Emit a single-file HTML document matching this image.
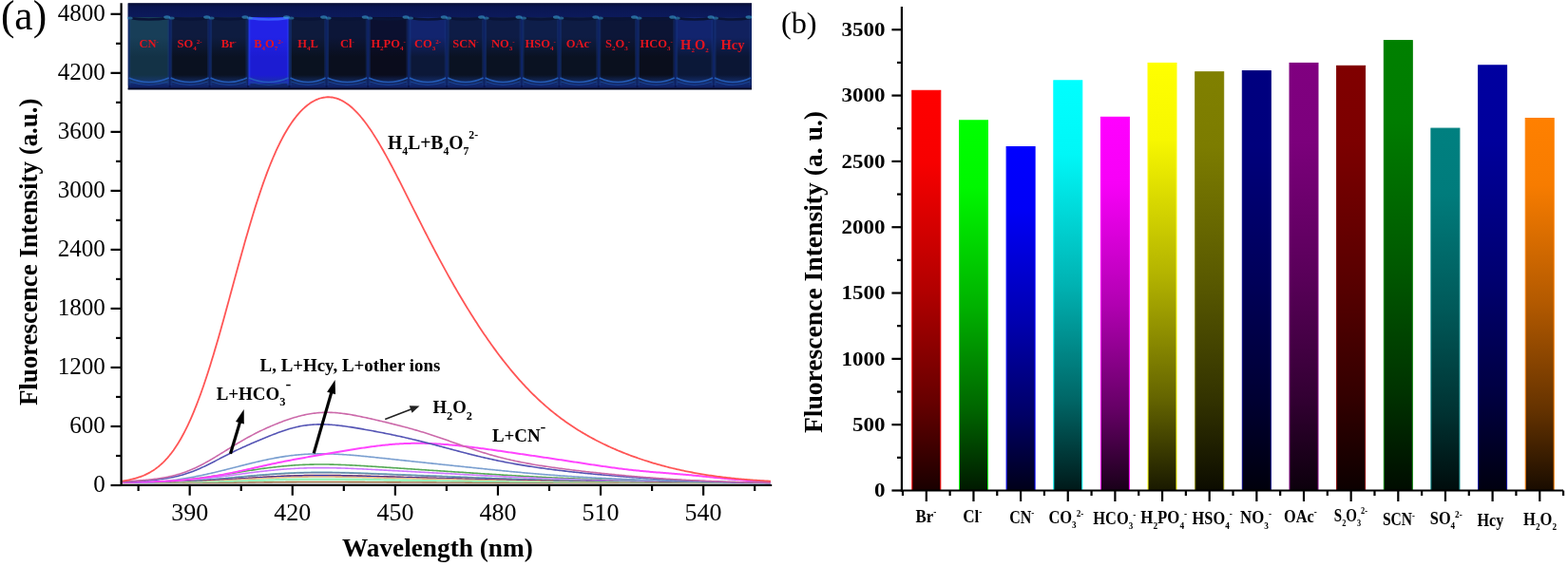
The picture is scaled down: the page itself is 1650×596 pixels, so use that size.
<!DOCTYPE html>
<html><head><meta charset="utf-8"><title>Fluorescence figure</title><style>
html,body{margin:0;padding:0;background:#fff;width:1650px;height:596px;overflow:hidden}
svg{display:block}
.sb{font-size:11px;baseline-shift:-4px}
.sp{font-size:11px;baseline-shift:6px}
.sb2{font-size:12px;baseline-shift:-6px}
.sp2{font-size:12px;baseline-shift:10px}
.pb{font-size:7px;baseline-shift:-3px}
.ps{font-size:7px;baseline-shift:4px}
</style></head>
<body><svg width="1650" height="596" viewBox="0 0 1650 596"><defs><linearGradient id="g0" x1="0" y1="0" x2="0" y2="1"><stop offset="0" stop-color="rgb(255,0,0)"/><stop offset="0.18" stop-color="rgb(247,0,0)"/><stop offset="0.5" stop-color="rgb(178,0,0)"/><stop offset="0.78" stop-color="rgb(102,0,0)"/><stop offset="1" stop-color="rgb(25,0,0)"/></linearGradient><linearGradient id="g1" x1="0" y1="0" x2="0" y2="1"><stop offset="0" stop-color="rgb(0,255,0)"/><stop offset="0.18" stop-color="rgb(0,247,0)"/><stop offset="0.5" stop-color="rgb(0,178,0)"/><stop offset="0.78" stop-color="rgb(0,102,0)"/><stop offset="1" stop-color="rgb(0,25,0)"/></linearGradient><linearGradient id="g2" x1="0" y1="0" x2="0" y2="1"><stop offset="0" stop-color="rgb(0,0,255)"/><stop offset="0.18" stop-color="rgb(0,0,247)"/><stop offset="0.5" stop-color="rgb(0,0,178)"/><stop offset="0.78" stop-color="rgb(0,0,102)"/><stop offset="1" stop-color="rgb(0,0,25)"/></linearGradient><linearGradient id="g3" x1="0" y1="0" x2="0" y2="1"><stop offset="0" stop-color="rgb(0,255,255)"/><stop offset="0.18" stop-color="rgb(0,247,247)"/><stop offset="0.5" stop-color="rgb(0,178,178)"/><stop offset="0.78" stop-color="rgb(0,102,102)"/><stop offset="1" stop-color="rgb(0,25,25)"/></linearGradient><linearGradient id="g4" x1="0" y1="0" x2="0" y2="1"><stop offset="0" stop-color="rgb(255,0,255)"/><stop offset="0.18" stop-color="rgb(247,0,247)"/><stop offset="0.5" stop-color="rgb(178,0,178)"/><stop offset="0.78" stop-color="rgb(102,0,102)"/><stop offset="1" stop-color="rgb(25,0,25)"/></linearGradient><linearGradient id="g5" x1="0" y1="0" x2="0" y2="1"><stop offset="0" stop-color="rgb(255,255,0)"/><stop offset="0.18" stop-color="rgb(247,247,0)"/><stop offset="0.5" stop-color="rgb(178,178,0)"/><stop offset="0.78" stop-color="rgb(102,102,0)"/><stop offset="1" stop-color="rgb(25,25,0)"/></linearGradient><linearGradient id="g6" x1="0" y1="0" x2="0" y2="1"><stop offset="0" stop-color="rgb(128,128,0)"/><stop offset="0.18" stop-color="rgb(124,124,0)"/><stop offset="0.5" stop-color="rgb(89,89,0)"/><stop offset="0.78" stop-color="rgb(51,51,0)"/><stop offset="1" stop-color="rgb(12,12,0)"/></linearGradient><linearGradient id="g7" x1="0" y1="0" x2="0" y2="1"><stop offset="0" stop-color="rgb(0,0,128)"/><stop offset="0.18" stop-color="rgb(0,0,124)"/><stop offset="0.5" stop-color="rgb(0,0,89)"/><stop offset="0.78" stop-color="rgb(0,0,51)"/><stop offset="1" stop-color="rgb(0,0,12)"/></linearGradient><linearGradient id="g8" x1="0" y1="0" x2="0" y2="1"><stop offset="0" stop-color="rgb(128,0,128)"/><stop offset="0.18" stop-color="rgb(124,0,124)"/><stop offset="0.5" stop-color="rgb(89,0,89)"/><stop offset="0.78" stop-color="rgb(51,0,51)"/><stop offset="1" stop-color="rgb(12,0,12)"/></linearGradient><linearGradient id="g9" x1="0" y1="0" x2="0" y2="1"><stop offset="0" stop-color="rgb(128,0,0)"/><stop offset="0.18" stop-color="rgb(124,0,0)"/><stop offset="0.5" stop-color="rgb(89,0,0)"/><stop offset="0.78" stop-color="rgb(51,0,0)"/><stop offset="1" stop-color="rgb(12,0,0)"/></linearGradient><linearGradient id="g10" x1="0" y1="0" x2="0" y2="1"><stop offset="0" stop-color="rgb(0,128,0)"/><stop offset="0.18" stop-color="rgb(0,124,0)"/><stop offset="0.5" stop-color="rgb(0,89,0)"/><stop offset="0.78" stop-color="rgb(0,51,0)"/><stop offset="1" stop-color="rgb(0,12,0)"/></linearGradient><linearGradient id="g11" x1="0" y1="0" x2="0" y2="1"><stop offset="0" stop-color="rgb(0,128,128)"/><stop offset="0.18" stop-color="rgb(0,124,124)"/><stop offset="0.5" stop-color="rgb(0,89,89)"/><stop offset="0.78" stop-color="rgb(0,51,51)"/><stop offset="1" stop-color="rgb(0,12,12)"/></linearGradient><linearGradient id="g12" x1="0" y1="0" x2="0" y2="1"><stop offset="0" stop-color="rgb(0,0,160)"/><stop offset="0.18" stop-color="rgb(0,0,155)"/><stop offset="0.5" stop-color="rgb(0,0,112)"/><stop offset="0.78" stop-color="rgb(0,0,64)"/><stop offset="1" stop-color="rgb(0,0,16)"/></linearGradient><linearGradient id="g13" x1="0" y1="0" x2="0" y2="1"><stop offset="0" stop-color="rgb(255,128,0)"/><stop offset="0.18" stop-color="rgb(247,124,0)"/><stop offset="0.5" stop-color="rgb(178,89,0)"/><stop offset="0.78" stop-color="rgb(102,51,0)"/><stop offset="1" stop-color="rgb(25,12,0)"/></linearGradient></defs><rect width="1650" height="596" fill="#fff"/><rect x="134.7" y="3.4" width="656.3" height="90.9" fill="#0a1650"/><defs><linearGradient id="v0" x1="0" y1="0" x2="0" y2="1"><stop offset="0" stop-color="#183e58"/><stop offset="0.3" stop-color="#183e58"/><stop offset="0.6" stop-color="#133246"/><stop offset="1" stop-color="#133246"/></linearGradient><linearGradient id="v1" x1="0" y1="0" x2="0" y2="1"><stop offset="0" stop-color="#0e1a3e"/><stop offset="0.3" stop-color="#0e1a3e"/><stop offset="0.6" stop-color="#0a1120"/><stop offset="1" stop-color="#0a1120"/></linearGradient><linearGradient id="v2" x1="0" y1="0" x2="0" y2="1"><stop offset="0" stop-color="#0e1c40"/><stop offset="0.3" stop-color="#0e1c40"/><stop offset="0.6" stop-color="#0a1222"/><stop offset="1" stop-color="#0a1222"/></linearGradient><linearGradient id="v3" x1="0" y1="0" x2="0" y2="1"><stop offset="0" stop-color="#2222e6"/><stop offset="0.3" stop-color="#2222e6"/><stop offset="0.6" stop-color="#1c1cd2"/><stop offset="1" stop-color="#1c1cd2"/></linearGradient><linearGradient id="v4" x1="0" y1="0" x2="0" y2="1"><stop offset="0" stop-color="#0e1a3c"/><stop offset="0.3" stop-color="#0e1a3c"/><stop offset="0.6" stop-color="#0a1220"/><stop offset="1" stop-color="#0a1220"/></linearGradient><linearGradient id="v5" x1="0" y1="0" x2="0" y2="1"><stop offset="0" stop-color="#0c1638"/><stop offset="0.3" stop-color="#0c1638"/><stop offset="0.6" stop-color="#0a0f1e"/><stop offset="1" stop-color="#0a0f1e"/></linearGradient><linearGradient id="v6" x1="0" y1="0" x2="0" y2="1"><stop offset="0" stop-color="#0b1030"/><stop offset="0.3" stop-color="#0b1030"/><stop offset="0.6" stop-color="#0a0c1c"/><stop offset="1" stop-color="#0a0c1c"/></linearGradient><linearGradient id="v7" x1="0" y1="0" x2="0" y2="1"><stop offset="0" stop-color="#12246e"/><stop offset="0.3" stop-color="#12246e"/><stop offset="0.6" stop-color="#0c1838"/><stop offset="1" stop-color="#0c1838"/></linearGradient><linearGradient id="v8" x1="0" y1="0" x2="0" y2="1"><stop offset="0" stop-color="#0e1c46"/><stop offset="0.3" stop-color="#0e1c46"/><stop offset="0.6" stop-color="#0a1222"/><stop offset="1" stop-color="#0a1222"/></linearGradient><linearGradient id="v9" x1="0" y1="0" x2="0" y2="1"><stop offset="0" stop-color="#0e1c46"/><stop offset="0.3" stop-color="#0e1c46"/><stop offset="0.6" stop-color="#0a1222"/><stop offset="1" stop-color="#0a1222"/></linearGradient><linearGradient id="v10" x1="0" y1="0" x2="0" y2="1"><stop offset="0" stop-color="#0e1e4a"/><stop offset="0.3" stop-color="#0e1e4a"/><stop offset="0.6" stop-color="#0a1222"/><stop offset="1" stop-color="#0a1222"/></linearGradient><linearGradient id="v11" x1="0" y1="0" x2="0" y2="1"><stop offset="0" stop-color="#0e1c44"/><stop offset="0.3" stop-color="#0e1c44"/><stop offset="0.6" stop-color="#0a1222"/><stop offset="1" stop-color="#0a1222"/></linearGradient><linearGradient id="v12" x1="0" y1="0" x2="0" y2="1"><stop offset="0" stop-color="#0c1638"/><stop offset="0.3" stop-color="#0c1638"/><stop offset="0.6" stop-color="#0a101e"/><stop offset="1" stop-color="#0a101e"/></linearGradient><linearGradient id="v13" x1="0" y1="0" x2="0" y2="1"><stop offset="0" stop-color="#0c1434"/><stop offset="0.3" stop-color="#0c1434"/><stop offset="0.6" stop-color="#0a0e1c"/><stop offset="1" stop-color="#0a0e1c"/></linearGradient><linearGradient id="v14" x1="0" y1="0" x2="0" y2="1"><stop offset="0" stop-color="#12246e"/><stop offset="0.3" stop-color="#12246e"/><stop offset="0.6" stop-color="#0b1838"/><stop offset="1" stop-color="#0b1838"/></linearGradient><linearGradient id="v15" x1="0" y1="0" x2="0" y2="1"><stop offset="0" stop-color="#11215e"/><stop offset="0.3" stop-color="#11215e"/><stop offset="0.6" stop-color="#0b1634"/><stop offset="1" stop-color="#0b1634"/></linearGradient><linearGradient id="capg" x1="0" y1="0" x2="0" y2="1"><stop offset="0" stop-color="#060c30"/><stop offset="0.25" stop-color="#0a1650"/><stop offset="1" stop-color="#0c1a5c"/></linearGradient><linearGradient id="botg" x1="0" y1="0" x2="0" y2="1"><stop offset="0" stop-color="#1a3c90" stop-opacity="0"/><stop offset="0.6" stop-color="#1a3c90" stop-opacity="0.6"/><stop offset="1" stop-color="#1a3c90" stop-opacity="0.3"/></linearGradient></defs><rect x="134.7" y="3.4" width="656.3" height="15" fill="url(#capg)"/><rect x="135.7" y="18" width="42.0" height="70" fill="url(#v0)"/><rect x="134.7" y="18" width="2.5" height="72" fill="#163a86" opacity="0.45"/><rect x="176.2" y="18" width="2.5" height="72" fill="#163a86" opacity="0.35"/><path d="M135.7,19 Q156.7,22 177.7,19" stroke="#0a1436" stroke-width="2.5" fill="none"/><ellipse cx="175.7" cy="18" rx="3.5" ry="1.8" fill="#3aa0d0" opacity="0.6"/><ellipse cx="136.7" cy="19" rx="3" ry="1.6" fill="#3596c8" opacity="0.55"/><rect x="135.7" y="79" width="42.0" height="13" fill="url(#botg)"/><path d="M135.7,82 Q156.7,91 177.7,82" stroke="#2660c0" stroke-width="1.6" fill="none" opacity="0.9"/><path d="M136.7,86 Q156.7,93 176.7,86" stroke="#1a48a0" stroke-width="1.2" fill="none" opacity="0.8"/><rect x="179.7" y="18" width="39.9" height="70" fill="url(#v1)"/><rect x="178.7" y="18" width="2.5" height="72" fill="#163a86" opacity="0.45"/><rect x="218.1" y="18" width="2.5" height="72" fill="#163a86" opacity="0.35"/><path d="M179.7,19 Q199.6,22 219.6,19" stroke="#0a1436" stroke-width="2.5" fill="none"/><ellipse cx="217.6" cy="18" rx="3.5" ry="1.8" fill="#3aa0d0" opacity="0.6"/><ellipse cx="180.7" cy="19" rx="3" ry="1.6" fill="#3596c8" opacity="0.55"/><rect x="179.7" y="79" width="39.9" height="13" fill="url(#botg)"/><path d="M179.7,82 Q199.6,91 219.6,82" stroke="#2660c0" stroke-width="1.6" fill="none" opacity="0.9"/><path d="M180.7,86 Q199.6,93 218.6,86" stroke="#1a48a0" stroke-width="1.2" fill="none" opacity="0.8"/><rect x="221.6" y="18" width="38.3" height="70" fill="url(#v2)"/><rect x="220.6" y="18" width="2.5" height="72" fill="#163a86" opacity="0.45"/><rect x="258.4" y="18" width="2.5" height="72" fill="#163a86" opacity="0.35"/><path d="M221.6,19 Q240.8,22 259.9,19" stroke="#0a1436" stroke-width="2.5" fill="none"/><ellipse cx="257.9" cy="18" rx="3.5" ry="1.8" fill="#3aa0d0" opacity="0.6"/><ellipse cx="222.6" cy="19" rx="3" ry="1.6" fill="#3596c8" opacity="0.55"/><rect x="221.6" y="79" width="38.3" height="13" fill="url(#botg)"/><path d="M221.6,82 Q240.8,91 259.9,82" stroke="#2660c0" stroke-width="1.6" fill="none" opacity="0.9"/><path d="M222.6,86 Q240.8,93 258.9,86" stroke="#1a48a0" stroke-width="1.2" fill="none" opacity="0.8"/><rect x="261.9" y="18" width="41.6" height="70" fill="url(#v3)"/><rect x="260.9" y="18" width="2.5" height="72" fill="#2a4cff" opacity="0.45"/><rect x="302.0" y="18" width="2.5" height="72" fill="#2a4cff" opacity="0.35"/><path d="M261.9,19 Q282.7,22 303.5,19" stroke="#3a5cff" stroke-width="2.5" fill="none"/><ellipse cx="301.5" cy="18" rx="3.5" ry="1.8" fill="#3aa0d0" opacity="0.6"/><ellipse cx="262.9" cy="19" rx="3" ry="1.6" fill="#3596c8" opacity="0.55"/><rect x="261.9" y="79" width="41.6" height="13" fill="url(#botg)"/><path d="M261.9,82 Q282.7,91 303.5,82" stroke="#2660c0" stroke-width="1.6" fill="none" opacity="0.9"/><path d="M262.9,86 Q282.7,93 302.5,86" stroke="#1a48a0" stroke-width="1.2" fill="none" opacity="0.8"/><rect x="305.5" y="18" width="37.1" height="70" fill="url(#v4)"/><rect x="304.5" y="18" width="2.5" height="72" fill="#163a86" opacity="0.45"/><rect x="341.1" y="18" width="2.5" height="72" fill="#163a86" opacity="0.35"/><path d="M305.5,19 Q324.1,22 342.6,19" stroke="#0a1436" stroke-width="2.5" fill="none"/><ellipse cx="340.6" cy="18" rx="3.5" ry="1.8" fill="#3aa0d0" opacity="0.6"/><ellipse cx="306.5" cy="19" rx="3" ry="1.6" fill="#3596c8" opacity="0.55"/><rect x="305.5" y="79" width="37.1" height="13" fill="url(#botg)"/><path d="M305.5,82 Q324.1,91 342.6,82" stroke="#2660c0" stroke-width="1.6" fill="none" opacity="0.9"/><path d="M306.5,86 Q324.1,93 341.6,86" stroke="#1a48a0" stroke-width="1.2" fill="none" opacity="0.8"/><rect x="344.6" y="18" width="41.6" height="70" fill="url(#v5)"/><rect x="343.6" y="18" width="2.5" height="72" fill="#163a86" opacity="0.45"/><rect x="384.7" y="18" width="2.5" height="72" fill="#163a86" opacity="0.35"/><path d="M344.6,19 Q365.4,22 386.2,19" stroke="#0a1436" stroke-width="2.5" fill="none"/><ellipse cx="384.2" cy="18" rx="3.5" ry="1.8" fill="#3aa0d0" opacity="0.6"/><ellipse cx="345.6" cy="19" rx="3" ry="1.6" fill="#3596c8" opacity="0.55"/><rect x="344.6" y="79" width="41.6" height="13" fill="url(#botg)"/><path d="M344.6,82 Q365.4,91 386.2,82" stroke="#2660c0" stroke-width="1.6" fill="none" opacity="0.9"/><path d="M345.6,86 Q365.4,93 385.2,86" stroke="#1a48a0" stroke-width="1.2" fill="none" opacity="0.8"/><rect x="388.2" y="18" width="40.8" height="70" fill="url(#v6)"/><rect x="387.2" y="18" width="2.5" height="72" fill="#163a86" opacity="0.45"/><rect x="427.5" y="18" width="2.5" height="72" fill="#163a86" opacity="0.35"/><path d="M388.2,19 Q408.6,22 429.0,19" stroke="#0a1436" stroke-width="2.5" fill="none"/><ellipse cx="427.0" cy="18" rx="3.5" ry="1.8" fill="#3aa0d0" opacity="0.6"/><ellipse cx="389.2" cy="19" rx="3" ry="1.6" fill="#3596c8" opacity="0.55"/><rect x="388.2" y="79" width="40.8" height="13" fill="url(#botg)"/><path d="M388.2,82 Q408.6,91 429.0,82" stroke="#2660c0" stroke-width="1.6" fill="none" opacity="0.9"/><path d="M389.2,86 Q408.6,93 428.0,86" stroke="#1a48a0" stroke-width="1.2" fill="none" opacity="0.8"/><rect x="431.0" y="18" width="38.2" height="70" fill="url(#v7)"/><rect x="430.0" y="18" width="2.5" height="72" fill="#163a86" opacity="0.45"/><rect x="467.7" y="18" width="2.5" height="72" fill="#163a86" opacity="0.35"/><path d="M431.0,19 Q450.1,22 469.2,19" stroke="#0a1436" stroke-width="2.5" fill="none"/><ellipse cx="467.2" cy="18" rx="3.5" ry="1.8" fill="#3aa0d0" opacity="0.6"/><ellipse cx="432.0" cy="19" rx="3" ry="1.6" fill="#3596c8" opacity="0.55"/><rect x="431.0" y="79" width="38.2" height="13" fill="url(#botg)"/><path d="M431.0,82 Q450.1,91 469.2,82" stroke="#2660c0" stroke-width="1.6" fill="none" opacity="0.9"/><path d="M432.0,86 Q450.1,93 468.2,86" stroke="#1a48a0" stroke-width="1.2" fill="none" opacity="0.8"/><rect x="471.2" y="18" width="37.4" height="70" fill="url(#v8)"/><rect x="470.2" y="18" width="2.5" height="72" fill="#163a86" opacity="0.45"/><rect x="507.1" y="18" width="2.5" height="72" fill="#163a86" opacity="0.35"/><path d="M471.2,19 Q489.9,22 508.6,19" stroke="#0a1436" stroke-width="2.5" fill="none"/><ellipse cx="506.6" cy="18" rx="3.5" ry="1.8" fill="#3aa0d0" opacity="0.6"/><ellipse cx="472.2" cy="19" rx="3" ry="1.6" fill="#3596c8" opacity="0.55"/><rect x="471.2" y="79" width="37.4" height="13" fill="url(#botg)"/><path d="M471.2,82 Q489.9,91 508.6,82" stroke="#2660c0" stroke-width="1.6" fill="none" opacity="0.9"/><path d="M472.2,86 Q489.9,93 507.6,86" stroke="#1a48a0" stroke-width="1.2" fill="none" opacity="0.8"/><rect x="510.6" y="18" width="37.4" height="70" fill="url(#v9)"/><rect x="509.6" y="18" width="2.5" height="72" fill="#163a86" opacity="0.45"/><rect x="546.5" y="18" width="2.5" height="72" fill="#163a86" opacity="0.35"/><path d="M510.6,19 Q529.3,22 548.0,19" stroke="#0a1436" stroke-width="2.5" fill="none"/><ellipse cx="546.0" cy="18" rx="3.5" ry="1.8" fill="#3aa0d0" opacity="0.6"/><ellipse cx="511.6" cy="19" rx="3" ry="1.6" fill="#3596c8" opacity="0.55"/><rect x="510.6" y="79" width="37.4" height="13" fill="url(#botg)"/><path d="M510.6,82 Q529.3,91 548.0,82" stroke="#2660c0" stroke-width="1.6" fill="none" opacity="0.9"/><path d="M511.6,86 Q529.3,93 547.0,86" stroke="#1a48a0" stroke-width="1.2" fill="none" opacity="0.8"/><rect x="550.0" y="18" width="37.4" height="70" fill="url(#v10)"/><rect x="549.0" y="18" width="2.5" height="72" fill="#163a86" opacity="0.45"/><rect x="585.9" y="18" width="2.5" height="72" fill="#163a86" opacity="0.35"/><path d="M550.0,19 Q568.7,22 587.4,19" stroke="#0a1436" stroke-width="2.5" fill="none"/><ellipse cx="585.4" cy="18" rx="3.5" ry="1.8" fill="#3aa0d0" opacity="0.6"/><ellipse cx="551.0" cy="19" rx="3" ry="1.6" fill="#3596c8" opacity="0.55"/><rect x="550.0" y="79" width="37.4" height="13" fill="url(#botg)"/><path d="M550.0,82 Q568.7,91 587.4,82" stroke="#2660c0" stroke-width="1.6" fill="none" opacity="0.9"/><path d="M551.0,86 Q568.7,93 586.4,86" stroke="#1a48a0" stroke-width="1.2" fill="none" opacity="0.8"/><rect x="589.4" y="18" width="39.4" height="70" fill="url(#v11)"/><rect x="588.4" y="18" width="2.5" height="72" fill="#163a86" opacity="0.45"/><rect x="627.3" y="18" width="2.5" height="72" fill="#163a86" opacity="0.35"/><path d="M589.4,19 Q609.1,22 628.8,19" stroke="#0a1436" stroke-width="2.5" fill="none"/><ellipse cx="626.8" cy="18" rx="3.5" ry="1.8" fill="#3aa0d0" opacity="0.6"/><ellipse cx="590.4" cy="19" rx="3" ry="1.6" fill="#3596c8" opacity="0.55"/><rect x="589.4" y="79" width="39.4" height="13" fill="url(#botg)"/><path d="M589.4,82 Q609.1,91 628.8,82" stroke="#2660c0" stroke-width="1.6" fill="none" opacity="0.9"/><path d="M590.4,86 Q609.1,93 627.8,86" stroke="#1a48a0" stroke-width="1.2" fill="none" opacity="0.8"/><rect x="630.8" y="18" width="38.7" height="70" fill="url(#v12)"/><rect x="629.8" y="18" width="2.5" height="72" fill="#163a86" opacity="0.45"/><rect x="668.0" y="18" width="2.5" height="72" fill="#163a86" opacity="0.35"/><path d="M630.8,19 Q650.1,22 669.5,19" stroke="#0a1436" stroke-width="2.5" fill="none"/><ellipse cx="667.5" cy="18" rx="3.5" ry="1.8" fill="#3aa0d0" opacity="0.6"/><ellipse cx="631.8" cy="19" rx="3" ry="1.6" fill="#3596c8" opacity="0.55"/><rect x="630.8" y="79" width="38.7" height="13" fill="url(#botg)"/><path d="M630.8,82 Q650.1,91 669.5,82" stroke="#2660c0" stroke-width="1.6" fill="none" opacity="0.9"/><path d="M631.8,86 Q650.1,93 668.5,86" stroke="#1a48a0" stroke-width="1.2" fill="none" opacity="0.8"/><rect x="671.5" y="18" width="38.2" height="70" fill="url(#v13)"/><rect x="670.5" y="18" width="2.5" height="72" fill="#163a86" opacity="0.45"/><rect x="708.2" y="18" width="2.5" height="72" fill="#163a86" opacity="0.35"/><path d="M671.5,19 Q690.6,22 709.7,19" stroke="#0a1436" stroke-width="2.5" fill="none"/><ellipse cx="707.7" cy="18" rx="3.5" ry="1.8" fill="#3aa0d0" opacity="0.6"/><ellipse cx="672.5" cy="19" rx="3" ry="1.6" fill="#3596c8" opacity="0.55"/><rect x="671.5" y="79" width="38.2" height="13" fill="url(#botg)"/><path d="M671.5,82 Q690.6,91 709.7,82" stroke="#2660c0" stroke-width="1.6" fill="none" opacity="0.9"/><path d="M672.5,86 Q690.6,93 708.7,86" stroke="#1a48a0" stroke-width="1.2" fill="none" opacity="0.8"/><rect x="711.7" y="18" width="38.3" height="70" fill="url(#v14)"/><rect x="710.7" y="18" width="2.5" height="72" fill="#163a86" opacity="0.45"/><rect x="748.5" y="18" width="2.5" height="72" fill="#163a86" opacity="0.35"/><path d="M711.7,19 Q730.9,22 750.0,19" stroke="#0a1436" stroke-width="2.5" fill="none"/><ellipse cx="748.0" cy="18" rx="3.5" ry="1.8" fill="#3aa0d0" opacity="0.6"/><ellipse cx="712.7" cy="19" rx="3" ry="1.6" fill="#3596c8" opacity="0.55"/><rect x="711.7" y="79" width="38.3" height="13" fill="url(#botg)"/><path d="M711.7,82 Q730.9,91 750.0,82" stroke="#2660c0" stroke-width="1.6" fill="none" opacity="0.9"/><path d="M712.7,86 Q730.9,93 749.0,86" stroke="#1a48a0" stroke-width="1.2" fill="none" opacity="0.8"/><rect x="752.0" y="18" width="38.0" height="70" fill="url(#v15)"/><rect x="751.0" y="18" width="2.5" height="72" fill="#163a86" opacity="0.45"/><rect x="788.5" y="18" width="2.5" height="72" fill="#163a86" opacity="0.35"/><path d="M752.0,19 Q771.0,22 790.0,19" stroke="#0a1436" stroke-width="2.5" fill="none"/><ellipse cx="788.0" cy="18" rx="3.5" ry="1.8" fill="#3aa0d0" opacity="0.6"/><ellipse cx="753.0" cy="19" rx="3" ry="1.6" fill="#3596c8" opacity="0.55"/><rect x="752.0" y="79" width="38.0" height="13" fill="url(#botg)"/><path d="M752.0,82 Q771.0,91 790.0,82" stroke="#2660c0" stroke-width="1.6" fill="none" opacity="0.9"/><path d="M753.0,86 Q771.0,93 789.0,86" stroke="#1a48a0" stroke-width="1.2" fill="none" opacity="0.8"/><rect x="134.7" y="92.8" width="656.3" height="1.5" fill="#050a20"/><g font-family="Liberation Serif, serif" font-weight="bold" font-size="12.5" fill="#e5141e" text-anchor="middle"><text x="156.7" y="50.3">CN<tspan class="ps">-</tspan></text><text x="199.6" y="50.3">SO<tspan class="pb">4</tspan><tspan class="ps">2-</tspan></text><text x="240.8" y="50.3">Br<tspan class="ps">-</tspan></text><text x="282.7" y="50.3">B<tspan class="pb">4</tspan>O<tspan class="pb">7</tspan><tspan class="ps">2-</tspan></text><text x="324.1" y="50.3">H<tspan class="pb">4</tspan>L</text><text x="365.4" y="50.3">Cl<tspan class="ps">-</tspan></text><text x="408.6" y="50.3">H<tspan class="pb">2</tspan>PO<tspan class="pb">4</tspan><tspan class="ps">-</tspan></text><text x="450.1" y="50.3">CO<tspan class="pb">3</tspan><tspan class="ps">2-</tspan></text><text x="489.9" y="50.3">SCN<tspan class="ps">-</tspan></text><text x="529.3" y="50.3">NO<tspan class="pb">3</tspan><tspan class="ps">-</tspan></text><text x="568.7" y="50.3">HSO<tspan class="pb">4</tspan><tspan class="ps">-</tspan></text><text x="609.1" y="50.3">OAc<tspan class="ps">-</tspan></text><text x="650.1" y="50.3">S<tspan class="pb">2</tspan>O<tspan class="pb">3</tspan><tspan class="ps">-</tspan></text><text x="690.6" y="50.3">HCO<tspan class="pb">3</tspan><tspan class="ps">-</tspan></text><text x="730.9" y="52" font-size="14.5">H<tspan class="pb">2</tspan>O<tspan class="pb">2</tspan></text><text x="771.0" y="52" font-size="14.5">Hcy</text></g><g fill="none" stroke-width="1.6" stroke-linejoin="round"><path d="M128.5,507.44 L130.0,507.46 L131.5,507.50 L133.0,507.53 L134.5,507.57 L136.0,507.62 L137.5,507.66 L139.0,507.70 L140.5,507.73 L142.0,507.77 L143.5,507.79 L145.0,507.82 L146.5,507.83 L148.0,507.84 L149.5,507.85 L151.0,507.84 L152.5,507.83 L154.0,507.81 L155.5,507.78 L157.0,507.75 L158.5,507.70 L160.0,507.65 L161.5,507.60 L163.0,507.54 L164.5,507.47 L166.0,507.39 L167.5,507.31 L169.0,507.23 L170.5,507.14 L172.0,507.04 L173.5,506.95 L175.0,506.84 L176.5,506.73 L178.0,506.62 L179.5,506.51 L181.0,506.39 L182.5,506.26 L184.0,506.14 L185.5,506.01 L187.0,505.87 L188.5,505.73 L190.0,505.59 L191.5,505.45 L193.0,505.30 L194.5,505.14 L196.0,504.99 L197.5,504.83 L199.0,504.66 L200.5,504.50 L202.0,504.33 L203.5,504.15 L205.0,503.97 L206.5,503.79 L208.0,503.61 L209.5,503.42 L211.0,503.23 L212.5,503.04 L214.0,502.84 L215.5,502.64 L217.0,502.44 L218.5,502.23 L220.0,502.02 L221.5,501.81 L223.0,501.60 L224.5,501.38 L226.0,501.16 L227.5,500.94 L229.0,500.72 L230.5,500.49 L232.0,500.26 L233.5,500.03 L235.0,499.80 L236.5,499.57 L238.0,499.34 L239.5,499.10 L241.0,498.87 L242.5,498.63 L244.0,498.39 L245.5,498.15 L247.0,497.92 L248.5,497.68 L250.0,497.44 L251.5,497.20 L253.0,496.96 L254.5,496.73 L256.0,496.49 L257.5,496.25 L259.0,496.02 L260.5,495.78 L262.0,495.55 L263.5,495.32 L265.0,495.09 L266.5,494.87 L268.0,494.64 L269.5,494.42 L271.0,494.20 L272.5,493.99 L274.0,493.77 L275.5,493.56 L277.0,493.36 L278.5,493.15 L280.0,492.95 L281.5,492.76 L283.0,492.56 L284.5,492.38 L286.0,492.19 L287.5,492.01 L289.0,491.84 L290.5,491.67 L292.0,491.50 L293.5,491.34 L295.0,491.18 L296.5,491.03 L298.0,490.88 L299.5,490.74 L301.0,490.61 L302.5,490.48 L304.0,490.35 L305.5,490.23 L307.0,490.12 L308.5,490.01 L310.0,489.91 L311.5,489.81 L313.0,489.72 L314.5,489.63 L316.0,489.55 L317.5,489.48 L319.0,489.41 L320.5,489.34 L322.0,489.29 L323.5,489.23 L325.0,489.19 L326.5,489.15 L328.0,489.11 L329.5,489.08 L331.0,489.05 L332.5,489.03 L334.0,489.02 L335.5,489.01 L337.0,489.00 L338.5,489.00 L340.0,489.00 L341.5,489.01 L343.0,489.03 L344.5,489.04 L346.0,489.07 L347.5,489.09 L349.0,489.12 L350.5,489.16 L352.0,489.19 L353.5,489.24 L355.0,489.28 L356.5,489.33 L358.0,489.38 L359.5,489.44 L361.0,489.50 L362.5,489.56 L364.0,489.62 L365.5,489.69 L367.0,489.76 L368.5,489.83 L370.0,489.90 L371.5,489.98 L373.0,490.06 L374.5,490.14 L376.0,490.22 L377.5,490.31 L379.0,490.39 L380.5,490.48 L382.0,490.57 L383.5,490.66 L385.0,490.75 L386.5,490.84 L388.0,490.93 L389.5,491.03 L391.0,491.12 L392.5,491.22 L394.0,491.32 L395.5,491.41 L397.0,491.51 L398.5,491.61 L400.0,491.71 L401.5,491.81 L403.0,491.91 L404.5,492.01 L406.0,492.11 L407.5,492.21 L409.0,492.31 L410.5,492.41 L412.0,492.51 L413.5,492.61 L415.0,492.71 L416.5,492.81 L418.0,492.91 L419.5,493.01 L421.0,493.11 L422.5,493.21 L424.0,493.31 L425.5,493.41 L427.0,493.51 L428.5,493.60 L430.0,493.70 L431.5,493.80 L433.0,493.90 L434.5,494.00 L436.0,494.10 L437.5,494.20 L439.0,494.30 L440.5,494.39 L442.0,494.49 L443.5,494.59 L445.0,494.69 L446.5,494.79 L448.0,494.88 L449.5,494.98 L451.0,495.08 L452.5,495.18 L454.0,495.27 L455.5,495.37 L457.0,495.47 L458.5,495.57 L460.0,495.66 L461.5,495.76 L463.0,495.86 L464.5,495.95 L466.0,496.05 L467.5,496.15 L469.0,496.25 L470.5,496.34 L472.0,496.44 L473.5,496.54 L475.0,496.64 L476.5,496.73 L478.0,496.83 L479.5,496.93 L481.0,497.03 L482.5,497.12 L484.0,497.22 L485.5,497.32 L487.0,497.42 L488.5,497.51 L490.0,497.61 L491.5,497.71 L493.0,497.81 L494.5,497.90 L496.0,498.00 L497.5,498.10 L499.0,498.19 L500.5,498.29 L502.0,498.39 L503.5,498.49 L505.0,498.58 L506.5,498.68 L508.0,498.78 L509.5,498.87 L511.0,498.97 L512.5,499.06 L514.0,499.16 L515.5,499.26 L517.0,499.35 L518.5,499.45 L520.0,499.54 L521.5,499.63 L523.0,499.73 L524.5,499.82 L526.0,499.91 L527.5,500.01 L529.0,500.10 L530.5,500.19 L532.0,500.28 L533.5,500.37 L535.0,500.47 L536.5,500.56 L538.0,500.64 L539.5,500.73 L541.0,500.82 L542.5,500.91 L544.0,501.00 L545.5,501.08 L547.0,501.17 L548.5,501.26 L550.0,501.34 L551.5,501.43 L553.0,501.51 L554.5,501.59 L556.0,501.67 L557.5,501.76 L559.0,501.84 L560.5,501.92 L562.0,502.00 L563.5,502.07 L565.0,502.15 L566.5,502.23 L568.0,502.31 L569.5,502.38 L571.0,502.46 L572.5,502.53 L574.0,502.60 L575.5,502.68 L577.0,502.75 L578.5,502.82 L580.0,502.89 L581.5,502.96 L583.0,503.03 L584.5,503.10 L586.0,503.16 L587.5,503.23 L589.0,503.30 L590.5,503.36 L592.0,503.42 L593.5,503.49 L595.0,503.55 L596.5,503.61 L598.0,503.67 L599.5,503.73 L601.0,503.79 L602.5,503.85 L604.0,503.91 L605.5,503.97 L607.0,504.02 L608.5,504.08 L610.0,504.14 L611.5,504.19 L613.0,504.24 L614.5,504.30 L616.0,504.35 L617.5,504.40 L619.0,504.45 L620.5,504.51 L622.0,504.56 L623.5,504.60 L625.0,504.65 L626.5,504.70 L628.0,504.75 L629.5,504.80 L631.0,504.84 L632.5,504.89 L634.0,504.94 L635.5,504.98 L637.0,505.03 L638.5,505.07 L640.0,505.11 L641.5,505.16 L643.0,505.20 L644.5,505.24 L646.0,505.28 L647.5,505.32 L649.0,505.36 L650.5,505.40 L652.0,505.44 L653.5,505.48 L655.0,505.52 L656.5,505.56 L658.0,505.60 L659.5,505.64 L661.0,505.68 L662.5,505.71 L664.0,505.75 L665.5,505.79 L667.0,505.82 L668.5,505.86 L670.0,505.89 L671.5,505.93 L673.0,505.96 L674.5,506.00 L676.0,506.03 L677.5,506.07 L679.0,506.10 L680.5,506.14 L682.0,506.17 L683.5,506.20 L685.0,506.24 L686.5,506.27 L688.0,506.30 L689.5,506.33 L691.0,506.36 L692.5,506.40 L694.0,506.43 L695.5,506.46 L697.0,506.49 L698.5,506.52 L700.0,506.55 L701.5,506.58 L703.0,506.61 L704.5,506.64 L706.0,506.67 L707.5,506.70 L709.0,506.73 L710.5,506.76 L712.0,506.79 L713.5,506.82 L715.0,506.85 L716.5,506.88 L718.0,506.91 L719.5,506.94 L721.0,506.97 L722.5,506.99 L724.0,507.02 L725.5,507.05 L727.0,507.08 L728.5,507.11 L730.0,507.13 L731.5,507.16 L733.0,507.19 L734.5,507.22 L736.0,507.24 L737.5,507.27 L739.0,507.30 L740.5,507.32 L742.0,507.35 L743.5,507.38 L745.0,507.40 L746.5,507.43 L748.0,507.45 L749.5,507.48 L751.0,507.50 L752.5,507.53 L754.0,507.55 L755.5,507.58 L757.0,507.60 L758.5,507.63 L760.0,507.65 L761.5,507.68 L763.0,507.70 L764.5,507.73 L766.0,507.75 L767.5,507.77 L769.0,507.80 L770.5,507.82 L772.0,507.85 L773.5,507.87 L775.0,507.89 L776.5,507.91 L778.0,507.94 L779.5,507.96 L781.0,507.98 L782.5,508.00 L784.0,508.03 L785.5,508.05 L787.0,508.07 L788.5,508.09 L790.0,508.11 L791.5,508.13 L793.0,508.15 L794.5,508.18 L796.0,508.20 L797.5,508.22 L799.0,508.24 L800.5,508.26 L802.0,508.28 L803.5,508.30 L805.0,508.32 L806.5,508.34 L808.0,508.36 L809.5,508.37 L811.0,508.39" stroke="#55aa55"/><path d="M128.5,507.81 L130.0,507.84 L131.5,507.86 L133.0,507.90 L134.5,507.93 L136.0,507.96 L137.5,508.00 L139.0,508.03 L140.5,508.06 L142.0,508.09 L143.5,508.11 L145.0,508.13 L146.5,508.14 L148.0,508.15 L149.5,508.15 L151.0,508.15 L152.5,508.14 L154.0,508.12 L155.5,508.10 L157.0,508.07 L158.5,508.03 L160.0,507.99 L161.5,507.95 L163.0,507.90 L164.5,507.84 L166.0,507.78 L167.5,507.71 L169.0,507.64 L170.5,507.57 L172.0,507.49 L173.5,507.41 L175.0,507.32 L176.5,507.23 L178.0,507.14 L179.5,507.05 L181.0,506.95 L182.5,506.85 L184.0,506.74 L185.5,506.63 L187.0,506.52 L188.5,506.41 L190.0,506.29 L191.5,506.17 L193.0,506.05 L194.5,505.92 L196.0,505.79 L197.5,505.66 L199.0,505.53 L200.5,505.39 L202.0,505.25 L203.5,505.10 L205.0,504.96 L206.5,504.81 L208.0,504.66 L209.5,504.50 L211.0,504.34 L212.5,504.18 L214.0,504.02 L215.5,503.86 L217.0,503.69 L218.5,503.52 L220.0,503.35 L221.5,503.17 L223.0,503.00 L224.5,502.82 L226.0,502.64 L227.5,502.45 L229.0,502.27 L230.5,502.08 L232.0,501.89 L233.5,501.71 L235.0,501.52 L236.5,501.32 L238.0,501.13 L239.5,500.94 L241.0,500.74 L242.5,500.55 L244.0,500.35 L245.5,500.15 L247.0,499.96 L248.5,499.76 L250.0,499.56 L251.5,499.37 L253.0,499.17 L254.5,498.98 L256.0,498.78 L257.5,498.59 L259.0,498.39 L260.5,498.20 L262.0,498.01 L263.5,497.82 L265.0,497.63 L266.5,497.44 L268.0,497.26 L269.5,497.07 L271.0,496.89 L272.5,496.72 L274.0,496.54 L275.5,496.37 L277.0,496.19 L278.5,496.03 L280.0,495.86 L281.5,495.70 L283.0,495.54 L284.5,495.39 L286.0,495.23 L287.5,495.09 L289.0,494.94 L290.5,494.80 L292.0,494.66 L293.5,494.53 L295.0,494.40 L296.5,494.28 L298.0,494.16 L299.5,494.04 L301.0,493.93 L302.5,493.82 L304.0,493.72 L305.5,493.62 L307.0,493.52 L308.5,493.43 L310.0,493.35 L311.5,493.27 L313.0,493.19 L314.5,493.12 L316.0,493.06 L317.5,492.99 L319.0,492.94 L320.5,492.88 L322.0,492.84 L323.5,492.79 L325.0,492.75 L326.5,492.72 L328.0,492.69 L329.5,492.66 L331.0,492.64 L332.5,492.63 L334.0,492.61 L335.5,492.61 L337.0,492.60 L338.5,492.60 L340.0,492.60 L341.5,492.61 L343.0,492.62 L344.5,492.64 L346.0,492.65 L347.5,492.68 L349.0,492.70 L350.5,492.73 L352.0,492.76 L353.5,492.79 L355.0,492.83 L356.5,492.87 L358.0,492.92 L359.5,492.96 L361.0,493.01 L362.5,493.06 L364.0,493.11 L365.5,493.17 L367.0,493.23 L368.5,493.28 L370.0,493.35 L371.5,493.41 L373.0,493.47 L374.5,493.54 L376.0,493.61 L377.5,493.68 L379.0,493.75 L380.5,493.82 L382.0,493.89 L383.5,493.97 L385.0,494.04 L386.5,494.12 L388.0,494.20 L389.5,494.27 L391.0,494.35 L392.5,494.43 L394.0,494.51 L395.5,494.59 L397.0,494.67 L398.5,494.75 L400.0,494.83 L401.5,494.92 L403.0,495.00 L404.5,495.08 L406.0,495.16 L407.5,495.24 L409.0,495.33 L410.5,495.41 L412.0,495.49 L413.5,495.58 L415.0,495.66 L416.5,495.74 L418.0,495.82 L419.5,495.91 L421.0,495.99 L422.5,496.07 L424.0,496.15 L425.5,496.24 L427.0,496.32 L428.5,496.40 L430.0,496.48 L431.5,496.56 L433.0,496.65 L434.5,496.73 L436.0,496.81 L437.5,496.89 L439.0,496.97 L440.5,497.05 L442.0,497.13 L443.5,497.21 L445.0,497.29 L446.5,497.37 L448.0,497.46 L449.5,497.54 L451.0,497.62 L452.5,497.70 L454.0,497.78 L455.5,497.86 L457.0,497.94 L458.5,498.02 L460.0,498.10 L461.5,498.18 L463.0,498.26 L464.5,498.34 L466.0,498.42 L467.5,498.50 L469.0,498.58 L470.5,498.66 L472.0,498.74 L473.5,498.82 L475.0,498.90 L476.5,498.98 L478.0,499.06 L479.5,499.14 L481.0,499.22 L482.5,499.30 L484.0,499.38 L485.5,499.46 L487.0,499.54 L488.5,499.63 L490.0,499.71 L491.5,499.79 L493.0,499.87 L494.5,499.95 L496.0,500.03 L497.5,500.11 L499.0,500.19 L500.5,500.27 L502.0,500.35 L503.5,500.43 L505.0,500.51 L506.5,500.59 L508.0,500.67 L509.5,500.75 L511.0,500.83 L512.5,500.91 L514.0,500.98 L515.5,501.06 L517.0,501.14 L518.5,501.22 L520.0,501.30 L521.5,501.38 L523.0,501.45 L524.5,501.53 L526.0,501.61 L527.5,501.68 L529.0,501.76 L530.5,501.84 L532.0,501.91 L533.5,501.99 L535.0,502.06 L536.5,502.14 L538.0,502.21 L539.5,502.28 L541.0,502.36 L542.5,502.43 L544.0,502.50 L545.5,502.57 L547.0,502.64 L548.5,502.71 L550.0,502.78 L551.5,502.85 L553.0,502.92 L554.5,502.99 L556.0,503.06 L557.5,503.13 L559.0,503.19 L560.5,503.26 L562.0,503.32 L563.5,503.39 L565.0,503.45 L566.5,503.52 L568.0,503.58 L569.5,503.64 L571.0,503.70 L572.5,503.77 L574.0,503.83 L575.5,503.89 L577.0,503.95 L578.5,504.00 L580.0,504.06 L581.5,504.12 L583.0,504.18 L584.5,504.23 L586.0,504.29 L587.5,504.34 L589.0,504.40 L590.5,504.45 L592.0,504.50 L593.5,504.56 L595.0,504.61 L596.5,504.66 L598.0,504.71 L599.5,504.76 L601.0,504.81 L602.5,504.86 L604.0,504.90 L605.5,504.95 L607.0,505.00 L608.5,505.05 L610.0,505.09 L611.5,505.14 L613.0,505.18 L614.5,505.22 L616.0,505.27 L617.5,505.31 L619.0,505.35 L620.5,505.40 L622.0,505.44 L623.5,505.48 L625.0,505.52 L626.5,505.56 L628.0,505.60 L629.5,505.64 L631.0,505.68 L632.5,505.71 L634.0,505.75 L635.5,505.79 L637.0,505.82 L638.5,505.86 L640.0,505.90 L641.5,505.93 L643.0,505.97 L644.5,506.00 L646.0,506.04 L647.5,506.07 L649.0,506.10 L650.5,506.14 L652.0,506.17 L653.5,506.20 L655.0,506.24 L656.5,506.27 L658.0,506.30 L659.5,506.33 L661.0,506.36 L662.5,506.39 L664.0,506.42 L665.5,506.45 L667.0,506.48 L668.5,506.51 L670.0,506.54 L671.5,506.57 L673.0,506.60 L674.5,506.63 L676.0,506.66 L677.5,506.69 L679.0,506.71 L680.5,506.74 L682.0,506.77 L683.5,506.80 L685.0,506.82 L686.5,506.85 L688.0,506.88 L689.5,506.90 L691.0,506.93 L692.5,506.96 L694.0,506.98 L695.5,507.01 L697.0,507.03 L698.5,507.06 L700.0,507.09 L701.5,507.11 L703.0,507.14 L704.5,507.16 L706.0,507.19 L707.5,507.21 L709.0,507.23 L710.5,507.26 L712.0,507.28 L713.5,507.31 L715.0,507.33 L716.5,507.36 L718.0,507.38 L719.5,507.40 L721.0,507.43 L722.5,507.45 L724.0,507.47 L725.5,507.50 L727.0,507.52 L728.5,507.54 L730.0,507.56 L731.5,507.59 L733.0,507.61 L734.5,507.63 L736.0,507.65 L737.5,507.68 L739.0,507.70 L740.5,507.72 L742.0,507.74 L743.5,507.76 L745.0,507.79 L746.5,507.81 L748.0,507.83 L749.5,507.85 L751.0,507.87 L752.5,507.89 L754.0,507.91 L755.5,507.93 L757.0,507.95 L758.5,507.97 L760.0,507.99 L761.5,508.01 L763.0,508.03 L764.5,508.05 L766.0,508.07 L767.5,508.09 L769.0,508.11 L770.5,508.13 L772.0,508.15 L773.5,508.17 L775.0,508.19 L776.5,508.21 L778.0,508.23 L779.5,508.25 L781.0,508.26 L782.5,508.28 L784.0,508.30 L785.5,508.32 L787.0,508.34 L788.5,508.35 L790.0,508.37 L791.5,508.39 L793.0,508.41 L794.5,508.42 L796.0,508.44 L797.5,508.46 L799.0,508.48 L800.5,508.49 L802.0,508.51 L803.5,508.52 L805.0,508.54 L806.5,508.56 L808.0,508.57 L809.5,508.59 L811.0,508.60" stroke="#cc77ff"/><path d="M128.5,508.30 L130.0,508.31 L131.5,508.33 L133.0,508.36 L134.5,508.38 L136.0,508.41 L137.5,508.43 L139.0,508.45 L140.5,508.48 L142.0,508.50 L143.5,508.51 L145.0,508.53 L146.5,508.54 L148.0,508.54 L149.5,508.54 L151.0,508.54 L152.5,508.53 L154.0,508.52 L155.5,508.50 L157.0,508.48 L158.5,508.46 L160.0,508.43 L161.5,508.39 L163.0,508.36 L164.5,508.32 L166.0,508.27 L167.5,508.22 L169.0,508.17 L170.5,508.12 L172.0,508.06 L173.5,508.00 L175.0,507.94 L176.5,507.87 L178.0,507.81 L179.5,507.74 L181.0,507.67 L182.5,507.59 L184.0,507.52 L185.5,507.44 L187.0,507.36 L188.5,507.27 L190.0,507.19 L191.5,507.10 L193.0,507.01 L194.5,506.92 L196.0,506.82 L197.5,506.73 L199.0,506.63 L200.5,506.53 L202.0,506.43 L203.5,506.32 L205.0,506.21 L206.5,506.11 L208.0,505.99 L209.5,505.88 L211.0,505.77 L212.5,505.65 L214.0,505.53 L215.5,505.41 L217.0,505.29 L218.5,505.16 L220.0,505.04 L221.5,504.91 L223.0,504.78 L224.5,504.65 L226.0,504.52 L227.5,504.39 L229.0,504.25 L230.5,504.12 L232.0,503.98 L233.5,503.84 L235.0,503.70 L236.5,503.56 L238.0,503.42 L239.5,503.28 L241.0,503.14 L242.5,503.00 L244.0,502.85 L245.5,502.71 L247.0,502.57 L248.5,502.42 L250.0,502.28 L251.5,502.14 L253.0,501.99 L254.5,501.85 L256.0,501.71 L257.5,501.57 L259.0,501.42 L260.5,501.28 L262.0,501.14 L263.5,501.01 L265.0,500.87 L266.5,500.73 L268.0,500.60 L269.5,500.46 L271.0,500.33 L272.5,500.20 L274.0,500.07 L275.5,499.95 L277.0,499.82 L278.5,499.70 L280.0,499.58 L281.5,499.46 L283.0,499.35 L284.5,499.23 L286.0,499.12 L287.5,499.01 L289.0,498.91 L290.5,498.80 L292.0,498.70 L293.5,498.61 L295.0,498.51 L296.5,498.42 L298.0,498.33 L299.5,498.25 L301.0,498.17 L302.5,498.09 L304.0,498.01 L305.5,497.94 L307.0,497.87 L308.5,497.81 L310.0,497.75 L311.5,497.69 L313.0,497.63 L314.5,497.58 L316.0,497.53 L317.5,497.49 L319.0,497.45 L320.5,497.41 L322.0,497.37 L323.5,497.34 L325.0,497.31 L326.5,497.29 L328.0,497.27 L329.5,497.25 L331.0,497.23 L332.5,497.22 L334.0,497.21 L335.5,497.20 L337.0,497.20 L338.5,497.20 L340.0,497.20 L341.5,497.21 L343.0,497.22 L344.5,497.23 L346.0,497.24 L347.5,497.26 L349.0,497.27 L350.5,497.29 L352.0,497.32 L353.5,497.34 L355.0,497.37 L356.5,497.40 L358.0,497.43 L359.5,497.46 L361.0,497.50 L362.5,497.54 L364.0,497.57 L365.5,497.61 L367.0,497.66 L368.5,497.70 L370.0,497.74 L371.5,497.79 L373.0,497.84 L374.5,497.89 L376.0,497.94 L377.5,497.99 L379.0,498.04 L380.5,498.09 L382.0,498.14 L383.5,498.20 L385.0,498.25 L386.5,498.31 L388.0,498.36 L389.5,498.42 L391.0,498.48 L392.5,498.54 L394.0,498.59 L395.5,498.65 L397.0,498.71 L398.5,498.77 L400.0,498.83 L401.5,498.89 L403.0,498.95 L404.5,499.01 L406.0,499.07 L407.5,499.13 L409.0,499.19 L410.5,499.25 L412.0,499.31 L413.5,499.37 L415.0,499.43 L416.5,499.49 L418.0,499.55 L419.5,499.61 L421.0,499.67 L422.5,499.73 L424.0,499.79 L425.5,499.85 L427.0,499.91 L428.5,499.97 L430.0,500.03 L431.5,500.09 L433.0,500.15 L434.5,500.21 L436.0,500.27 L437.5,500.33 L439.0,500.39 L440.5,500.45 L442.0,500.51 L443.5,500.57 L445.0,500.62 L446.5,500.68 L448.0,500.74 L449.5,500.80 L451.0,500.86 L452.5,500.92 L454.0,500.98 L455.5,501.04 L457.0,501.09 L458.5,501.15 L460.0,501.21 L461.5,501.27 L463.0,501.33 L464.5,501.39 L466.0,501.44 L467.5,501.50 L469.0,501.56 L470.5,501.62 L472.0,501.68 L473.5,501.74 L475.0,501.80 L476.5,501.85 L478.0,501.91 L479.5,501.97 L481.0,502.03 L482.5,502.09 L484.0,502.15 L485.5,502.21 L487.0,502.27 L488.5,502.32 L490.0,502.38 L491.5,502.44 L493.0,502.50 L494.5,502.56 L496.0,502.62 L497.5,502.68 L499.0,502.73 L500.5,502.79 L502.0,502.85 L503.5,502.91 L505.0,502.97 L506.5,503.03 L508.0,503.08 L509.5,503.14 L511.0,503.20 L512.5,503.26 L514.0,503.32 L515.5,503.37 L517.0,503.43 L518.5,503.49 L520.0,503.54 L521.5,503.60 L523.0,503.66 L524.5,503.71 L526.0,503.77 L527.5,503.83 L529.0,503.88 L530.5,503.94 L532.0,503.99 L533.5,504.05 L535.0,504.10 L536.5,504.16 L538.0,504.21 L539.5,504.26 L541.0,504.32 L542.5,504.37 L544.0,504.42 L545.5,504.47 L547.0,504.53 L548.5,504.58 L550.0,504.63 L551.5,504.68 L553.0,504.73 L554.5,504.78 L556.0,504.83 L557.5,504.88 L559.0,504.93 L560.5,504.97 L562.0,505.02 L563.5,505.07 L565.0,505.12 L566.5,505.16 L568.0,505.21 L569.5,505.25 L571.0,505.30 L572.5,505.34 L574.0,505.39 L575.5,505.43 L577.0,505.48 L578.5,505.52 L580.0,505.56 L581.5,505.60 L583.0,505.64 L584.5,505.69 L586.0,505.73 L587.5,505.77 L589.0,505.81 L590.5,505.84 L592.0,505.88 L593.5,505.92 L595.0,505.96 L596.5,506.00 L598.0,506.03 L599.5,506.07 L601.0,506.10 L602.5,506.14 L604.0,506.18 L605.5,506.21 L607.0,506.24 L608.5,506.28 L610.0,506.31 L611.5,506.34 L613.0,506.38 L614.5,506.41 L616.0,506.44 L617.5,506.47 L619.0,506.50 L620.5,506.53 L622.0,506.56 L623.5,506.59 L625.0,506.62 L626.5,506.65 L628.0,506.68 L629.5,506.71 L631.0,506.74 L632.5,506.76 L634.0,506.79 L635.5,506.82 L637.0,506.85 L638.5,506.87 L640.0,506.90 L641.5,506.92 L643.0,506.95 L644.5,506.98 L646.0,507.00 L647.5,507.03 L649.0,507.05 L650.5,507.07 L652.0,507.10 L653.5,507.12 L655.0,507.15 L656.5,507.17 L658.0,507.19 L659.5,507.22 L661.0,507.24 L662.5,507.26 L664.0,507.28 L665.5,507.30 L667.0,507.33 L668.5,507.35 L670.0,507.37 L671.5,507.39 L673.0,507.41 L674.5,507.43 L676.0,507.45 L677.5,507.47 L679.0,507.49 L680.5,507.51 L682.0,507.53 L683.5,507.55 L685.0,507.57 L686.5,507.59 L688.0,507.61 L689.5,507.63 L691.0,507.65 L692.5,507.67 L694.0,507.69 L695.5,507.71 L697.0,507.73 L698.5,507.75 L700.0,507.77 L701.5,507.78 L703.0,507.80 L704.5,507.82 L706.0,507.84 L707.5,507.86 L709.0,507.87 L710.5,507.89 L712.0,507.91 L713.5,507.93 L715.0,507.95 L716.5,507.96 L718.0,507.98 L719.5,508.00 L721.0,508.01 L722.5,508.03 L724.0,508.05 L725.5,508.07 L727.0,508.08 L728.5,508.10 L730.0,508.12 L731.5,508.13 L733.0,508.15 L734.5,508.16 L736.0,508.18 L737.5,508.20 L739.0,508.21 L740.5,508.23 L742.0,508.25 L743.5,508.26 L745.0,508.28 L746.5,508.29 L748.0,508.31 L749.5,508.32 L751.0,508.34 L752.5,508.35 L754.0,508.37 L755.5,508.38 L757.0,508.40 L758.5,508.41 L760.0,508.43 L761.5,508.44 L763.0,508.46 L764.5,508.47 L766.0,508.49 L767.5,508.50 L769.0,508.52 L770.5,508.53 L772.0,508.54 L773.5,508.56 L775.0,508.57 L776.5,508.59 L778.0,508.60 L779.5,508.61 L781.0,508.63 L782.5,508.64 L784.0,508.65 L785.5,508.67 L787.0,508.68 L788.5,508.69 L790.0,508.70 L791.5,508.72 L793.0,508.73 L794.5,508.74 L796.0,508.75 L797.5,508.77 L799.0,508.78 L800.5,508.79 L802.0,508.80 L803.5,508.82 L805.0,508.83 L806.5,508.84 L808.0,508.85 L809.5,508.86 L811.0,508.87" stroke="#99dddd"/><path d="M128.5,508.34 L130.0,508.36 L131.5,508.37 L133.0,508.40 L134.5,508.42 L136.0,508.44 L137.5,508.47 L139.0,508.49 L140.5,508.51 L142.0,508.53 L143.5,508.55 L145.0,508.56 L146.5,508.57 L148.0,508.58 L149.5,508.58 L151.0,508.58 L152.5,508.57 L154.0,508.56 L155.5,508.54 L157.0,508.52 L158.5,508.50 L160.0,508.47 L161.5,508.43 L163.0,508.40 L164.5,508.36 L166.0,508.31 L167.5,508.27 L169.0,508.22 L170.5,508.17 L172.0,508.11 L173.5,508.05 L175.0,507.99 L176.5,507.93 L178.0,507.87 L179.5,507.80 L181.0,507.73 L182.5,507.66 L184.0,507.58 L185.5,507.51 L187.0,507.43 L188.5,507.35 L190.0,507.26 L191.5,507.18 L193.0,507.09 L194.5,507.00 L196.0,506.91 L197.5,506.82 L199.0,506.72 L200.5,506.63 L202.0,506.53 L203.5,506.43 L205.0,506.32 L206.5,506.22 L208.0,506.11 L209.5,506.00 L211.0,505.89 L212.5,505.78 L214.0,505.66 L215.5,505.55 L217.0,505.43 L218.5,505.31 L220.0,505.19 L221.5,505.06 L223.0,504.94 L224.5,504.81 L226.0,504.68 L227.5,504.56 L229.0,504.42 L230.5,504.29 L232.0,504.16 L233.5,504.03 L235.0,503.89 L236.5,503.76 L238.0,503.62 L239.5,503.48 L241.0,503.35 L242.5,503.21 L244.0,503.07 L245.5,502.93 L247.0,502.79 L248.5,502.65 L250.0,502.52 L251.5,502.38 L253.0,502.24 L254.5,502.10 L256.0,501.96 L257.5,501.82 L259.0,501.69 L260.5,501.55 L262.0,501.42 L263.5,501.28 L265.0,501.15 L266.5,501.02 L268.0,500.89 L269.5,500.76 L271.0,500.63 L272.5,500.50 L274.0,500.38 L275.5,500.26 L277.0,500.14 L278.5,500.02 L280.0,499.90 L281.5,499.79 L283.0,499.68 L284.5,499.57 L286.0,499.46 L287.5,499.35 L289.0,499.25 L290.5,499.15 L292.0,499.06 L293.5,498.96 L295.0,498.87 L296.5,498.78 L298.0,498.70 L299.5,498.62 L301.0,498.54 L302.5,498.46 L304.0,498.39 L305.5,498.32 L307.0,498.25 L308.5,498.19 L310.0,498.13 L311.5,498.07 L313.0,498.02 L314.5,497.97 L316.0,497.92 L317.5,497.88 L319.0,497.84 L320.5,497.80 L322.0,497.77 L323.5,497.74 L325.0,497.71 L326.5,497.68 L328.0,497.66 L329.5,497.65 L331.0,497.63 L332.5,497.62 L334.0,497.61 L335.5,497.60 L337.0,497.60 L338.5,497.60 L340.0,497.60 L341.5,497.61 L343.0,497.62 L344.5,497.63 L346.0,497.64 L347.5,497.65 L349.0,497.67 L350.5,497.69 L352.0,497.71 L353.5,497.74 L355.0,497.76 L356.5,497.79 L358.0,497.82 L359.5,497.85 L361.0,497.89 L362.5,497.92 L364.0,497.96 L365.5,498.00 L367.0,498.04 L368.5,498.08 L370.0,498.13 L371.5,498.17 L373.0,498.22 L374.5,498.26 L376.0,498.31 L377.5,498.36 L379.0,498.41 L380.5,498.46 L382.0,498.51 L383.5,498.57 L385.0,498.62 L386.5,498.67 L388.0,498.73 L389.5,498.78 L391.0,498.84 L392.5,498.89 L394.0,498.95 L395.5,499.01 L397.0,499.06 L398.5,499.12 L400.0,499.18 L401.5,499.23 L403.0,499.29 L404.5,499.35 L406.0,499.41 L407.5,499.47 L409.0,499.53 L410.5,499.58 L412.0,499.64 L413.5,499.70 L415.0,499.76 L416.5,499.82 L418.0,499.88 L419.5,499.93 L421.0,499.99 L422.5,500.05 L424.0,500.11 L425.5,500.17 L427.0,500.22 L428.5,500.28 L430.0,500.34 L431.5,500.40 L433.0,500.46 L434.5,500.51 L436.0,500.57 L437.5,500.63 L439.0,500.69 L440.5,500.74 L442.0,500.80 L443.5,500.86 L445.0,500.91 L446.5,500.97 L448.0,501.03 L449.5,501.08 L451.0,501.14 L452.5,501.20 L454.0,501.25 L455.5,501.31 L457.0,501.37 L458.5,501.42 L460.0,501.48 L461.5,501.54 L463.0,501.59 L464.5,501.65 L466.0,501.71 L467.5,501.76 L469.0,501.82 L470.5,501.88 L472.0,501.93 L473.5,501.99 L475.0,502.05 L476.5,502.10 L478.0,502.16 L479.5,502.22 L481.0,502.27 L482.5,502.33 L484.0,502.39 L485.5,502.45 L487.0,502.50 L488.5,502.56 L490.0,502.62 L491.5,502.67 L493.0,502.73 L494.5,502.79 L496.0,502.84 L497.5,502.90 L499.0,502.96 L500.5,503.01 L502.0,503.07 L503.5,503.13 L505.0,503.18 L506.5,503.24 L508.0,503.29 L509.5,503.35 L511.0,503.41 L512.5,503.46 L514.0,503.52 L515.5,503.57 L517.0,503.63 L518.5,503.68 L520.0,503.74 L521.5,503.79 L523.0,503.85 L524.5,503.90 L526.0,503.96 L527.5,504.01 L529.0,504.07 L530.5,504.12 L532.0,504.17 L533.5,504.23 L535.0,504.28 L536.5,504.33 L538.0,504.38 L539.5,504.44 L541.0,504.49 L542.5,504.54 L544.0,504.59 L545.5,504.64 L547.0,504.69 L548.5,504.74 L550.0,504.79 L551.5,504.84 L553.0,504.89 L554.5,504.93 L556.0,504.98 L557.5,505.03 L559.0,505.08 L560.5,505.12 L562.0,505.17 L563.5,505.22 L565.0,505.26 L566.5,505.31 L568.0,505.35 L569.5,505.40 L571.0,505.44 L572.5,505.48 L574.0,505.52 L575.5,505.57 L577.0,505.61 L578.5,505.65 L580.0,505.69 L581.5,505.73 L583.0,505.77 L584.5,505.81 L586.0,505.85 L587.5,505.89 L589.0,505.93 L590.5,505.97 L592.0,506.00 L593.5,506.04 L595.0,506.08 L596.5,506.11 L598.0,506.15 L599.5,506.18 L601.0,506.22 L602.5,506.25 L604.0,506.29 L605.5,506.32 L607.0,506.35 L608.5,506.39 L610.0,506.42 L611.5,506.45 L613.0,506.48 L614.5,506.51 L616.0,506.54 L617.5,506.57 L619.0,506.60 L620.5,506.63 L622.0,506.66 L623.5,506.69 L625.0,506.72 L626.5,506.75 L628.0,506.77 L629.5,506.80 L631.0,506.83 L632.5,506.86 L634.0,506.88 L635.5,506.91 L637.0,506.94 L638.5,506.96 L640.0,506.99 L641.5,507.01 L643.0,507.04 L644.5,507.06 L646.0,507.08 L647.5,507.11 L649.0,507.13 L650.5,507.16 L652.0,507.18 L653.5,507.20 L655.0,507.22 L656.5,507.25 L658.0,507.27 L659.5,507.29 L661.0,507.31 L662.5,507.34 L664.0,507.36 L665.5,507.38 L667.0,507.40 L668.5,507.42 L670.0,507.44 L671.5,507.46 L673.0,507.48 L674.5,507.50 L676.0,507.52 L677.5,507.54 L679.0,507.56 L680.5,507.58 L682.0,507.60 L683.5,507.62 L685.0,507.64 L686.5,507.66 L688.0,507.68 L689.5,507.70 L691.0,507.72 L692.5,507.73 L694.0,507.75 L695.5,507.77 L697.0,507.79 L698.5,507.81 L700.0,507.83 L701.5,507.84 L703.0,507.86 L704.5,507.88 L706.0,507.90 L707.5,507.91 L709.0,507.93 L710.5,507.95 L712.0,507.96 L713.5,507.98 L715.0,508.00 L716.5,508.02 L718.0,508.03 L719.5,508.05 L721.0,508.07 L722.5,508.08 L724.0,508.10 L725.5,508.12 L727.0,508.13 L728.5,508.15 L730.0,508.16 L731.5,508.18 L733.0,508.20 L734.5,508.21 L736.0,508.23 L737.5,508.24 L739.0,508.26 L740.5,508.27 L742.0,508.29 L743.5,508.30 L745.0,508.32 L746.5,508.33 L748.0,508.35 L749.5,508.36 L751.0,508.38 L752.5,508.39 L754.0,508.41 L755.5,508.42 L757.0,508.44 L758.5,508.45 L760.0,508.47 L761.5,508.48 L763.0,508.49 L764.5,508.51 L766.0,508.52 L767.5,508.54 L769.0,508.55 L770.5,508.56 L772.0,508.58 L773.5,508.59 L775.0,508.60 L776.5,508.62 L778.0,508.63 L779.5,508.64 L781.0,508.66 L782.5,508.67 L784.0,508.68 L785.5,508.70 L787.0,508.71 L788.5,508.72 L790.0,508.73 L791.5,508.75 L793.0,508.76 L794.5,508.77 L796.0,508.78 L797.5,508.79 L799.0,508.81 L800.5,508.82 L802.0,508.83 L803.5,508.84 L805.0,508.85 L806.5,508.86 L808.0,508.87 L809.5,508.89 L811.0,508.90" stroke="#6688aa"/><path d="M128.5,508.64 L130.0,508.66 L131.5,508.67 L133.0,508.69 L134.5,508.71 L136.0,508.72 L137.5,508.74 L139.0,508.76 L140.5,508.78 L142.0,508.79 L143.5,508.80 L145.0,508.81 L146.5,508.82 L148.0,508.82 L149.5,508.83 L151.0,508.82 L152.5,508.82 L154.0,508.81 L155.5,508.80 L157.0,508.78 L158.5,508.76 L160.0,508.74 L161.5,508.72 L163.0,508.69 L164.5,508.66 L166.0,508.63 L167.5,508.59 L169.0,508.55 L170.5,508.51 L172.0,508.47 L173.5,508.43 L175.0,508.38 L176.5,508.33 L178.0,508.28 L179.5,508.23 L181.0,508.18 L182.5,508.13 L184.0,508.07 L185.5,508.01 L187.0,507.95 L188.5,507.89 L190.0,507.83 L191.5,507.76 L193.0,507.70 L194.5,507.63 L196.0,507.56 L197.5,507.49 L199.0,507.42 L200.5,507.35 L202.0,507.27 L203.5,507.19 L205.0,507.12 L206.5,507.04 L208.0,506.95 L209.5,506.87 L211.0,506.79 L212.5,506.70 L214.0,506.61 L215.5,506.53 L217.0,506.44 L218.5,506.34 L220.0,506.25 L221.5,506.16 L223.0,506.06 L224.5,505.97 L226.0,505.87 L227.5,505.77 L229.0,505.68 L230.5,505.58 L232.0,505.48 L233.5,505.37 L235.0,505.27 L236.5,505.17 L238.0,505.07 L239.5,504.96 L241.0,504.86 L242.5,504.75 L244.0,504.65 L245.5,504.54 L247.0,504.44 L248.5,504.33 L250.0,504.23 L251.5,504.12 L253.0,504.02 L254.5,503.91 L256.0,503.81 L257.5,503.70 L259.0,503.60 L260.5,503.50 L262.0,503.39 L263.5,503.29 L265.0,503.19 L266.5,503.09 L268.0,502.99 L269.5,502.90 L271.0,502.80 L272.5,502.70 L274.0,502.61 L275.5,502.52 L277.0,502.42 L278.5,502.33 L280.0,502.25 L281.5,502.16 L283.0,502.07 L284.5,501.99 L286.0,501.91 L287.5,501.83 L289.0,501.75 L290.5,501.68 L292.0,501.60 L293.5,501.53 L295.0,501.46 L296.5,501.40 L298.0,501.33 L299.5,501.27 L301.0,501.21 L302.5,501.15 L304.0,501.10 L305.5,501.04 L307.0,500.99 L308.5,500.95 L310.0,500.90 L311.5,500.86 L313.0,500.82 L314.5,500.78 L316.0,500.74 L317.5,500.71 L319.0,500.68 L320.5,500.65 L322.0,500.63 L323.5,500.60 L325.0,500.58 L326.5,500.56 L328.0,500.55 L329.5,500.53 L331.0,500.52 L332.5,500.51 L334.0,500.51 L335.5,500.50 L337.0,500.50 L338.5,500.50 L340.0,500.50 L341.5,500.51 L343.0,500.51 L344.5,500.52 L346.0,500.53 L347.5,500.54 L349.0,500.55 L350.5,500.57 L352.0,500.59 L353.5,500.60 L355.0,500.62 L356.5,500.65 L358.0,500.67 L359.5,500.69 L361.0,500.72 L362.5,500.75 L364.0,500.77 L365.5,500.80 L367.0,500.83 L368.5,500.87 L370.0,500.90 L371.5,500.93 L373.0,500.97 L374.5,501.00 L376.0,501.04 L377.5,501.08 L379.0,501.11 L380.5,501.15 L382.0,501.19 L383.5,501.23 L385.0,501.27 L386.5,501.31 L388.0,501.35 L389.5,501.40 L391.0,501.44 L392.5,501.48 L394.0,501.52 L395.5,501.57 L397.0,501.61 L398.5,501.65 L400.0,501.70 L401.5,501.74 L403.0,501.78 L404.5,501.83 L406.0,501.87 L407.5,501.92 L409.0,501.96 L410.5,502.00 L412.0,502.05 L413.5,502.09 L415.0,502.14 L416.5,502.18 L418.0,502.23 L419.5,502.27 L421.0,502.31 L422.5,502.36 L424.0,502.40 L425.5,502.45 L427.0,502.49 L428.5,502.53 L430.0,502.58 L431.5,502.62 L433.0,502.67 L434.5,502.71 L436.0,502.75 L437.5,502.80 L439.0,502.84 L440.5,502.88 L442.0,502.93 L443.5,502.97 L445.0,503.01 L446.5,503.06 L448.0,503.10 L449.5,503.14 L451.0,503.19 L452.5,503.23 L454.0,503.27 L455.5,503.31 L457.0,503.36 L458.5,503.40 L460.0,503.44 L461.5,503.49 L463.0,503.53 L464.5,503.57 L466.0,503.62 L467.5,503.66 L469.0,503.70 L470.5,503.74 L472.0,503.79 L473.5,503.83 L475.0,503.87 L476.5,503.92 L478.0,503.96 L479.5,504.00 L481.0,504.05 L482.5,504.09 L484.0,504.13 L485.5,504.17 L487.0,504.22 L488.5,504.26 L490.0,504.30 L491.5,504.35 L493.0,504.39 L494.5,504.43 L496.0,504.48 L497.5,504.52 L499.0,504.56 L500.5,504.60 L502.0,504.65 L503.5,504.69 L505.0,504.73 L506.5,504.78 L508.0,504.82 L509.5,504.86 L511.0,504.90 L512.5,504.95 L514.0,504.99 L515.5,505.03 L517.0,505.07 L518.5,505.11 L520.0,505.16 L521.5,505.20 L523.0,505.24 L524.5,505.28 L526.0,505.32 L527.5,505.36 L529.0,505.40 L530.5,505.44 L532.0,505.48 L533.5,505.52 L535.0,505.56 L536.5,505.60 L538.0,505.64 L539.5,505.68 L541.0,505.72 L542.5,505.76 L544.0,505.80 L545.5,505.84 L547.0,505.88 L548.5,505.91 L550.0,505.95 L551.5,505.99 L553.0,506.03 L554.5,506.06 L556.0,506.10 L557.5,506.13 L559.0,506.17 L560.5,506.21 L562.0,506.24 L563.5,506.28 L565.0,506.31 L566.5,506.34 L568.0,506.38 L569.5,506.41 L571.0,506.44 L572.5,506.48 L574.0,506.51 L575.5,506.54 L577.0,506.57 L578.5,506.60 L580.0,506.64 L581.5,506.67 L583.0,506.70 L584.5,506.73 L586.0,506.76 L587.5,506.79 L589.0,506.82 L590.5,506.84 L592.0,506.87 L593.5,506.90 L595.0,506.93 L596.5,506.95 L598.0,506.98 L599.5,507.01 L601.0,507.04 L602.5,507.06 L604.0,507.09 L605.5,507.11 L607.0,507.14 L608.5,507.16 L610.0,507.19 L611.5,507.21 L613.0,507.23 L614.5,507.26 L616.0,507.28 L617.5,507.30 L619.0,507.33 L620.5,507.35 L622.0,507.37 L623.5,507.39 L625.0,507.42 L626.5,507.44 L628.0,507.46 L629.5,507.48 L631.0,507.50 L632.5,507.52 L634.0,507.54 L635.5,507.56 L637.0,507.58 L638.5,507.60 L640.0,507.62 L641.5,507.64 L643.0,507.66 L644.5,507.67 L646.0,507.69 L647.5,507.71 L649.0,507.73 L650.5,507.75 L652.0,507.76 L653.5,507.78 L655.0,507.80 L656.5,507.82 L658.0,507.83 L659.5,507.85 L661.0,507.87 L662.5,507.88 L664.0,507.90 L665.5,507.92 L667.0,507.93 L668.5,507.95 L670.0,507.96 L671.5,507.98 L673.0,507.99 L674.5,508.01 L676.0,508.02 L677.5,508.04 L679.0,508.05 L680.5,508.07 L682.0,508.08 L683.5,508.10 L685.0,508.11 L686.5,508.13 L688.0,508.14 L689.5,508.16 L691.0,508.17 L692.5,508.18 L694.0,508.20 L695.5,508.21 L697.0,508.23 L698.5,508.24 L700.0,508.25 L701.5,508.27 L703.0,508.28 L704.5,508.29 L706.0,508.31 L707.5,508.32 L709.0,508.33 L710.5,508.35 L712.0,508.36 L713.5,508.37 L715.0,508.39 L716.5,508.40 L718.0,508.41 L719.5,508.42 L721.0,508.44 L722.5,508.45 L724.0,508.46 L725.5,508.47 L727.0,508.49 L728.5,508.50 L730.0,508.51 L731.5,508.52 L733.0,508.53 L734.5,508.55 L736.0,508.56 L737.5,508.57 L739.0,508.58 L740.5,508.59 L742.0,508.61 L743.5,508.62 L745.0,508.63 L746.5,508.64 L748.0,508.65 L749.5,508.66 L751.0,508.67 L752.5,508.69 L754.0,508.70 L755.5,508.71 L757.0,508.72 L758.5,508.73 L760.0,508.74 L761.5,508.75 L763.0,508.76 L764.5,508.77 L766.0,508.78 L767.5,508.79 L769.0,508.80 L770.5,508.81 L772.0,508.82 L773.5,508.84 L775.0,508.85 L776.5,508.86 L778.0,508.87 L779.5,508.88 L781.0,508.89 L782.5,508.89 L784.0,508.90 L785.5,508.91 L787.0,508.92 L788.5,508.93 L790.0,508.94 L791.5,508.95 L793.0,508.96 L794.5,508.97 L796.0,508.98 L797.5,508.99 L799.0,509.00 L800.5,509.01 L802.0,509.02 L803.5,509.02 L805.0,509.03 L806.5,509.04 L808.0,509.05 L809.5,509.06 L811.0,509.07" stroke="#aa3333"/><path d="M128.5,508.69 L130.0,508.70 L131.5,508.71 L133.0,508.73 L134.5,508.74 L136.0,508.76 L137.5,508.78 L139.0,508.80 L140.5,508.81 L142.0,508.83 L143.5,508.84 L145.0,508.85 L146.5,508.85 L148.0,508.86 L149.5,508.86 L151.0,508.86 L152.5,508.85 L154.0,508.84 L155.5,508.83 L157.0,508.82 L158.5,508.80 L160.0,508.78 L161.5,508.75 L163.0,508.73 L164.5,508.70 L166.0,508.67 L167.5,508.63 L169.0,508.60 L170.5,508.56 L172.0,508.52 L173.5,508.48 L175.0,508.44 L176.5,508.39 L178.0,508.34 L179.5,508.29 L181.0,508.24 L182.5,508.19 L184.0,508.14 L185.5,508.08 L187.0,508.03 L188.5,507.97 L190.0,507.91 L191.5,507.85 L193.0,507.78 L194.5,507.72 L196.0,507.65 L197.5,507.58 L199.0,507.52 L200.5,507.44 L202.0,507.37 L203.5,507.30 L205.0,507.22 L206.5,507.15 L208.0,507.07 L209.5,506.99 L211.0,506.91 L212.5,506.83 L214.0,506.75 L215.5,506.66 L217.0,506.57 L218.5,506.49 L220.0,506.40 L221.5,506.31 L223.0,506.22 L224.5,506.13 L226.0,506.04 L227.5,505.94 L229.0,505.85 L230.5,505.75 L232.0,505.66 L233.5,505.56 L235.0,505.46 L236.5,505.36 L238.0,505.27 L239.5,505.17 L241.0,505.07 L242.5,504.97 L244.0,504.87 L245.5,504.77 L247.0,504.67 L248.5,504.56 L250.0,504.46 L251.5,504.36 L253.0,504.26 L254.5,504.16 L256.0,504.06 L257.5,503.96 L259.0,503.86 L260.5,503.77 L262.0,503.67 L263.5,503.57 L265.0,503.47 L266.5,503.38 L268.0,503.28 L269.5,503.19 L271.0,503.10 L272.5,503.01 L274.0,502.92 L275.5,502.83 L277.0,502.74 L278.5,502.65 L280.0,502.57 L281.5,502.49 L283.0,502.41 L284.5,502.33 L286.0,502.25 L287.5,502.17 L289.0,502.10 L290.5,502.03 L292.0,501.96 L293.5,501.89 L295.0,501.82 L296.5,501.76 L298.0,501.70 L299.5,501.64 L301.0,501.58 L302.5,501.52 L304.0,501.47 L305.5,501.42 L307.0,501.37 L308.5,501.33 L310.0,501.28 L311.5,501.24 L313.0,501.20 L314.5,501.17 L316.0,501.13 L317.5,501.10 L319.0,501.07 L320.5,501.05 L322.0,501.02 L323.5,501.00 L325.0,500.98 L326.5,500.96 L328.0,500.95 L329.5,500.93 L331.0,500.92 L332.5,500.91 L334.0,500.91 L335.5,500.90 L337.0,500.90 L338.5,500.90 L340.0,500.90 L341.5,500.91 L343.0,500.91 L344.5,500.92 L346.0,500.93 L347.5,500.94 L349.0,500.95 L350.5,500.97 L352.0,500.98 L353.5,501.00 L355.0,501.02 L356.5,501.04 L358.0,501.06 L359.5,501.08 L361.0,501.11 L362.5,501.14 L364.0,501.16 L365.5,501.19 L367.0,501.22 L368.5,501.25 L370.0,501.28 L371.5,501.31 L373.0,501.35 L374.5,501.38 L376.0,501.42 L377.5,501.45 L379.0,501.49 L380.5,501.52 L382.0,501.56 L383.5,501.60 L385.0,501.64 L386.5,501.68 L388.0,501.72 L389.5,501.76 L391.0,501.80 L392.5,501.84 L394.0,501.88 L395.5,501.92 L397.0,501.96 L398.5,502.00 L400.0,502.04 L401.5,502.09 L403.0,502.13 L404.5,502.17 L406.0,502.21 L407.5,502.25 L409.0,502.30 L410.5,502.34 L412.0,502.38 L413.5,502.42 L415.0,502.47 L416.5,502.51 L418.0,502.55 L419.5,502.59 L421.0,502.63 L422.5,502.68 L424.0,502.72 L425.5,502.76 L427.0,502.80 L428.5,502.84 L430.0,502.89 L431.5,502.93 L433.0,502.97 L434.5,503.01 L436.0,503.05 L437.5,503.10 L439.0,503.14 L440.5,503.18 L442.0,503.22 L443.5,503.26 L445.0,503.30 L446.5,503.34 L448.0,503.38 L449.5,503.43 L451.0,503.47 L452.5,503.51 L454.0,503.55 L455.5,503.59 L457.0,503.63 L458.5,503.67 L460.0,503.71 L461.5,503.76 L463.0,503.80 L464.5,503.84 L466.0,503.88 L467.5,503.92 L469.0,503.96 L470.5,504.00 L472.0,504.04 L473.5,504.08 L475.0,504.12 L476.5,504.17 L478.0,504.21 L479.5,504.25 L481.0,504.29 L482.5,504.33 L484.0,504.37 L485.5,504.41 L487.0,504.45 L488.5,504.50 L490.0,504.54 L491.5,504.58 L493.0,504.62 L494.5,504.66 L496.0,504.70 L497.5,504.74 L499.0,504.78 L500.5,504.82 L502.0,504.87 L503.5,504.91 L505.0,504.95 L506.5,504.99 L508.0,505.03 L509.5,505.07 L511.0,505.11 L512.5,505.15 L514.0,505.19 L515.5,505.23 L517.0,505.27 L518.5,505.31 L520.0,505.35 L521.5,505.39 L523.0,505.43 L524.5,505.47 L526.0,505.51 L527.5,505.55 L529.0,505.59 L530.5,505.63 L532.0,505.67 L533.5,505.70 L535.0,505.74 L536.5,505.78 L538.0,505.82 L539.5,505.86 L541.0,505.89 L542.5,505.93 L544.0,505.97 L545.5,506.00 L547.0,506.04 L548.5,506.08 L550.0,506.11 L551.5,506.15 L553.0,506.18 L554.5,506.22 L556.0,506.25 L557.5,506.29 L559.0,506.32 L560.5,506.35 L562.0,506.39 L563.5,506.42 L565.0,506.45 L566.5,506.49 L568.0,506.52 L569.5,506.55 L571.0,506.58 L572.5,506.61 L574.0,506.65 L575.5,506.68 L577.0,506.71 L578.5,506.74 L580.0,506.77 L581.5,506.80 L583.0,506.82 L584.5,506.85 L586.0,506.88 L587.5,506.91 L589.0,506.94 L590.5,506.96 L592.0,506.99 L593.5,507.02 L595.0,507.05 L596.5,507.07 L598.0,507.10 L599.5,507.12 L601.0,507.15 L602.5,507.17 L604.0,507.20 L605.5,507.22 L607.0,507.25 L608.5,507.27 L610.0,507.29 L611.5,507.32 L613.0,507.34 L614.5,507.36 L616.0,507.38 L617.5,507.41 L619.0,507.43 L620.5,507.45 L622.0,507.47 L623.5,507.49 L625.0,507.51 L626.5,507.53 L628.0,507.55 L629.5,507.57 L631.0,507.59 L632.5,507.61 L634.0,507.63 L635.5,507.65 L637.0,507.67 L638.5,507.69 L640.0,507.70 L641.5,507.72 L643.0,507.74 L644.5,507.76 L646.0,507.78 L647.5,507.79 L649.0,507.81 L650.5,507.83 L652.0,507.84 L653.5,507.86 L655.0,507.88 L656.5,507.89 L658.0,507.91 L659.5,507.93 L661.0,507.94 L662.5,507.96 L664.0,507.97 L665.5,507.99 L667.0,508.00 L668.5,508.02 L670.0,508.03 L671.5,508.05 L673.0,508.06 L674.5,508.08 L676.0,508.09 L677.5,508.11 L679.0,508.12 L680.5,508.14 L682.0,508.15 L683.5,508.17 L685.0,508.18 L686.5,508.19 L688.0,508.21 L689.5,508.22 L691.0,508.23 L692.5,508.25 L694.0,508.26 L695.5,508.27 L697.0,508.29 L698.5,508.30 L700.0,508.31 L701.5,508.33 L703.0,508.34 L704.5,508.35 L706.0,508.36 L707.5,508.38 L709.0,508.39 L710.5,508.40 L712.0,508.41 L713.5,508.43 L715.0,508.44 L716.5,508.45 L718.0,508.46 L719.5,508.48 L721.0,508.49 L722.5,508.50 L724.0,508.51 L725.5,508.52 L727.0,508.54 L728.5,508.55 L730.0,508.56 L731.5,508.57 L733.0,508.58 L734.5,508.59 L736.0,508.60 L737.5,508.62 L739.0,508.63 L740.5,508.64 L742.0,508.65 L743.5,508.66 L745.0,508.67 L746.5,508.68 L748.0,508.69 L749.5,508.70 L751.0,508.71 L752.5,508.73 L754.0,508.74 L755.5,508.75 L757.0,508.76 L758.5,508.77 L760.0,508.78 L761.5,508.79 L763.0,508.80 L764.5,508.81 L766.0,508.82 L767.5,508.83 L769.0,508.84 L770.5,508.85 L772.0,508.86 L773.5,508.87 L775.0,508.88 L776.5,508.89 L778.0,508.90 L779.5,508.91 L781.0,508.92 L782.5,508.93 L784.0,508.94 L785.5,508.94 L787.0,508.95 L788.5,508.96 L790.0,508.97 L791.5,508.98 L793.0,508.99 L794.5,509.00 L796.0,509.01 L797.5,509.02 L799.0,509.02 L800.5,509.03 L802.0,509.04 L803.5,509.05 L805.0,509.06 L806.5,509.07 L808.0,509.07 L809.5,509.08 L811.0,509.09" stroke="#3333aa"/><path d="M128.5,508.80 L130.0,508.81 L131.5,508.82 L133.0,508.84 L134.5,508.85 L136.0,508.87 L137.5,508.88 L139.0,508.90 L140.5,508.91 L142.0,508.92 L143.5,508.93 L145.0,508.94 L146.5,508.95 L148.0,508.95 L149.5,508.95 L151.0,508.95 L152.5,508.95 L154.0,508.94 L155.5,508.93 L157.0,508.92 L158.5,508.90 L160.0,508.88 L161.5,508.86 L163.0,508.84 L164.5,508.81 L166.0,508.79 L167.5,508.76 L169.0,508.73 L170.5,508.69 L172.0,508.66 L173.5,508.62 L175.0,508.58 L176.5,508.54 L178.0,508.50 L179.5,508.46 L181.0,508.41 L182.5,508.37 L184.0,508.32 L185.5,508.27 L187.0,508.22 L188.5,508.17 L190.0,508.12 L191.5,508.07 L193.0,508.01 L194.5,507.96 L196.0,507.90 L197.5,507.84 L199.0,507.78 L200.5,507.72 L202.0,507.65 L203.5,507.59 L205.0,507.52 L206.5,507.46 L208.0,507.39 L209.5,507.32 L211.0,507.25 L212.5,507.18 L214.0,507.11 L215.5,507.03 L217.0,506.96 L218.5,506.88 L220.0,506.80 L221.5,506.73 L223.0,506.65 L224.5,506.57 L226.0,506.49 L227.5,506.40 L229.0,506.32 L230.5,506.24 L232.0,506.16 L233.5,506.07 L235.0,505.99 L236.5,505.90 L238.0,505.81 L239.5,505.73 L241.0,505.64 L242.5,505.55 L244.0,505.47 L245.5,505.38 L247.0,505.29 L248.5,505.20 L250.0,505.11 L251.5,505.03 L253.0,504.94 L254.5,504.85 L256.0,504.76 L257.5,504.68 L259.0,504.59 L260.5,504.50 L262.0,504.42 L263.5,504.33 L265.0,504.25 L266.5,504.16 L268.0,504.08 L269.5,504.00 L271.0,503.92 L272.5,503.84 L274.0,503.76 L275.5,503.68 L277.0,503.61 L278.5,503.53 L280.0,503.46 L281.5,503.39 L283.0,503.31 L284.5,503.25 L286.0,503.18 L287.5,503.11 L289.0,503.05 L290.5,502.98 L292.0,502.92 L293.5,502.86 L295.0,502.81 L296.5,502.75 L298.0,502.70 L299.5,502.64 L301.0,502.59 L302.5,502.55 L304.0,502.50 L305.5,502.46 L307.0,502.41 L308.5,502.37 L310.0,502.33 L311.5,502.30 L313.0,502.27 L314.5,502.23 L316.0,502.20 L317.5,502.18 L319.0,502.15 L320.5,502.13 L322.0,502.11 L323.5,502.09 L325.0,502.07 L326.5,502.05 L328.0,502.04 L329.5,502.03 L331.0,502.02 L332.5,502.01 L334.0,502.01 L335.5,502.00 L337.0,502.00 L338.5,502.00 L340.0,502.00 L341.5,502.00 L343.0,502.01 L344.5,502.02 L346.0,502.02 L347.5,502.03 L349.0,502.04 L350.5,502.06 L352.0,502.07 L353.5,502.09 L355.0,502.10 L356.5,502.12 L358.0,502.14 L359.5,502.16 L361.0,502.18 L362.5,502.21 L364.0,502.23 L365.5,502.25 L367.0,502.28 L368.5,502.31 L370.0,502.33 L371.5,502.36 L373.0,502.39 L374.5,502.42 L376.0,502.45 L377.5,502.48 L379.0,502.51 L380.5,502.55 L382.0,502.58 L383.5,502.61 L385.0,502.64 L386.5,502.68 L388.0,502.71 L389.5,502.75 L391.0,502.78 L392.5,502.82 L394.0,502.85 L395.5,502.89 L397.0,502.93 L398.5,502.96 L400.0,503.00 L401.5,503.04 L403.0,503.07 L404.5,503.11 L406.0,503.15 L407.5,503.18 L409.0,503.22 L410.5,503.26 L412.0,503.29 L413.5,503.33 L415.0,503.37 L416.5,503.40 L418.0,503.44 L419.5,503.48 L421.0,503.52 L422.5,503.55 L424.0,503.59 L425.5,503.63 L427.0,503.66 L428.5,503.70 L430.0,503.74 L431.5,503.77 L433.0,503.81 L434.5,503.84 L436.0,503.88 L437.5,503.92 L439.0,503.95 L440.5,503.99 L442.0,504.03 L443.5,504.06 L445.0,504.10 L446.5,504.13 L448.0,504.17 L449.5,504.21 L451.0,504.24 L452.5,504.28 L454.0,504.31 L455.5,504.35 L457.0,504.39 L458.5,504.42 L460.0,504.46 L461.5,504.49 L463.0,504.53 L464.5,504.57 L466.0,504.60 L467.5,504.64 L469.0,504.67 L470.5,504.71 L472.0,504.75 L473.5,504.78 L475.0,504.82 L476.5,504.85 L478.0,504.89 L479.5,504.92 L481.0,504.96 L482.5,505.00 L484.0,505.03 L485.5,505.07 L487.0,505.10 L488.5,505.14 L490.0,505.18 L491.5,505.21 L493.0,505.25 L494.5,505.28 L496.0,505.32 L497.5,505.36 L499.0,505.39 L500.5,505.43 L502.0,505.46 L503.5,505.50 L505.0,505.54 L506.5,505.57 L508.0,505.61 L509.5,505.64 L511.0,505.68 L512.5,505.71 L514.0,505.75 L515.5,505.78 L517.0,505.82 L518.5,505.85 L520.0,505.89 L521.5,505.92 L523.0,505.96 L524.5,505.99 L526.0,506.03 L527.5,506.06 L529.0,506.10 L530.5,506.13 L532.0,506.16 L533.5,506.20 L535.0,506.23 L536.5,506.26 L538.0,506.30 L539.5,506.33 L541.0,506.36 L542.5,506.39 L544.0,506.43 L545.5,506.46 L547.0,506.49 L548.5,506.52 L550.0,506.55 L551.5,506.58 L553.0,506.61 L554.5,506.65 L556.0,506.68 L557.5,506.71 L559.0,506.74 L560.5,506.77 L562.0,506.79 L563.5,506.82 L565.0,506.85 L566.5,506.88 L568.0,506.91 L569.5,506.94 L571.0,506.96 L572.5,506.99 L574.0,507.02 L575.5,507.05 L577.0,507.07 L578.5,507.10 L580.0,507.12 L581.5,507.15 L583.0,507.18 L584.5,507.20 L586.0,507.23 L587.5,507.25 L589.0,507.27 L590.5,507.30 L592.0,507.32 L593.5,507.35 L595.0,507.37 L596.5,507.39 L598.0,507.41 L599.5,507.44 L601.0,507.46 L602.5,507.48 L604.0,507.50 L605.5,507.52 L607.0,507.54 L608.5,507.56 L610.0,507.58 L611.5,507.60 L613.0,507.62 L614.5,507.64 L616.0,507.66 L617.5,507.68 L619.0,507.70 L620.5,507.72 L622.0,507.74 L623.5,507.76 L625.0,507.78 L626.5,507.79 L628.0,507.81 L629.5,507.83 L631.0,507.85 L632.5,507.86 L634.0,507.88 L635.5,507.90 L637.0,507.91 L638.5,507.93 L640.0,507.94 L641.5,507.96 L643.0,507.98 L644.5,507.99 L646.0,508.01 L647.5,508.02 L649.0,508.04 L650.5,508.05 L652.0,508.07 L653.5,508.08 L655.0,508.10 L656.5,508.11 L658.0,508.12 L659.5,508.14 L661.0,508.15 L662.5,508.17 L664.0,508.18 L665.5,508.19 L667.0,508.21 L668.5,508.22 L670.0,508.23 L671.5,508.25 L673.0,508.26 L674.5,508.27 L676.0,508.28 L677.5,508.30 L679.0,508.31 L680.5,508.32 L682.0,508.33 L683.5,508.35 L685.0,508.36 L686.5,508.37 L688.0,508.38 L689.5,508.39 L691.0,508.41 L692.5,508.42 L694.0,508.43 L695.5,508.44 L697.0,508.45 L698.5,508.46 L700.0,508.48 L701.5,508.49 L703.0,508.50 L704.5,508.51 L706.0,508.52 L707.5,508.53 L709.0,508.54 L710.5,508.55 L712.0,508.56 L713.5,508.58 L715.0,508.59 L716.5,508.60 L718.0,508.61 L719.5,508.62 L721.0,508.63 L722.5,508.64 L724.0,508.65 L725.5,508.66 L727.0,508.67 L728.5,508.68 L730.0,508.69 L731.5,508.70 L733.0,508.71 L734.5,508.72 L736.0,508.73 L737.5,508.74 L739.0,508.75 L740.5,508.76 L742.0,508.77 L743.5,508.78 L745.0,508.79 L746.5,508.80 L748.0,508.81 L749.5,508.82 L751.0,508.83 L752.5,508.84 L754.0,508.85 L755.5,508.85 L757.0,508.86 L758.5,508.87 L760.0,508.88 L761.5,508.89 L763.0,508.90 L764.5,508.91 L766.0,508.92 L767.5,508.93 L769.0,508.94 L770.5,508.94 L772.0,508.95 L773.5,508.96 L775.0,508.97 L776.5,508.98 L778.0,508.99 L779.5,508.99 L781.0,509.00 L782.5,509.01 L784.0,509.02 L785.5,509.03 L787.0,509.04 L788.5,509.04 L790.0,509.05 L791.5,509.06 L793.0,509.07 L794.5,509.07 L796.0,509.08 L797.5,509.09 L799.0,509.10 L800.5,509.10 L802.0,509.11 L803.5,509.12 L805.0,509.13 L806.5,509.13 L808.0,509.14 L809.5,509.15 L811.0,509.15" stroke="#e8b080"/><path d="M128.5,509.03 L130.0,509.04 L131.5,509.05 L133.0,509.06 L134.5,509.07 L136.0,509.08 L137.5,509.09 L139.0,509.10 L140.5,509.11 L142.0,509.12 L143.5,509.13 L145.0,509.13 L146.5,509.14 L148.0,509.14 L149.5,509.14 L151.0,509.14 L152.5,509.14 L154.0,509.13 L155.5,509.12 L157.0,509.11 L158.5,509.10 L160.0,509.09 L161.5,509.08 L163.0,509.06 L164.5,509.04 L166.0,509.02 L167.5,509.00 L169.0,508.98 L170.5,508.95 L172.0,508.93 L173.5,508.90 L175.0,508.88 L176.5,508.85 L178.0,508.82 L179.5,508.79 L181.0,508.76 L182.5,508.73 L184.0,508.69 L185.5,508.66 L187.0,508.62 L188.5,508.59 L190.0,508.55 L191.5,508.51 L193.0,508.47 L194.5,508.43 L196.0,508.39 L197.5,508.35 L199.0,508.31 L200.5,508.26 L202.0,508.22 L203.5,508.17 L205.0,508.13 L206.5,508.08 L208.0,508.03 L209.5,507.98 L211.0,507.93 L212.5,507.88 L214.0,507.83 L215.5,507.78 L217.0,507.72 L218.5,507.67 L220.0,507.61 L221.5,507.56 L223.0,507.50 L224.5,507.45 L226.0,507.39 L227.5,507.33 L229.0,507.27 L230.5,507.21 L232.0,507.15 L233.5,507.09 L235.0,507.03 L236.5,506.97 L238.0,506.91 L239.5,506.85 L241.0,506.79 L242.5,506.72 L244.0,506.66 L245.5,506.60 L247.0,506.54 L248.5,506.47 L250.0,506.41 L251.5,506.35 L253.0,506.29 L254.5,506.23 L256.0,506.16 L257.5,506.10 L259.0,506.04 L260.5,505.98 L262.0,505.92 L263.5,505.86 L265.0,505.80 L266.5,505.74 L268.0,505.68 L269.5,505.62 L271.0,505.56 L272.5,505.51 L274.0,505.45 L275.5,505.40 L277.0,505.34 L278.5,505.29 L280.0,505.24 L281.5,505.18 L283.0,505.13 L284.5,505.08 L286.0,505.04 L287.5,504.99 L289.0,504.94 L290.5,504.90 L292.0,504.86 L293.5,504.81 L295.0,504.77 L296.5,504.73 L298.0,504.69 L299.5,504.66 L301.0,504.62 L302.5,504.59 L304.0,504.55 L305.5,504.52 L307.0,504.49 L308.5,504.46 L310.0,504.44 L311.5,504.41 L313.0,504.39 L314.5,504.37 L316.0,504.34 L317.5,504.33 L319.0,504.31 L320.5,504.29 L322.0,504.28 L323.5,504.26 L325.0,504.25 L326.5,504.24 L328.0,504.23 L329.5,504.22 L331.0,504.21 L332.5,504.21 L334.0,504.20 L335.5,504.20 L337.0,504.20 L338.5,504.20 L340.0,504.20 L341.5,504.20 L343.0,504.21 L344.5,504.21 L346.0,504.22 L347.5,504.22 L349.0,504.23 L350.5,504.24 L352.0,504.25 L353.5,504.26 L355.0,504.27 L356.5,504.29 L358.0,504.30 L359.5,504.31 L361.0,504.33 L362.5,504.35 L364.0,504.36 L365.5,504.38 L367.0,504.40 L368.5,504.42 L370.0,504.44 L371.5,504.46 L373.0,504.48 L374.5,504.50 L376.0,504.52 L377.5,504.54 L379.0,504.56 L380.5,504.59 L382.0,504.61 L383.5,504.63 L385.0,504.66 L386.5,504.68 L388.0,504.71 L389.5,504.73 L391.0,504.76 L392.5,504.78 L394.0,504.81 L395.5,504.83 L397.0,504.86 L398.5,504.88 L400.0,504.91 L401.5,504.94 L403.0,504.96 L404.5,504.99 L406.0,505.01 L407.5,505.04 L409.0,505.07 L410.5,505.09 L412.0,505.12 L413.5,505.15 L415.0,505.17 L416.5,505.20 L418.0,505.22 L419.5,505.25 L421.0,505.28 L422.5,505.30 L424.0,505.33 L425.5,505.35 L427.0,505.38 L428.5,505.41 L430.0,505.43 L431.5,505.46 L433.0,505.48 L434.5,505.51 L436.0,505.54 L437.5,505.56 L439.0,505.59 L440.5,505.61 L442.0,505.64 L443.5,505.67 L445.0,505.69 L446.5,505.72 L448.0,505.74 L449.5,505.77 L451.0,505.79 L452.5,505.82 L454.0,505.84 L455.5,505.87 L457.0,505.90 L458.5,505.92 L460.0,505.95 L461.5,505.97 L463.0,506.00 L464.5,506.02 L466.0,506.05 L467.5,506.07 L469.0,506.10 L470.5,506.13 L472.0,506.15 L473.5,506.18 L475.0,506.20 L476.5,506.23 L478.0,506.25 L479.5,506.28 L481.0,506.30 L482.5,506.33 L484.0,506.35 L485.5,506.38 L487.0,506.41 L488.5,506.43 L490.0,506.46 L491.5,506.48 L493.0,506.51 L494.5,506.53 L496.0,506.56 L497.5,506.58 L499.0,506.61 L500.5,506.64 L502.0,506.66 L503.5,506.69 L505.0,506.71 L506.5,506.74 L508.0,506.76 L509.5,506.79 L511.0,506.81 L512.5,506.84 L514.0,506.86 L515.5,506.89 L517.0,506.91 L518.5,506.94 L520.0,506.96 L521.5,506.99 L523.0,507.01 L524.5,507.04 L526.0,507.06 L527.5,507.09 L529.0,507.11 L530.5,507.13 L532.0,507.16 L533.5,507.18 L535.0,507.21 L536.5,507.23 L538.0,507.25 L539.5,507.28 L541.0,507.30 L542.5,507.32 L544.0,507.35 L545.5,507.37 L547.0,507.39 L548.5,507.41 L550.0,507.44 L551.5,507.46 L553.0,507.48 L554.5,507.50 L556.0,507.52 L557.5,507.54 L559.0,507.56 L560.5,507.59 L562.0,507.61 L563.5,507.63 L565.0,507.65 L566.5,507.67 L568.0,507.69 L569.5,507.71 L571.0,507.73 L572.5,507.75 L574.0,507.77 L575.5,507.79 L577.0,507.80 L578.5,507.82 L580.0,507.84 L581.5,507.86 L583.0,507.88 L584.5,507.90 L586.0,507.91 L587.5,507.93 L589.0,507.95 L590.5,507.96 L592.0,507.98 L593.5,508.00 L595.0,508.01 L596.5,508.03 L598.0,508.05 L599.5,508.06 L601.0,508.08 L602.5,508.09 L604.0,508.11 L605.5,508.12 L607.0,508.14 L608.5,508.15 L610.0,508.17 L611.5,508.18 L613.0,508.20 L614.5,508.21 L616.0,508.22 L617.5,508.24 L619.0,508.25 L620.5,508.26 L622.0,508.28 L623.5,508.29 L625.0,508.30 L626.5,508.32 L628.0,508.33 L629.5,508.34 L631.0,508.35 L632.5,508.37 L634.0,508.38 L635.5,508.39 L637.0,508.40 L638.5,508.41 L640.0,508.42 L641.5,508.43 L643.0,508.45 L644.5,508.46 L646.0,508.47 L647.5,508.48 L649.0,508.49 L650.5,508.50 L652.0,508.51 L653.5,508.52 L655.0,508.53 L656.5,508.54 L658.0,508.55 L659.5,508.56 L661.0,508.57 L662.5,508.58 L664.0,508.59 L665.5,508.60 L667.0,508.61 L668.5,508.62 L670.0,508.63 L671.5,508.64 L673.0,508.65 L674.5,508.66 L676.0,508.67 L677.5,508.67 L679.0,508.68 L680.5,508.69 L682.0,508.70 L683.5,508.71 L685.0,508.72 L686.5,508.73 L688.0,508.74 L689.5,508.74 L691.0,508.75 L692.5,508.76 L694.0,508.77 L695.5,508.78 L697.0,508.79 L698.5,508.79 L700.0,508.80 L701.5,508.81 L703.0,508.82 L704.5,508.83 L706.0,508.83 L707.5,508.84 L709.0,508.85 L710.5,508.86 L712.0,508.86 L713.5,508.87 L715.0,508.88 L716.5,508.89 L718.0,508.89 L719.5,508.90 L721.0,508.91 L722.5,508.92 L724.0,508.92 L725.5,508.93 L727.0,508.94 L728.5,508.95 L730.0,508.95 L731.5,508.96 L733.0,508.97 L734.5,508.98 L736.0,508.98 L737.5,508.99 L739.0,509.00 L740.5,509.00 L742.0,509.01 L743.5,509.02 L745.0,509.02 L746.5,509.03 L748.0,509.04 L749.5,509.04 L751.0,509.05 L752.5,509.06 L754.0,509.06 L755.5,509.07 L757.0,509.08 L758.5,509.08 L760.0,509.09 L761.5,509.10 L763.0,509.10 L764.5,509.11 L766.0,509.12 L767.5,509.12 L769.0,509.13 L770.5,509.13 L772.0,509.14 L773.5,509.15 L775.0,509.15 L776.5,509.16 L778.0,509.16 L779.5,509.17 L781.0,509.18 L782.5,509.18 L784.0,509.19 L785.5,509.19 L787.0,509.20 L788.5,509.20 L790.0,509.21 L791.5,509.22 L793.0,509.22 L794.5,509.23 L796.0,509.23 L797.5,509.24 L799.0,509.24 L800.5,509.25 L802.0,509.25 L803.5,509.26 L805.0,509.26 L806.5,509.27 L808.0,509.27 L809.5,509.28 L811.0,509.28" stroke="#99f5bb"/><path d="M128.5,509.14 L130.0,509.14 L131.5,509.15 L133.0,509.16 L134.5,509.17 L136.0,509.18 L137.5,509.18 L139.0,509.19 L140.5,509.20 L142.0,509.21 L143.5,509.21 L145.0,509.22 L146.5,509.22 L148.0,509.22 L149.5,509.23 L151.0,509.22 L152.5,509.22 L154.0,509.22 L155.5,509.21 L157.0,509.20 L158.5,509.19 L160.0,509.18 L161.5,509.17 L163.0,509.16 L164.5,509.14 L166.0,509.13 L167.5,509.11 L169.0,509.09 L170.5,509.07 L172.0,509.05 L173.5,509.03 L175.0,509.01 L176.5,508.99 L178.0,508.96 L179.5,508.94 L181.0,508.91 L182.5,508.89 L184.0,508.86 L185.5,508.83 L187.0,508.80 L188.5,508.77 L190.0,508.74 L191.5,508.71 L193.0,508.68 L194.5,508.65 L196.0,508.61 L197.5,508.58 L199.0,508.55 L200.5,508.51 L202.0,508.47 L203.5,508.44 L205.0,508.40 L206.5,508.36 L208.0,508.32 L209.5,508.28 L211.0,508.24 L212.5,508.20 L214.0,508.16 L215.5,508.11 L217.0,508.07 L218.5,508.03 L220.0,507.98 L221.5,507.94 L223.0,507.89 L224.5,507.84 L226.0,507.80 L227.5,507.75 L229.0,507.70 L230.5,507.65 L232.0,507.61 L233.5,507.56 L235.0,507.51 L236.5,507.46 L238.0,507.41 L239.5,507.36 L241.0,507.31 L242.5,507.26 L244.0,507.21 L245.5,507.16 L247.0,507.10 L248.5,507.05 L250.0,507.00 L251.5,506.95 L253.0,506.90 L254.5,506.85 L256.0,506.80 L257.5,506.75 L259.0,506.70 L260.5,506.65 L262.0,506.60 L263.5,506.55 L265.0,506.50 L266.5,506.45 L268.0,506.41 L269.5,506.36 L271.0,506.31 L272.5,506.27 L274.0,506.22 L275.5,506.17 L277.0,506.13 L278.5,506.09 L280.0,506.04 L281.5,506.00 L283.0,505.96 L284.5,505.92 L286.0,505.88 L287.5,505.84 L289.0,505.81 L290.5,505.77 L292.0,505.73 L293.5,505.70 L295.0,505.67 L296.5,505.63 L298.0,505.60 L299.5,505.57 L301.0,505.54 L302.5,505.52 L304.0,505.49 L305.5,505.46 L307.0,505.44 L308.5,505.42 L310.0,505.39 L311.5,505.37 L313.0,505.35 L314.5,505.34 L316.0,505.32 L317.5,505.30 L319.0,505.29 L320.5,505.27 L322.0,505.26 L323.5,505.25 L325.0,505.24 L326.5,505.23 L328.0,505.22 L329.5,505.22 L331.0,505.21 L332.5,505.21 L334.0,505.20 L335.5,505.20 L337.0,505.20 L338.5,505.20 L340.0,505.20 L341.5,505.20 L343.0,505.21 L344.5,505.21 L346.0,505.21 L347.5,505.22 L349.0,505.23 L350.5,505.23 L352.0,505.24 L353.5,505.25 L355.0,505.26 L356.5,505.27 L358.0,505.28 L359.5,505.29 L361.0,505.31 L362.5,505.32 L364.0,505.33 L365.5,505.35 L367.0,505.36 L368.5,505.38 L370.0,505.39 L371.5,505.41 L373.0,505.43 L374.5,505.44 L376.0,505.46 L377.5,505.48 L379.0,505.50 L380.5,505.52 L382.0,505.53 L383.5,505.55 L385.0,505.57 L386.5,505.59 L388.0,505.61 L389.5,505.63 L391.0,505.65 L392.5,505.67 L394.0,505.69 L395.5,505.72 L397.0,505.74 L398.5,505.76 L400.0,505.78 L401.5,505.80 L403.0,505.82 L404.5,505.84 L406.0,505.86 L407.5,505.88 L409.0,505.91 L410.5,505.93 L412.0,505.95 L413.5,505.97 L415.0,505.99 L416.5,506.01 L418.0,506.03 L419.5,506.06 L421.0,506.08 L422.5,506.10 L424.0,506.12 L425.5,506.14 L427.0,506.16 L428.5,506.18 L430.0,506.20 L431.5,506.23 L433.0,506.25 L434.5,506.27 L436.0,506.29 L437.5,506.31 L439.0,506.33 L440.5,506.35 L442.0,506.37 L443.5,506.39 L445.0,506.41 L446.5,506.44 L448.0,506.46 L449.5,506.48 L451.0,506.50 L452.5,506.52 L454.0,506.54 L455.5,506.56 L457.0,506.58 L458.5,506.60 L460.0,506.62 L461.5,506.64 L463.0,506.66 L464.5,506.69 L466.0,506.71 L467.5,506.73 L469.0,506.75 L470.5,506.77 L472.0,506.79 L473.5,506.81 L475.0,506.83 L476.5,506.85 L478.0,506.87 L479.5,506.89 L481.0,506.91 L482.5,506.93 L484.0,506.96 L485.5,506.98 L487.0,507.00 L488.5,507.02 L490.0,507.04 L491.5,507.06 L493.0,507.08 L494.5,507.10 L496.0,507.12 L497.5,507.14 L499.0,507.16 L500.5,507.18 L502.0,507.21 L503.5,507.23 L505.0,507.25 L506.5,507.27 L508.0,507.29 L509.5,507.31 L511.0,507.33 L512.5,507.35 L514.0,507.37 L515.5,507.39 L517.0,507.41 L518.5,507.43 L520.0,507.45 L521.5,507.47 L523.0,507.49 L524.5,507.51 L526.0,507.53 L527.5,507.55 L529.0,507.57 L530.5,507.59 L532.0,507.61 L533.5,507.63 L535.0,507.65 L536.5,507.67 L538.0,507.69 L539.5,507.71 L541.0,507.73 L542.5,507.74 L544.0,507.76 L545.5,507.78 L547.0,507.80 L548.5,507.82 L550.0,507.84 L551.5,507.85 L553.0,507.87 L554.5,507.89 L556.0,507.91 L557.5,507.92 L559.0,507.94 L560.5,507.96 L562.0,507.98 L563.5,507.99 L565.0,508.01 L566.5,508.03 L568.0,508.04 L569.5,508.06 L571.0,508.07 L572.5,508.09 L574.0,508.11 L575.5,508.12 L577.0,508.14 L578.5,508.15 L580.0,508.17 L581.5,508.18 L583.0,508.20 L584.5,508.21 L586.0,508.23 L587.5,508.24 L589.0,508.25 L590.5,508.27 L592.0,508.28 L593.5,508.29 L595.0,508.31 L596.5,508.32 L598.0,508.33 L599.5,508.35 L601.0,508.36 L602.5,508.37 L604.0,508.38 L605.5,508.40 L607.0,508.41 L608.5,508.42 L610.0,508.43 L611.5,508.44 L613.0,508.46 L614.5,508.47 L616.0,508.48 L617.5,508.49 L619.0,508.50 L620.5,508.51 L622.0,508.52 L623.5,508.53 L625.0,508.54 L626.5,508.55 L628.0,508.56 L629.5,508.57 L631.0,508.58 L632.5,508.59 L634.0,508.60 L635.5,508.61 L637.0,508.62 L638.5,508.63 L640.0,508.64 L641.5,508.65 L643.0,508.66 L644.5,508.67 L646.0,508.68 L647.5,508.69 L649.0,508.70 L650.5,508.70 L652.0,508.71 L653.5,508.72 L655.0,508.73 L656.5,508.74 L658.0,508.75 L659.5,508.75 L661.0,508.76 L662.5,508.77 L664.0,508.78 L665.5,508.79 L667.0,508.79 L668.5,508.80 L670.0,508.81 L671.5,508.82 L673.0,508.82 L674.5,508.83 L676.0,508.84 L677.5,508.85 L679.0,508.85 L680.5,508.86 L682.0,508.87 L683.5,508.87 L685.0,508.88 L686.5,508.89 L688.0,508.90 L689.5,508.90 L691.0,508.91 L692.5,508.92 L694.0,508.92 L695.5,508.93 L697.0,508.94 L698.5,508.94 L700.0,508.95 L701.5,508.96 L703.0,508.96 L704.5,508.97 L706.0,508.98 L707.5,508.98 L709.0,508.99 L710.5,508.99 L712.0,509.00 L713.5,509.01 L715.0,509.01 L716.5,509.02 L718.0,509.03 L719.5,509.03 L721.0,509.04 L722.5,509.04 L724.0,509.05 L725.5,509.06 L727.0,509.06 L728.5,509.07 L730.0,509.07 L731.5,509.08 L733.0,509.08 L734.5,509.09 L736.0,509.10 L737.5,509.10 L739.0,509.11 L740.5,509.11 L742.0,509.12 L743.5,509.12 L745.0,509.13 L746.5,509.14 L748.0,509.14 L749.5,509.15 L751.0,509.15 L752.5,509.16 L754.0,509.16 L755.5,509.17 L757.0,509.17 L758.5,509.18 L760.0,509.18 L761.5,509.19 L763.0,509.19 L764.5,509.20 L766.0,509.21 L767.5,509.21 L769.0,509.22 L770.5,509.22 L772.0,509.23 L773.5,509.23 L775.0,509.24 L776.5,509.24 L778.0,509.24 L779.5,509.25 L781.0,509.25 L782.5,509.26 L784.0,509.26 L785.5,509.27 L787.0,509.27 L788.5,509.28 L790.0,509.28 L791.5,509.29 L793.0,509.29 L794.5,509.30 L796.0,509.30 L797.5,509.30 L799.0,509.31 L800.5,509.31 L802.0,509.32 L803.5,509.32 L805.0,509.33 L806.5,509.33 L808.0,509.33 L809.5,509.34 L811.0,509.34" stroke="#99f5bb"/><path d="M128.5,509.38 L130.0,509.38 L131.5,509.39 L133.0,509.39 L134.5,509.39 L136.0,509.40 L137.5,509.40 L139.0,509.41 L140.5,509.41 L142.0,509.41 L143.5,509.42 L145.0,509.42 L146.5,509.42 L148.0,509.42 L149.5,509.42 L151.0,509.42 L152.5,509.42 L154.0,509.42 L155.5,509.41 L157.0,509.41 L158.5,509.41 L160.0,509.40 L161.5,509.40 L163.0,509.39 L164.5,509.38 L166.0,509.38 L167.5,509.37 L169.0,509.36 L170.5,509.35 L172.0,509.34 L173.5,509.33 L175.0,509.32 L176.5,509.31 L178.0,509.30 L179.5,509.28 L181.0,509.27 L182.5,509.26 L184.0,509.25 L185.5,509.23 L187.0,509.22 L188.5,509.21 L190.0,509.19 L191.5,509.18 L193.0,509.16 L194.5,509.15 L196.0,509.13 L197.5,509.11 L199.0,509.10 L200.5,509.08 L202.0,509.06 L203.5,509.04 L205.0,509.03 L206.5,509.01 L208.0,508.99 L209.5,508.97 L211.0,508.95 L212.5,508.93 L214.0,508.91 L215.5,508.89 L217.0,508.87 L218.5,508.85 L220.0,508.83 L221.5,508.81 L223.0,508.78 L224.5,508.76 L226.0,508.74 L227.5,508.72 L229.0,508.69 L230.5,508.67 L232.0,508.65 L233.5,508.62 L235.0,508.60 L236.5,508.58 L238.0,508.55 L239.5,508.53 L241.0,508.51 L242.5,508.48 L244.0,508.46 L245.5,508.43 L247.0,508.41 L248.5,508.38 L250.0,508.36 L251.5,508.34 L253.0,508.31 L254.5,508.29 L256.0,508.26 L257.5,508.24 L259.0,508.22 L260.5,508.19 L262.0,508.17 L263.5,508.14 L265.0,508.12 L266.5,508.10 L268.0,508.08 L269.5,508.05 L271.0,508.03 L272.5,508.01 L274.0,507.99 L275.5,507.97 L277.0,507.94 L278.5,507.92 L280.0,507.90 L281.5,507.88 L283.0,507.86 L284.5,507.84 L286.0,507.83 L287.5,507.81 L289.0,507.79 L290.5,507.77 L292.0,507.75 L293.5,507.74 L295.0,507.72 L296.5,507.71 L298.0,507.69 L299.5,507.68 L301.0,507.66 L302.5,507.65 L304.0,507.64 L305.5,507.63 L307.0,507.61 L308.5,507.60 L310.0,507.59 L311.5,507.58 L313.0,507.57 L314.5,507.56 L316.0,507.56 L317.5,507.55 L319.0,507.54 L320.5,507.54 L322.0,507.53 L323.5,507.52 L325.0,507.52 L326.5,507.51 L328.0,507.51 L329.5,507.51 L331.0,507.51 L332.5,507.50 L334.0,507.50 L335.5,507.50 L337.0,507.50 L338.5,507.50 L340.0,507.50 L341.5,507.50 L343.0,507.50 L344.5,507.50 L346.0,507.51 L347.5,507.51 L349.0,507.51 L350.5,507.52 L352.0,507.52 L353.5,507.52 L355.0,507.53 L356.5,507.53 L358.0,507.54 L359.5,507.54 L361.0,507.55 L362.5,507.56 L364.0,507.56 L365.5,507.57 L367.0,507.58 L368.5,507.58 L370.0,507.59 L371.5,507.60 L373.0,507.61 L374.5,507.62 L376.0,507.62 L377.5,507.63 L379.0,507.64 L380.5,507.65 L382.0,507.66 L383.5,507.67 L385.0,507.68 L386.5,507.69 L388.0,507.70 L389.5,507.71 L391.0,507.72 L392.5,507.73 L394.0,507.74 L395.5,507.75 L397.0,507.76 L398.5,507.77 L400.0,507.78 L401.5,507.79 L403.0,507.80 L404.5,507.81 L406.0,507.82 L407.5,507.83 L409.0,507.84 L410.5,507.85 L412.0,507.86 L413.5,507.87 L415.0,507.88 L416.5,507.89 L418.0,507.90 L419.5,507.91 L421.0,507.92 L422.5,507.93 L424.0,507.94 L425.5,507.95 L427.0,507.96 L428.5,507.97 L430.0,507.98 L431.5,507.99 L433.0,508.00 L434.5,508.01 L436.0,508.02 L437.5,508.03 L439.0,508.04 L440.5,508.05 L442.0,508.06 L443.5,508.07 L445.0,508.08 L446.5,508.09 L448.0,508.10 L449.5,508.11 L451.0,508.12 L452.5,508.13 L454.0,508.14 L455.5,508.15 L457.0,508.16 L458.5,508.17 L460.0,508.18 L461.5,508.19 L463.0,508.20 L464.5,508.21 L466.0,508.22 L467.5,508.23 L469.0,508.24 L470.5,508.25 L472.0,508.26 L473.5,508.27 L475.0,508.28 L476.5,508.29 L478.0,508.30 L479.5,508.31 L481.0,508.32 L482.5,508.33 L484.0,508.34 L485.5,508.35 L487.0,508.36 L488.5,508.37 L490.0,508.38 L491.5,508.39 L493.0,508.40 L494.5,508.41 L496.0,508.42 L497.5,508.43 L499.0,508.44 L500.5,508.45 L502.0,508.46 L503.5,508.47 L505.0,508.48 L506.5,508.49 L508.0,508.50 L509.5,508.51 L511.0,508.52 L512.5,508.53 L514.0,508.54 L515.5,508.55 L517.0,508.56 L518.5,508.56 L520.0,508.57 L521.5,508.58 L523.0,508.59 L524.5,508.60 L526.0,508.61 L527.5,508.62 L529.0,508.63 L530.5,508.64 L532.0,508.65 L533.5,508.66 L535.0,508.67 L536.5,508.68 L538.0,508.69 L539.5,508.70 L541.0,508.71 L542.5,508.71 L544.0,508.72 L545.5,508.73 L547.0,508.74 L548.5,508.75 L550.0,508.76 L551.5,508.77 L553.0,508.78 L554.5,508.78 L556.0,508.79 L557.5,508.80 L559.0,508.81 L560.5,508.82 L562.0,508.82 L563.5,508.83 L565.0,508.84 L566.5,508.85 L568.0,508.86 L569.5,508.86 L571.0,508.87 L572.5,508.88 L574.0,508.89 L575.5,508.89 L577.0,508.90 L578.5,508.91 L580.0,508.92 L581.5,508.92 L583.0,508.93 L584.5,508.94 L586.0,508.94 L587.5,508.95 L589.0,508.96 L590.5,508.96 L592.0,508.97 L593.5,508.98 L595.0,508.98 L596.5,508.99 L598.0,509.00 L599.5,509.00 L601.0,509.01 L602.5,509.01 L604.0,509.02 L605.5,509.03 L607.0,509.03 L608.5,509.04 L610.0,509.04 L611.5,509.05 L613.0,509.05 L614.5,509.06 L616.0,509.06 L617.5,509.07 L619.0,509.08 L620.5,509.08 L622.0,509.09 L623.5,509.09 L625.0,509.10 L626.5,509.10 L628.0,509.11 L629.5,509.11 L631.0,509.12 L632.5,509.12 L634.0,509.12 L635.5,509.13 L637.0,509.13 L638.5,509.14 L640.0,509.14 L641.5,509.15 L643.0,509.15 L644.5,509.16 L646.0,509.16 L647.5,509.16 L649.0,509.17 L650.5,509.17 L652.0,509.18 L653.5,509.18 L655.0,509.18 L656.5,509.19 L658.0,509.19 L659.5,509.20 L661.0,509.20 L662.5,509.20 L664.0,509.21 L665.5,509.21 L667.0,509.21 L668.5,509.22 L670.0,509.22 L671.5,509.23 L673.0,509.23 L674.5,509.23 L676.0,509.24 L677.5,509.24 L679.0,509.24 L680.5,509.25 L682.0,509.25 L683.5,509.25 L685.0,509.26 L686.5,509.26 L688.0,509.26 L689.5,509.27 L691.0,509.27 L692.5,509.27 L694.0,509.28 L695.5,509.28 L697.0,509.28 L698.5,509.29 L700.0,509.29 L701.5,509.29 L703.0,509.30 L704.5,509.30 L706.0,509.30 L707.5,509.30 L709.0,509.31 L710.5,509.31 L712.0,509.31 L713.5,509.32 L715.0,509.32 L716.5,509.32 L718.0,509.33 L719.5,509.33 L721.0,509.33 L722.5,509.33 L724.0,509.34 L725.5,509.34 L727.0,509.34 L728.5,509.35 L730.0,509.35 L731.5,509.35 L733.0,509.35 L734.5,509.36 L736.0,509.36 L737.5,509.36 L739.0,509.37 L740.5,509.37 L742.0,509.37 L743.5,509.37 L745.0,509.38 L746.5,509.38 L748.0,509.38 L749.5,509.38 L751.0,509.39 L752.5,509.39 L754.0,509.39 L755.5,509.39 L757.0,509.40 L758.5,509.40 L760.0,509.40 L761.5,509.40 L763.0,509.41 L764.5,509.41 L766.0,509.41 L767.5,509.41 L769.0,509.42 L770.5,509.42 L772.0,509.42 L773.5,509.42 L775.0,509.43 L776.5,509.43 L778.0,509.43 L779.5,509.43 L781.0,509.44 L782.5,509.44 L784.0,509.44 L785.5,509.44 L787.0,509.44 L788.5,509.45 L790.0,509.45 L791.5,509.45 L793.0,509.45 L794.5,509.45 L796.0,509.46 L797.5,509.46 L799.0,509.46 L800.5,509.46 L802.0,509.47 L803.5,509.47 L805.0,509.47 L806.5,509.47 L808.0,509.47 L809.5,509.48 L811.0,509.48" stroke="#a87040"/><path d="M128.5,509.57 L130.0,509.57 L131.5,509.57 L133.0,509.57 L134.5,509.57 L136.0,509.57 L137.5,509.57 L139.0,509.57 L140.5,509.57 L142.0,509.57 L143.5,509.57 L145.0,509.57 L146.5,509.57 L148.0,509.57 L149.5,509.57 L151.0,509.57 L152.5,509.57 L154.0,509.57 L155.5,509.57 L157.0,509.57 L158.5,509.57 L160.0,509.57 L161.5,509.57 L163.0,509.57 L164.5,509.57 L166.0,509.57 L167.5,509.57 L169.0,509.57 L170.5,509.56 L172.0,509.56 L173.5,509.56 L175.0,509.56 L176.5,509.56 L178.0,509.56 L179.5,509.55 L181.0,509.55 L182.5,509.55 L184.0,509.55 L185.5,509.55 L187.0,509.55 L188.5,509.54 L190.0,509.54 L191.5,509.54 L193.0,509.54 L194.5,509.54 L196.0,509.53 L197.5,509.53 L199.0,509.53 L200.5,509.53 L202.0,509.52 L203.5,509.52 L205.0,509.52 L206.5,509.52 L208.0,509.51 L209.5,509.51 L211.0,509.51 L212.5,509.50 L214.0,509.50 L215.5,509.50 L217.0,509.50 L218.5,509.49 L220.0,509.49 L221.5,509.49 L223.0,509.48 L224.5,509.48 L226.0,509.48 L227.5,509.47 L229.0,509.47 L230.5,509.47 L232.0,509.46 L233.5,509.46 L235.0,509.46 L236.5,509.45 L238.0,509.45 L239.5,509.45 L241.0,509.44 L242.5,509.44 L244.0,509.44 L245.5,509.43 L247.0,509.43 L248.5,509.43 L250.0,509.42 L251.5,509.42 L253.0,509.42 L254.5,509.41 L256.0,509.41 L257.5,509.41 L259.0,509.40 L260.5,509.40 L262.0,509.40 L263.5,509.39 L265.0,509.39 L266.5,509.39 L268.0,509.38 L269.5,509.38 L271.0,509.38 L272.5,509.37 L274.0,509.37 L275.5,509.37 L277.0,509.36 L278.5,509.36 L280.0,509.36 L281.5,509.35 L283.0,509.35 L284.5,509.35 L286.0,509.35 L287.5,509.34 L289.0,509.34 L290.5,509.34 L292.0,509.34 L293.5,509.33 L295.0,509.33 L296.5,509.33 L298.0,509.33 L299.5,509.33 L301.0,509.32 L302.5,509.32 L304.0,509.32 L305.5,509.32 L307.0,509.32 L308.5,509.31 L310.0,509.31 L311.5,509.31 L313.0,509.31 L314.5,509.31 L316.0,509.31 L317.5,509.31 L319.0,509.31 L320.5,509.31 L322.0,509.30 L323.5,509.30 L325.0,509.30 L326.5,509.30 L328.0,509.30 L329.5,509.30 L331.0,509.30 L332.5,509.30 L334.0,509.30 L335.5,509.30 L337.0,509.30 L338.5,509.30 L340.0,509.30 L341.5,509.30 L343.0,509.30 L344.5,509.30 L346.0,509.30 L347.5,509.30 L349.0,509.30 L350.5,509.30 L352.0,509.30 L353.5,509.30 L355.0,509.30 L356.5,509.30 L358.0,509.31 L359.5,509.31 L361.0,509.31 L362.5,509.31 L364.0,509.31 L365.5,509.31 L367.0,509.31 L368.5,509.31 L370.0,509.31 L371.5,509.31 L373.0,509.32 L374.5,509.32 L376.0,509.32 L377.5,509.32 L379.0,509.32 L380.5,509.32 L382.0,509.32 L383.5,509.32 L385.0,509.33 L386.5,509.33 L388.0,509.33 L389.5,509.33 L391.0,509.33 L392.5,509.33 L394.0,509.33 L395.5,509.34 L397.0,509.34 L398.5,509.34 L400.0,509.34 L401.5,509.34 L403.0,509.34 L404.5,509.34 L406.0,509.35 L407.5,509.35 L409.0,509.35 L410.5,509.35 L412.0,509.35 L413.5,509.35 L415.0,509.35 L416.5,509.36 L418.0,509.36 L419.5,509.36 L421.0,509.36 L422.5,509.36 L424.0,509.36 L425.5,509.36 L427.0,509.37 L428.5,509.37 L430.0,509.37 L431.5,509.37 L433.0,509.37 L434.5,509.37 L436.0,509.37 L437.5,509.38 L439.0,509.38 L440.5,509.38 L442.0,509.38 L443.5,509.38 L445.0,509.38 L446.5,509.38 L448.0,509.39 L449.5,509.39 L451.0,509.39 L452.5,509.39 L454.0,509.39 L455.5,509.39 L457.0,509.39 L458.5,509.40 L460.0,509.40 L461.5,509.40 L463.0,509.40 L464.5,509.40 L466.0,509.40 L467.5,509.40 L469.0,509.41 L470.5,509.41 L472.0,509.41 L473.5,509.41 L475.0,509.41 L476.5,509.41 L478.0,509.41 L479.5,509.42 L481.0,509.42 L482.5,509.42 L484.0,509.42 L485.5,509.42 L487.0,509.42 L488.5,509.42 L490.0,509.43 L491.5,509.43 L493.0,509.43 L494.5,509.43 L496.0,509.43 L497.5,509.43 L499.0,509.43 L500.5,509.44 L502.0,509.44 L503.5,509.44 L505.0,509.44 L506.5,509.44 L508.0,509.44 L509.5,509.44 L511.0,509.45 L512.5,509.45 L514.0,509.45 L515.5,509.45 L517.0,509.45 L518.5,509.45 L520.0,509.45 L521.5,509.45 L523.0,509.46 L524.5,509.46 L526.0,509.46 L527.5,509.46 L529.0,509.46 L530.5,509.46 L532.0,509.46 L533.5,509.47 L535.0,509.47 L536.5,509.47 L538.0,509.47 L539.5,509.47 L541.0,509.47 L542.5,509.47 L544.0,509.47 L545.5,509.48 L547.0,509.48 L548.5,509.48 L550.0,509.48 L551.5,509.48 L553.0,509.48 L554.5,509.48 L556.0,509.48 L557.5,509.49 L559.0,509.49 L560.5,509.49 L562.0,509.49 L563.5,509.49 L565.0,509.49 L566.5,509.49 L568.0,509.49 L569.5,509.49 L571.0,509.50 L572.5,509.50 L574.0,509.50 L575.5,509.50 L577.0,509.50 L578.5,509.50 L580.0,509.50 L581.5,509.50 L583.0,509.50 L584.5,509.51 L586.0,509.51 L587.5,509.51 L589.0,509.51 L590.5,509.51 L592.0,509.51 L593.5,509.51 L595.0,509.51 L596.5,509.51 L598.0,509.51 L599.5,509.51 L601.0,509.52 L602.5,509.52 L604.0,509.52 L605.5,509.52 L607.0,509.52 L608.5,509.52 L610.0,509.52 L611.5,509.52 L613.0,509.52 L614.5,509.52 L616.0,509.52 L617.5,509.52 L619.0,509.53 L620.5,509.53 L622.0,509.53 L623.5,509.53 L625.0,509.53 L626.5,509.53 L628.0,509.53 L629.5,509.53 L631.0,509.53 L632.5,509.53 L634.0,509.53 L635.5,509.53 L637.0,509.53 L638.5,509.53 L640.0,509.53 L641.5,509.54 L643.0,509.54 L644.5,509.54 L646.0,509.54 L647.5,509.54 L649.0,509.54 L650.5,509.54 L652.0,509.54 L653.5,509.54 L655.0,509.54 L656.5,509.54 L658.0,509.54 L659.5,509.54 L661.0,509.54 L662.5,509.54 L664.0,509.54 L665.5,509.54 L667.0,509.54 L668.5,509.55 L670.0,509.55 L671.5,509.55 L673.0,509.55 L674.5,509.55 L676.0,509.55 L677.5,509.55 L679.0,509.55 L680.5,509.55 L682.0,509.55 L683.5,509.55 L685.0,509.55 L686.5,509.55 L688.0,509.55 L689.5,509.55 L691.0,509.55 L692.5,509.55 L694.0,509.55 L695.5,509.55 L697.0,509.55 L698.5,509.56 L700.0,509.56 L701.5,509.56 L703.0,509.56 L704.5,509.56 L706.0,509.56 L707.5,509.56 L709.0,509.56 L710.5,509.56 L712.0,509.56 L713.5,509.56 L715.0,509.56 L716.5,509.56 L718.0,509.56 L719.5,509.56 L721.0,509.56 L722.5,509.56 L724.0,509.56 L725.5,509.56 L727.0,509.56 L728.5,509.56 L730.0,509.56 L731.5,509.56 L733.0,509.56 L734.5,509.57 L736.0,509.57 L737.5,509.57 L739.0,509.57 L740.5,509.57 L742.0,509.57 L743.5,509.57 L745.0,509.57 L746.5,509.57 L748.0,509.57 L749.5,509.57 L751.0,509.57 L752.5,509.57 L754.0,509.57 L755.5,509.57 L757.0,509.57 L758.5,509.57 L760.0,509.57 L761.5,509.57 L763.0,509.57 L764.5,509.57 L766.0,509.57 L767.5,509.57 L769.0,509.57 L770.5,509.57 L772.0,509.57 L773.5,509.57 L775.0,509.58 L776.5,509.58 L778.0,509.58 L779.5,509.58 L781.0,509.58 L782.5,509.58 L784.0,509.58 L785.5,509.58 L787.0,509.58 L788.5,509.58 L790.0,509.58 L791.5,509.58 L793.0,509.58 L794.5,509.58 L796.0,509.58 L797.5,509.58 L799.0,509.58 L800.5,509.58 L802.0,509.58 L803.5,509.58 L805.0,509.58 L806.5,509.58 L808.0,509.58 L809.5,509.58 L811.0,509.58" stroke="#b8b8b8"/><path d="M128.5,507.51 L130.0,507.56 L131.5,507.61 L133.0,507.67 L134.5,507.74 L136.0,507.80 L137.5,507.87 L139.0,507.93 L140.5,507.99 L142.0,508.05 L143.5,508.09 L145.0,508.13 L146.5,508.16 L148.0,508.17 L149.5,508.18 L151.0,508.17 L152.5,508.15 L154.0,508.11 L155.5,508.07 L157.0,508.01 L158.5,507.94 L160.0,507.87 L161.5,507.78 L163.0,507.67 L164.5,507.56 L166.0,507.44 L167.5,507.32 L169.0,507.18 L170.5,507.04 L172.0,506.88 L173.5,506.72 L175.0,506.56 L176.5,506.38 L178.0,506.20 L179.5,506.02 L181.0,505.83 L182.5,505.63 L184.0,505.42 L185.5,505.21 L187.0,504.99 L188.5,504.77 L190.0,504.54 L191.5,504.31 L193.0,504.07 L194.5,503.82 L196.0,503.57 L197.5,503.31 L199.0,503.05 L200.5,502.78 L202.0,502.51 L203.5,502.23 L205.0,501.94 L206.5,501.65 L208.0,501.35 L209.5,501.05 L211.0,500.74 L212.5,500.43 L214.0,500.11 L215.5,499.79 L217.0,499.46 L218.5,499.13 L220.0,498.79 L221.5,498.45 L223.0,498.11 L224.5,497.76 L226.0,497.41 L227.5,497.05 L229.0,496.69 L230.5,496.33 L232.0,495.96 L233.5,495.59 L235.0,495.22 L236.5,494.85 L238.0,494.47 L239.5,494.09 L241.0,493.71 L242.5,493.33 L244.0,492.95 L245.5,492.56 L247.0,492.18 L248.5,491.80 L250.0,491.41 L251.5,491.03 L253.0,490.64 L254.5,490.26 L256.0,489.88 L257.5,489.50 L259.0,489.12 L260.5,488.75 L262.0,488.37 L263.5,488.00 L265.0,487.64 L266.5,487.27 L268.0,486.91 L269.5,486.55 L271.0,486.20 L272.5,485.85 L274.0,485.51 L275.5,485.17 L277.0,484.84 L278.5,484.51 L280.0,484.19 L281.5,483.87 L283.0,483.56 L284.5,483.26 L286.0,482.96 L287.5,482.67 L289.0,482.39 L290.5,482.11 L292.0,481.85 L293.5,481.59 L295.0,481.33 L296.5,481.09 L298.0,480.86 L299.5,480.63 L301.0,480.41 L302.5,480.20 L304.0,480.00 L305.5,479.81 L307.0,479.62 L308.5,479.45 L310.0,479.28 L311.5,479.13 L313.0,478.98 L314.5,478.84 L316.0,478.71 L317.5,478.59 L319.0,478.48 L320.5,478.38 L322.0,478.28 L323.5,478.20 L325.0,478.12 L326.5,478.05 L328.0,478.00 L329.5,477.95 L331.0,477.90 L332.5,477.87 L334.0,477.85 L335.5,477.83 L337.0,477.82 L338.5,477.82 L340.0,477.83 L341.5,477.84 L343.0,477.86 L344.5,477.89 L346.0,477.93 L347.5,477.97 L349.0,478.02 L350.5,478.07 L352.0,478.13 L353.5,478.20 L355.0,478.27 L356.5,478.35 L358.0,478.43 L359.5,478.52 L361.0,478.62 L362.5,478.72 L364.0,478.82 L365.5,478.93 L367.0,479.04 L368.5,479.16 L370.0,479.28 L371.5,479.40 L373.0,479.52 L374.5,479.65 L376.0,479.79 L377.5,479.92 L379.0,480.06 L380.5,480.20 L382.0,480.34 L383.5,480.49 L385.0,480.63 L386.5,480.78 L388.0,480.93 L389.5,481.09 L391.0,481.24 L392.5,481.39 L394.0,481.55 L395.5,481.71 L397.0,481.86 L398.5,482.02 L400.0,482.18 L401.5,482.34 L403.0,482.50 L404.5,482.66 L406.0,482.82 L407.5,482.98 L409.0,483.14 L410.5,483.30 L412.0,483.47 L413.5,483.63 L415.0,483.79 L416.5,483.95 L418.0,484.11 L419.5,484.27 L421.0,484.43 L422.5,484.59 L424.0,484.76 L425.5,484.92 L427.0,485.08 L428.5,485.24 L430.0,485.40 L431.5,485.56 L433.0,485.72 L434.5,485.87 L436.0,486.03 L437.5,486.19 L439.0,486.35 L440.5,486.51 L442.0,486.67 L443.5,486.82 L445.0,486.98 L446.5,487.14 L448.0,487.30 L449.5,487.45 L451.0,487.61 L452.5,487.77 L454.0,487.92 L455.5,488.08 L457.0,488.24 L458.5,488.39 L460.0,488.55 L461.5,488.71 L463.0,488.86 L464.5,489.02 L466.0,489.18 L467.5,489.33 L469.0,489.49 L470.5,489.65 L472.0,489.80 L473.5,489.96 L475.0,490.12 L476.5,490.28 L478.0,490.43 L479.5,490.59 L481.0,490.75 L482.5,490.90 L484.0,491.06 L485.5,491.22 L487.0,491.37 L488.5,491.53 L490.0,491.69 L491.5,491.85 L493.0,492.00 L494.5,492.16 L496.0,492.32 L497.5,492.47 L499.0,492.63 L500.5,492.79 L502.0,492.94 L503.5,493.10 L505.0,493.25 L506.5,493.41 L508.0,493.57 L509.5,493.72 L511.0,493.88 L512.5,494.03 L514.0,494.18 L515.5,494.34 L517.0,494.49 L518.5,494.64 L520.0,494.80 L521.5,494.95 L523.0,495.10 L524.5,495.25 L526.0,495.40 L527.5,495.55 L529.0,495.70 L530.5,495.85 L532.0,495.99 L533.5,496.14 L535.0,496.29 L536.5,496.43 L538.0,496.58 L539.5,496.72 L541.0,496.86 L542.5,497.00 L544.0,497.14 L545.5,497.28 L547.0,497.42 L548.5,497.56 L550.0,497.70 L551.5,497.83 L553.0,497.97 L554.5,498.10 L556.0,498.23 L557.5,498.36 L559.0,498.49 L560.5,498.62 L562.0,498.75 L563.5,498.88 L565.0,499.00 L566.5,499.13 L568.0,499.25 L569.5,499.37 L571.0,499.49 L572.5,499.61 L574.0,499.73 L575.5,499.85 L577.0,499.96 L578.5,500.08 L580.0,500.19 L581.5,500.30 L583.0,500.41 L584.5,500.52 L586.0,500.63 L587.5,500.74 L589.0,500.85 L590.5,500.95 L592.0,501.05 L593.5,501.16 L595.0,501.26 L596.5,501.36 L598.0,501.45 L599.5,501.55 L601.0,501.65 L602.5,501.74 L604.0,501.84 L605.5,501.93 L607.0,502.02 L608.5,502.11 L610.0,502.20 L611.5,502.29 L613.0,502.37 L614.5,502.46 L616.0,502.55 L617.5,502.63 L619.0,502.71 L620.5,502.79 L622.0,502.87 L623.5,502.95 L625.0,503.03 L626.5,503.11 L628.0,503.19 L629.5,503.26 L631.0,503.34 L632.5,503.41 L634.0,503.49 L635.5,503.56 L637.0,503.63 L638.5,503.70 L640.0,503.77 L641.5,503.84 L643.0,503.91 L644.5,503.98 L646.0,504.04 L647.5,504.11 L649.0,504.18 L650.5,504.24 L652.0,504.31 L653.5,504.37 L655.0,504.43 L656.5,504.50 L658.0,504.56 L659.5,504.62 L661.0,504.68 L662.5,504.74 L664.0,504.80 L665.5,504.86 L667.0,504.92 L668.5,504.97 L670.0,505.03 L671.5,505.09 L673.0,505.14 L674.5,505.20 L676.0,505.26 L677.5,505.31 L679.0,505.37 L680.5,505.42 L682.0,505.47 L683.5,505.53 L685.0,505.58 L686.5,505.63 L688.0,505.69 L689.5,505.74 L691.0,505.79 L692.5,505.84 L694.0,505.89 L695.5,505.94 L697.0,505.99 L698.5,506.04 L700.0,506.09 L701.5,506.14 L703.0,506.19 L704.5,506.24 L706.0,506.29 L707.5,506.34 L709.0,506.38 L710.5,506.43 L712.0,506.48 L713.5,506.53 L715.0,506.57 L716.5,506.62 L718.0,506.67 L719.5,506.71 L721.0,506.76 L722.5,506.80 L724.0,506.85 L725.5,506.89 L727.0,506.94 L728.5,506.98 L730.0,507.03 L731.5,507.07 L733.0,507.12 L734.5,507.16 L736.0,507.20 L737.5,507.25 L739.0,507.29 L740.5,507.33 L742.0,507.37 L743.5,507.42 L745.0,507.46 L746.5,507.50 L748.0,507.54 L749.5,507.58 L751.0,507.62 L752.5,507.67 L754.0,507.71 L755.5,507.75 L757.0,507.79 L758.5,507.83 L760.0,507.87 L761.5,507.91 L763.0,507.94 L764.5,507.98 L766.0,508.02 L767.5,508.06 L769.0,508.10 L770.5,508.14 L772.0,508.17 L773.5,508.21 L775.0,508.25 L776.5,508.28 L778.0,508.32 L779.5,508.36 L781.0,508.39 L782.5,508.43 L784.0,508.46 L785.5,508.50 L787.0,508.53 L788.5,508.57 L790.0,508.60 L791.5,508.64 L793.0,508.67 L794.5,508.71 L796.0,508.74 L797.5,508.77 L799.0,508.80 L800.5,508.84 L802.0,508.87 L803.5,508.90 L805.0,508.93 L806.5,508.96 L808.0,508.99 L809.5,509.03 L811.0,509.06" stroke="#7a9fd0"/><path d="M128.5,507.81 L130.0,507.79 L131.5,507.78 L133.0,507.76 L134.5,507.74 L136.0,507.72 L137.5,507.70 L139.0,507.68 L140.5,507.65 L142.0,507.63 L143.5,507.60 L145.0,507.57 L146.5,507.55 L148.0,507.52 L149.5,507.48 L151.0,507.45 L152.5,507.41 L154.0,507.38 L155.5,507.34 L157.0,507.30 L158.5,507.25 L160.0,507.21 L161.5,507.16 L163.0,507.11 L164.5,507.06 L166.0,507.00 L167.5,506.94 L169.0,506.88 L170.5,506.82 L172.0,506.75 L173.5,506.68 L175.0,506.61 L176.5,506.53 L178.0,506.45 L179.5,506.36 L181.0,506.28 L182.5,506.18 L184.0,506.09 L185.5,505.99 L187.0,505.88 L188.5,505.77 L190.0,505.66 L191.5,505.54 L193.0,505.41 L194.5,505.29 L196.0,505.15 L197.5,505.01 L199.0,504.87 L200.5,504.72 L202.0,504.56 L203.5,504.40 L205.0,504.24 L206.5,504.06 L208.0,503.89 L209.5,503.70 L211.0,503.51 L212.5,503.32 L214.0,503.12 L215.5,502.91 L217.0,502.69 L218.5,502.47 L220.0,502.25 L221.5,502.02 L223.0,501.78 L224.5,501.54 L226.0,501.29 L227.5,501.03 L229.0,500.77 L230.5,500.51 L232.0,500.23 L233.5,499.96 L235.0,499.68 L236.5,499.39 L238.0,499.10 L239.5,498.80 L241.0,498.50 L242.5,498.20 L244.0,497.89 L245.5,497.57 L247.0,497.26 L248.5,496.94 L250.0,496.61 L251.5,496.29 L253.0,495.96 L254.5,495.63 L256.0,495.30 L257.5,494.96 L259.0,494.63 L260.5,494.29 L262.0,493.95 L263.5,493.61 L265.0,493.27 L266.5,492.93 L268.0,492.59 L269.5,492.25 L271.0,491.91 L272.5,491.58 L274.0,491.24 L275.5,490.90 L277.0,490.57 L278.5,490.24 L280.0,489.90 L281.5,489.57 L283.0,489.25 L284.5,488.92 L286.0,488.60 L287.5,488.28 L289.0,487.96 L290.5,487.65 L292.0,487.33 L293.5,487.02 L295.0,486.72 L296.5,486.41 L298.0,486.11 L299.5,485.81 L301.0,485.52 L302.5,485.23 L304.0,484.94 L305.5,484.65 L307.0,484.36 L308.5,484.08 L310.0,483.80 L311.5,483.52 L313.0,483.25 L314.5,482.97 L316.0,482.70 L317.5,482.43 L319.0,482.17 L320.5,481.90 L322.0,481.63 L323.5,481.37 L325.0,481.11 L326.5,480.85 L328.0,480.59 L329.5,480.33 L331.0,480.07 L332.5,479.81 L334.0,479.56 L335.5,479.30 L337.0,479.05 L338.5,478.79 L340.0,478.54 L341.5,478.28 L343.0,478.03 L344.5,477.77 L346.0,477.52 L347.5,477.26 L349.0,477.01 L350.5,476.76 L352.0,476.50 L353.5,476.25 L355.0,476.00 L356.5,475.74 L358.0,475.49 L359.5,475.24 L361.0,474.99 L362.5,474.74 L364.0,474.49 L365.5,474.24 L367.0,473.99 L368.5,473.75 L370.0,473.50 L371.5,473.26 L373.0,473.02 L374.5,472.78 L376.0,472.54 L377.5,472.31 L379.0,472.08 L380.5,471.85 L382.0,471.62 L383.5,471.40 L385.0,471.17 L386.5,470.96 L388.0,470.74 L389.5,470.53 L391.0,470.33 L392.5,470.13 L394.0,469.93 L395.5,469.74 L397.0,469.55 L398.5,469.37 L400.0,469.19 L401.5,469.02 L403.0,468.85 L404.5,468.69 L406.0,468.54 L407.5,468.39 L409.0,468.25 L410.5,468.11 L412.0,467.98 L413.5,467.85 L415.0,467.74 L416.5,467.62 L418.0,467.52 L419.5,467.42 L421.0,467.33 L422.5,467.25 L424.0,467.17 L425.5,467.10 L427.0,467.04 L428.5,466.98 L430.0,466.93 L431.5,466.89 L433.0,466.85 L434.5,466.82 L436.0,466.80 L437.5,466.79 L439.0,466.78 L440.5,466.78 L442.0,466.79 L443.5,466.80 L445.0,466.82 L446.5,466.85 L448.0,466.88 L449.5,466.92 L451.0,466.97 L452.5,467.02 L454.0,467.08 L455.5,467.15 L457.0,467.22 L458.5,467.30 L460.0,467.38 L461.5,467.47 L463.0,467.57 L464.5,467.67 L466.0,467.77 L467.5,467.88 L469.0,468.00 L470.5,468.12 L472.0,468.25 L473.5,468.38 L475.0,468.51 L476.5,468.65 L478.0,468.80 L479.5,468.94 L481.0,469.09 L482.5,469.25 L484.0,469.41 L485.5,469.57 L487.0,469.74 L488.5,469.91 L490.0,470.08 L491.5,470.26 L493.0,470.44 L494.5,470.62 L496.0,470.80 L497.5,470.99 L499.0,471.18 L500.5,471.37 L502.0,471.56 L503.5,471.76 L505.0,471.95 L506.5,472.15 L508.0,472.35 L509.5,472.56 L511.0,472.76 L512.5,472.97 L514.0,473.17 L515.5,473.38 L517.0,473.59 L518.5,473.80 L520.0,474.01 L521.5,474.22 L523.0,474.43 L524.5,474.65 L526.0,474.86 L527.5,475.07 L529.0,475.29 L530.5,475.50 L532.0,475.72 L533.5,475.94 L535.0,476.15 L536.5,476.37 L538.0,476.59 L539.5,476.81 L541.0,477.02 L542.5,477.24 L544.0,477.46 L545.5,477.68 L547.0,477.90 L548.5,478.12 L550.0,478.34 L551.5,478.56 L553.0,478.78 L554.5,479.00 L556.0,479.22 L557.5,479.44 L559.0,479.66 L560.5,479.88 L562.0,480.10 L563.5,480.32 L565.0,480.54 L566.5,480.76 L568.0,480.98 L569.5,481.21 L571.0,481.43 L572.5,481.65 L574.0,481.87 L575.5,482.10 L577.0,482.32 L578.5,482.54 L580.0,482.77 L581.5,482.99 L583.0,483.22 L584.5,483.44 L586.0,483.67 L587.5,483.89 L589.0,484.12 L590.5,484.35 L592.0,484.57 L593.5,484.80 L595.0,485.03 L596.5,485.26 L598.0,485.49 L599.5,485.71 L601.0,485.94 L602.5,486.17 L604.0,486.40 L605.5,486.63 L607.0,486.86 L608.5,487.09 L610.0,487.32 L611.5,487.55 L613.0,487.77 L614.5,488.00 L616.0,488.23 L617.5,488.46 L619.0,488.69 L620.5,488.91 L622.0,489.14 L623.5,489.37 L625.0,489.59 L626.5,489.81 L628.0,490.04 L629.5,490.26 L631.0,490.48 L632.5,490.70 L634.0,490.92 L635.5,491.13 L637.0,491.35 L638.5,491.56 L640.0,491.77 L641.5,491.98 L643.0,492.19 L644.5,492.40 L646.0,492.60 L647.5,492.80 L649.0,493.00 L650.5,493.19 L652.0,493.39 L653.5,493.58 L655.0,493.76 L656.5,493.95 L658.0,494.13 L659.5,494.31 L661.0,494.48 L662.5,494.65 L664.0,494.82 L665.5,494.99 L667.0,495.15 L668.5,495.31 L670.0,495.47 L671.5,495.62 L673.0,495.77 L674.5,495.92 L676.0,496.07 L677.5,496.21 L679.0,496.35 L680.5,496.48 L682.0,496.62 L683.5,496.75 L685.0,496.88 L686.5,497.01 L688.0,497.13 L689.5,497.26 L691.0,497.38 L692.5,497.50 L694.0,497.62 L695.5,497.74 L697.0,497.86 L698.5,497.98 L700.0,498.10 L701.5,498.22 L703.0,498.33 L704.5,498.45 L706.0,498.57 L707.5,498.69 L709.0,498.81 L710.5,498.93 L712.0,499.05 L713.5,499.17 L715.0,499.30 L716.5,499.42 L718.0,499.55 L719.5,499.68 L721.0,499.81 L722.5,499.94 L724.0,500.08 L725.5,500.21 L727.0,500.35 L728.5,500.49 L730.0,500.63 L731.5,500.77 L733.0,500.92 L734.5,501.06 L736.0,501.21 L737.5,501.36 L739.0,501.51 L740.5,501.66 L742.0,501.82 L743.5,501.97 L745.0,502.13 L746.5,502.28 L748.0,502.44 L749.5,502.59 L751.0,502.75 L752.5,502.90 L754.0,503.06 L755.5,503.21 L757.0,503.37 L758.5,503.52 L760.0,503.67 L761.5,503.82 L763.0,503.97 L764.5,504.12 L766.0,504.26 L767.5,504.40 L769.0,504.55 L770.5,504.68 L772.0,504.82 L773.5,504.95 L775.0,505.08 L776.5,505.21 L778.0,505.33 L779.5,505.45 L781.0,505.57 L782.5,505.69 L784.0,505.80 L785.5,505.90 L787.0,506.01 L788.5,506.11 L790.0,506.21 L791.5,506.30 L793.0,506.39 L794.5,506.48 L796.0,506.56 L797.5,506.64 L799.0,506.72 L800.5,506.80 L802.0,506.87 L803.5,506.93 L805.0,507.00 L806.5,507.06 L808.0,507.12 L809.5,507.17 L811.0,507.23" stroke="#ff44ff" stroke-width="2"/><path d="M128.5,507.29 L130.0,507.23 L131.5,507.18 L133.0,507.12 L134.5,507.06 L136.0,506.99 L137.5,506.93 L139.0,506.86 L140.5,506.79 L142.0,506.72 L143.5,506.64 L145.0,506.56 L146.5,506.48 L148.0,506.39 L149.5,506.30 L151.0,506.20 L152.5,506.10 L154.0,506.00 L155.5,505.88 L157.0,505.77 L158.5,505.64 L160.0,505.51 L161.5,505.38 L163.0,505.23 L164.5,505.08 L166.0,504.92 L167.5,504.74 L169.0,504.56 L170.5,504.37 L172.0,504.17 L173.5,503.95 L175.0,503.72 L176.5,503.48 L178.0,503.22 L179.5,502.95 L181.0,502.67 L182.5,502.36 L184.0,502.05 L185.5,501.71 L187.0,501.36 L188.5,500.98 L190.0,500.59 L191.5,500.18 L193.0,499.75 L194.5,499.30 L196.0,498.82 L197.5,498.33 L199.0,497.82 L200.5,497.28 L202.0,496.73 L203.5,496.16 L205.0,495.56 L206.5,494.95 L208.0,494.32 L209.5,493.67 L211.0,493.01 L212.5,492.33 L214.0,491.63 L215.5,490.92 L217.0,490.20 L218.5,489.46 L220.0,488.72 L221.5,487.96 L223.0,487.20 L224.5,486.44 L226.0,485.67 L227.5,484.89 L229.0,484.12 L230.5,483.34 L232.0,482.56 L233.5,481.79 L235.0,481.02 L236.5,480.25 L238.0,479.49 L239.5,478.73 L241.0,477.98 L242.5,477.23 L244.0,476.49 L245.5,475.76 L247.0,475.03 L248.5,474.32 L250.0,473.61 L251.5,472.90 L253.0,472.21 L254.5,471.52 L256.0,470.84 L257.5,470.16 L259.0,469.49 L260.5,468.82 L262.0,468.16 L263.5,467.51 L265.0,466.85 L266.5,466.21 L268.0,465.56 L269.5,464.92 L271.0,464.28 L272.5,463.65 L274.0,463.02 L275.5,462.39 L277.0,461.77 L278.5,461.15 L280.0,460.53 L281.5,459.92 L283.0,459.31 L284.5,458.71 L286.0,458.12 L287.5,457.53 L289.0,456.95 L290.5,456.38 L292.0,455.82 L293.5,455.27 L295.0,454.73 L296.5,454.21 L298.0,453.69 L299.5,453.19 L301.0,452.71 L302.5,452.24 L304.0,451.79 L305.5,451.35 L307.0,450.94 L308.5,450.54 L310.0,450.16 L311.5,449.80 L313.0,449.46 L314.5,449.14 L316.0,448.84 L317.5,448.56 L319.0,448.31 L320.5,448.07 L322.0,447.86 L323.5,447.66 L325.0,447.49 L326.5,447.34 L328.0,447.21 L329.5,447.10 L331.0,447.01 L332.5,446.94 L334.0,446.89 L335.5,446.85 L337.0,446.84 L338.5,446.84 L340.0,446.86 L341.5,446.90 L343.0,446.95 L344.5,447.02 L346.0,447.10 L347.5,447.20 L349.0,447.31 L350.5,447.43 L352.0,447.57 L353.5,447.71 L355.0,447.87 L356.5,448.03 L358.0,448.21 L359.5,448.40 L361.0,448.59 L362.5,448.79 L364.0,449.00 L365.5,449.21 L367.0,449.43 L368.5,449.66 L370.0,449.89 L371.5,450.13 L373.0,450.37 L374.5,450.62 L376.0,450.87 L377.5,451.12 L379.0,451.38 L380.5,451.64 L382.0,451.90 L383.5,452.17 L385.0,452.44 L386.5,452.71 L388.0,452.98 L389.5,453.26 L391.0,453.53 L392.5,453.81 L394.0,454.09 L395.5,454.38 L397.0,454.67 L398.5,454.95 L400.0,455.24 L401.5,455.54 L403.0,455.83 L404.5,456.13 L406.0,456.43 L407.5,456.73 L409.0,457.04 L410.5,457.34 L412.0,457.65 L413.5,457.97 L415.0,458.28 L416.5,458.60 L418.0,458.92 L419.5,459.25 L421.0,459.57 L422.5,459.90 L424.0,460.24 L425.5,460.58 L427.0,460.92 L428.5,461.26 L430.0,461.61 L431.5,461.96 L433.0,462.31 L434.5,462.67 L436.0,463.02 L437.5,463.39 L439.0,463.75 L440.5,464.12 L442.0,464.49 L443.5,464.87 L445.0,465.24 L446.5,465.62 L448.0,466.01 L449.5,466.39 L451.0,466.78 L452.5,467.17 L454.0,467.56 L455.5,467.95 L457.0,468.34 L458.5,468.74 L460.0,469.14 L461.5,469.53 L463.0,469.93 L464.5,470.33 L466.0,470.74 L467.5,471.14 L469.0,471.54 L470.5,471.94 L472.0,472.34 L473.5,472.74 L475.0,473.14 L476.5,473.54 L478.0,473.94 L479.5,474.34 L481.0,474.74 L482.5,475.14 L484.0,475.53 L485.5,475.92 L487.0,476.31 L488.5,476.70 L490.0,477.09 L491.5,477.48 L493.0,477.86 L494.5,478.24 L496.0,478.62 L497.5,478.99 L499.0,479.36 L500.5,479.73 L502.0,480.10 L503.5,480.46 L505.0,480.82 L506.5,481.18 L508.0,481.53 L509.5,481.88 L511.0,482.22 L512.5,482.57 L514.0,482.90 L515.5,483.24 L517.0,483.57 L518.5,483.90 L520.0,484.22 L521.5,484.54 L523.0,484.86 L524.5,485.17 L526.0,485.48 L527.5,485.78 L529.0,486.08 L530.5,486.38 L532.0,486.67 L533.5,486.96 L535.0,487.25 L536.5,487.53 L538.0,487.81 L539.5,488.08 L541.0,488.35 L542.5,488.62 L544.0,488.88 L545.5,489.14 L547.0,489.40 L548.5,489.65 L550.0,489.90 L551.5,490.15 L553.0,490.39 L554.5,490.63 L556.0,490.87 L557.5,491.10 L559.0,491.33 L560.5,491.56 L562.0,491.79 L563.5,492.01 L565.0,492.23 L566.5,492.44 L568.0,492.66 L569.5,492.87 L571.0,493.08 L572.5,493.28 L574.0,493.48 L575.5,493.68 L577.0,493.88 L578.5,494.08 L580.0,494.27 L581.5,494.46 L583.0,494.65 L584.5,494.84 L586.0,495.02 L587.5,495.20 L589.0,495.38 L590.5,495.56 L592.0,495.74 L593.5,495.91 L595.0,496.09 L596.5,496.26 L598.0,496.43 L599.5,496.60 L601.0,496.76 L602.5,496.93 L604.0,497.09 L605.5,497.25 L607.0,497.41 L608.5,497.57 L610.0,497.72 L611.5,497.88 L613.0,498.03 L614.5,498.18 L616.0,498.33 L617.5,498.48 L619.0,498.63 L620.5,498.77 L622.0,498.92 L623.5,499.06 L625.0,499.21 L626.5,499.35 L628.0,499.49 L629.5,499.62 L631.0,499.76 L632.5,499.90 L634.0,500.03 L635.5,500.16 L637.0,500.30 L638.5,500.43 L640.0,500.56 L641.5,500.69 L643.0,500.81 L644.5,500.94 L646.0,501.06 L647.5,501.19 L649.0,501.31 L650.5,501.43 L652.0,501.55 L653.5,501.67 L655.0,501.79 L656.5,501.90 L658.0,502.02 L659.5,502.13 L661.0,502.25 L662.5,502.36 L664.0,502.47 L665.5,502.58 L667.0,502.69 L668.5,502.80 L670.0,502.90 L671.5,503.01 L673.0,503.11 L674.5,503.21 L676.0,503.32 L677.5,503.42 L679.0,503.52 L680.5,503.61 L682.0,503.71 L683.5,503.81 L685.0,503.90 L686.5,504.00 L688.0,504.09 L689.5,504.18 L691.0,504.27 L692.5,504.36 L694.0,504.45 L695.5,504.53 L697.0,504.62 L698.5,504.71 L700.0,504.79 L701.5,504.87 L703.0,504.95 L704.5,505.03 L706.0,505.11 L707.5,505.19 L709.0,505.27 L710.5,505.35 L712.0,505.42 L713.5,505.49 L715.0,505.57 L716.5,505.64 L718.0,505.71 L719.5,505.78 L721.0,505.85 L722.5,505.92 L724.0,505.98 L725.5,506.05 L727.0,506.11 L728.5,506.18 L730.0,506.24 L731.5,506.30 L733.0,506.36 L734.5,506.42 L736.0,506.48 L737.5,506.54 L739.0,506.60 L740.5,506.65 L742.0,506.71 L743.5,506.76 L745.0,506.82 L746.5,506.87 L748.0,506.92 L749.5,506.97 L751.0,507.02 L752.5,507.07 L754.0,507.12 L755.5,507.17 L757.0,507.21 L758.5,507.26 L760.0,507.30 L761.5,507.35 L763.0,507.39 L764.5,507.43 L766.0,507.47 L767.5,507.51 L769.0,507.55 L770.5,507.59 L772.0,507.63 L773.5,507.67 L775.0,507.71 L776.5,507.74 L778.0,507.78 L779.5,507.81 L781.0,507.85 L782.5,507.88 L784.0,507.91 L785.5,507.94 L787.0,507.98 L788.5,508.01 L790.0,508.04 L791.5,508.07 L793.0,508.10 L794.5,508.12 L796.0,508.15 L797.5,508.18 L799.0,508.20 L800.5,508.23 L802.0,508.26 L803.5,508.28 L805.0,508.31 L806.5,508.33 L808.0,508.35 L809.5,508.37 L811.0,508.40" stroke="#5555b5"/><path d="M128.5,507.03 L130.0,506.97 L131.5,506.90 L133.0,506.82 L134.5,506.75 L136.0,506.67 L137.5,506.59 L139.0,506.50 L140.5,506.42 L142.0,506.32 L143.5,506.23 L145.0,506.13 L146.5,506.02 L148.0,505.91 L149.5,505.79 L151.0,505.67 L152.5,505.54 L154.0,505.40 L155.5,505.26 L157.0,505.11 L158.5,504.95 L160.0,504.78 L161.5,504.60 L163.0,504.41 L164.5,504.21 L166.0,504.00 L167.5,503.78 L169.0,503.55 L170.5,503.31 L172.0,503.05 L173.5,502.78 L175.0,502.49 L176.5,502.19 L178.0,501.87 L179.5,501.53 L181.0,501.18 L182.5,500.81 L184.0,500.43 L185.5,500.02 L187.0,499.60 L188.5,499.15 L190.0,498.69 L191.5,498.20 L193.0,497.70 L194.5,497.17 L196.0,496.63 L197.5,496.06 L199.0,495.47 L200.5,494.86 L202.0,494.23 L203.5,493.57 L205.0,492.90 L206.5,492.21 L208.0,491.49 L209.5,490.76 L211.0,490.01 L212.5,489.23 L214.0,488.45 L215.5,487.64 L217.0,486.82 L218.5,485.98 L220.0,485.13 L221.5,484.26 L223.0,483.39 L224.5,482.50 L226.0,481.60 L227.5,480.69 L229.0,479.78 L230.5,478.86 L232.0,477.93 L233.5,477.00 L235.0,476.07 L236.5,475.13 L238.0,474.20 L239.5,473.27 L241.0,472.34 L242.5,471.41 L244.0,470.48 L245.5,469.56 L247.0,468.65 L248.5,467.74 L250.0,466.84 L251.5,465.95 L253.0,465.07 L254.5,464.20 L256.0,463.33 L257.5,462.48 L259.0,461.64 L260.5,460.81 L262.0,459.99 L263.5,459.18 L265.0,458.38 L266.5,457.59 L268.0,456.82 L269.5,456.05 L271.0,455.30 L272.5,454.56 L274.0,453.83 L275.5,453.11 L277.0,452.40 L278.5,451.71 L280.0,451.02 L281.5,450.34 L283.0,449.68 L284.5,449.02 L286.0,448.38 L287.5,447.74 L289.0,447.12 L290.5,446.51 L292.0,445.90 L293.5,445.31 L295.0,444.73 L296.5,444.16 L298.0,443.60 L299.5,443.05 L301.0,442.52 L302.5,442.00 L304.0,441.49 L305.5,440.99 L307.0,440.51 L308.5,440.04 L310.0,439.59 L311.5,439.15 L313.0,438.73 L314.5,438.33 L316.0,437.94 L317.5,437.57 L319.0,437.22 L320.5,436.89 L322.0,436.57 L323.5,436.28 L325.0,436.00 L326.5,435.74 L328.0,435.51 L329.5,435.30 L331.0,435.10 L332.5,434.93 L334.0,434.78 L335.5,434.65 L337.0,434.54 L338.5,434.45 L340.0,434.38 L341.5,434.34 L343.0,434.31 L344.5,434.31 L346.0,434.32 L347.5,434.35 L349.0,434.41 L350.5,434.48 L352.0,434.57 L353.5,434.67 L355.0,434.80 L356.5,434.94 L358.0,435.09 L359.5,435.27 L361.0,435.45 L362.5,435.65 L364.0,435.86 L365.5,436.09 L367.0,436.32 L368.5,436.57 L370.0,436.82 L371.5,437.09 L373.0,437.37 L374.5,437.65 L376.0,437.94 L377.5,438.24 L379.0,438.54 L380.5,438.85 L382.0,439.17 L383.5,439.49 L385.0,439.81 L386.5,440.14 L388.0,440.47 L389.5,440.81 L391.0,441.15 L392.5,441.49 L394.0,441.83 L395.5,442.18 L397.0,442.52 L398.5,442.87 L400.0,443.23 L401.5,443.58 L403.0,443.93 L404.5,444.29 L406.0,444.65 L407.5,445.01 L409.0,445.38 L410.5,445.74 L412.0,446.11 L413.5,446.48 L415.0,446.85 L416.5,447.23 L418.0,447.60 L419.5,447.98 L421.0,448.37 L422.5,448.76 L424.0,449.15 L425.5,449.54 L427.0,449.94 L428.5,450.35 L430.0,450.76 L431.5,451.17 L433.0,451.59 L434.5,452.01 L436.0,452.44 L437.5,452.87 L439.0,453.30 L440.5,453.75 L442.0,454.20 L443.5,454.65 L445.0,455.11 L446.5,455.57 L448.0,456.04 L449.5,456.51 L451.0,456.99 L452.5,457.47 L454.0,457.96 L455.5,458.46 L457.0,458.95 L458.5,459.46 L460.0,459.96 L461.5,460.47 L463.0,460.98 L464.5,461.50 L466.0,462.02 L467.5,462.54 L469.0,463.06 L470.5,463.59 L472.0,464.12 L473.5,464.65 L475.0,465.18 L476.5,465.71 L478.0,466.24 L479.5,466.77 L481.0,467.30 L482.5,467.83 L484.0,468.36 L485.5,468.89 L487.0,469.42 L488.5,469.94 L490.0,470.46 L491.5,470.98 L493.0,471.50 L494.5,472.01 L496.0,472.52 L497.5,473.02 L499.0,473.52 L500.5,474.02 L502.0,474.51 L503.5,475.00 L505.0,475.48 L506.5,475.95 L508.0,476.42 L509.5,476.88 L511.0,477.34 L512.5,477.79 L514.0,478.24 L515.5,478.68 L517.0,479.11 L518.5,479.54 L520.0,479.96 L521.5,480.37 L523.0,480.78 L524.5,481.18 L526.0,481.57 L527.5,481.96 L529.0,482.34 L530.5,482.71 L532.0,483.08 L533.5,483.44 L535.0,483.79 L536.5,484.14 L538.0,484.48 L539.5,484.82 L541.0,485.15 L542.5,485.47 L544.0,485.79 L545.5,486.10 L547.0,486.40 L548.5,486.70 L550.0,487.00 L551.5,487.29 L553.0,487.57 L554.5,487.85 L556.0,488.13 L557.5,488.40 L559.0,488.66 L560.5,488.92 L562.0,489.18 L563.5,489.43 L565.0,489.68 L566.5,489.93 L568.0,490.17 L569.5,490.40 L571.0,490.64 L572.5,490.87 L574.0,491.09 L575.5,491.32 L577.0,491.54 L578.5,491.76 L580.0,491.97 L581.5,492.18 L583.0,492.39 L584.5,492.60 L586.0,492.81 L587.5,493.01 L589.0,493.21 L590.5,493.41 L592.0,493.60 L593.5,493.80 L595.0,493.99 L596.5,494.18 L598.0,494.37 L599.5,494.56 L601.0,494.74 L602.5,494.93 L604.0,495.11 L605.5,495.29 L607.0,495.47 L608.5,495.64 L610.0,495.82 L611.5,496.00 L613.0,496.17 L614.5,496.34 L616.0,496.51 L617.5,496.68 L619.0,496.85 L620.5,497.01 L622.0,497.18 L623.5,497.34 L625.0,497.51 L626.5,497.67 L628.0,497.83 L629.5,497.99 L631.0,498.15 L632.5,498.30 L634.0,498.46 L635.5,498.62 L637.0,498.77 L638.5,498.92 L640.0,499.07 L641.5,499.22 L643.0,499.37 L644.5,499.52 L646.0,499.66 L647.5,499.81 L649.0,499.95 L650.5,500.10 L652.0,500.24 L653.5,500.38 L655.0,500.52 L656.5,500.66 L658.0,500.79 L659.5,500.93 L661.0,501.06 L662.5,501.19 L664.0,501.33 L665.5,501.46 L667.0,501.59 L668.5,501.71 L670.0,501.84 L671.5,501.97 L673.0,502.09 L674.5,502.21 L676.0,502.33 L677.5,502.45 L679.0,502.57 L680.5,502.69 L682.0,502.81 L683.5,502.92 L685.0,503.03 L686.5,503.15 L688.0,503.26 L689.5,503.37 L691.0,503.48 L692.5,503.58 L694.0,503.69 L695.5,503.79 L697.0,503.90 L698.5,504.00 L700.0,504.10 L701.5,504.20 L703.0,504.30 L704.5,504.39 L706.0,504.49 L707.5,504.58 L709.0,504.68 L710.5,504.77 L712.0,504.86 L713.5,504.95 L715.0,505.04 L716.5,505.12 L718.0,505.21 L719.5,505.29 L721.0,505.37 L722.5,505.46 L724.0,505.54 L725.5,505.62 L727.0,505.69 L728.5,505.77 L730.0,505.85 L731.5,505.92 L733.0,505.99 L734.5,506.07 L736.0,506.14 L737.5,506.21 L739.0,506.28 L740.5,506.34 L742.0,506.41 L743.5,506.47 L745.0,506.54 L746.5,506.60 L748.0,506.66 L749.5,506.72 L751.0,506.78 L752.5,506.84 L754.0,506.90 L755.5,506.96 L757.0,507.01 L758.5,507.07 L760.0,507.12 L761.5,507.18 L763.0,507.23 L764.5,507.28 L766.0,507.33 L767.5,507.38 L769.0,507.43 L770.5,507.47 L772.0,507.52 L773.5,507.56 L775.0,507.61 L776.5,507.65 L778.0,507.69 L779.5,507.74 L781.0,507.78 L782.5,507.82 L784.0,507.86 L785.5,507.90 L787.0,507.93 L788.5,507.97 L790.0,508.01 L791.5,508.04 L793.0,508.08 L794.5,508.11 L796.0,508.14 L797.5,508.18 L799.0,508.21 L800.5,508.24 L802.0,508.27 L803.5,508.30 L805.0,508.33 L806.5,508.36 L808.0,508.39 L809.5,508.41 L811.0,508.44" stroke="#cc6aaa"/><path d="M128.5,506.53 L130.0,506.31 L131.5,506.08 L133.0,505.83 L134.5,505.55 L136.0,505.26 L137.5,504.94 L139.0,504.60 L140.5,504.23 L142.0,503.83 L143.5,503.40 L145.0,502.94 L146.5,502.44 L148.0,501.91 L149.5,501.34 L151.0,500.73 L152.5,500.08 L154.0,499.38 L155.5,498.64 L157.0,497.84 L158.5,497.00 L160.0,496.10 L161.5,495.14 L163.0,494.12 L164.5,493.04 L166.0,491.89 L167.5,490.68 L169.0,489.39 L170.5,488.04 L172.0,486.60 L173.5,485.09 L175.0,483.49 L176.5,481.81 L178.0,480.04 L179.5,478.18 L181.0,476.23 L182.5,474.19 L184.0,472.04 L185.5,469.80 L187.0,467.46 L188.5,465.02 L190.0,462.46 L191.5,459.81 L193.0,457.04 L194.5,454.17 L196.0,451.18 L197.5,448.09 L199.0,444.88 L200.5,441.56 L202.0,438.12 L203.5,434.58 L205.0,430.92 L206.5,427.15 L208.0,423.28 L209.5,419.29 L211.0,415.19 L212.5,410.99 L214.0,406.69 L215.5,402.28 L217.0,397.78 L218.5,393.18 L220.0,388.49 L221.5,383.71 L223.0,378.84 L224.5,373.90 L226.0,368.88 L227.5,363.79 L229.0,358.63 L230.5,353.41 L232.0,348.13 L233.5,342.81 L235.0,337.43 L236.5,332.02 L238.0,326.58 L239.5,321.11 L241.0,315.62 L242.5,310.11 L244.0,304.59 L245.5,299.08 L247.0,293.56 L248.5,288.06 L250.0,282.57 L251.5,277.11 L253.0,271.68 L254.5,266.28 L256.0,260.92 L257.5,255.60 L259.0,250.34 L260.5,245.14 L262.0,240.00 L263.5,234.92 L265.0,229.92 L266.5,224.99 L268.0,220.14 L269.5,215.37 L271.0,210.70 L272.5,206.11 L274.0,201.62 L275.5,197.22 L277.0,192.92 L278.5,188.72 L280.0,184.63 L281.5,180.63 L283.0,176.75 L284.5,172.97 L286.0,169.29 L287.5,165.73 L289.0,162.27 L290.5,158.92 L292.0,155.68 L293.5,152.54 L295.0,149.51 L296.5,146.59 L298.0,143.77 L299.5,141.05 L301.0,138.44 L302.5,135.93 L304.0,133.52 L305.5,131.21 L307.0,129.00 L308.5,126.89 L310.0,124.87 L311.5,122.94 L313.0,121.11 L314.5,119.37 L316.0,117.72 L317.5,116.16 L319.0,114.68 L320.5,113.29 L322.0,111.99 L323.5,110.77 L325.0,109.64 L326.5,108.58 L328.0,107.61 L329.5,106.73 L331.0,105.92 L332.5,105.19 L334.0,104.55 L335.5,103.98 L337.0,103.50 L338.5,103.09 L340.0,102.76 L341.5,102.52 L343.0,102.35 L344.5,102.26 L346.0,102.26 L347.5,102.33 L349.0,102.48 L350.5,102.71 L352.0,103.03 L353.5,103.42 L355.0,103.89 L356.5,104.45 L358.0,105.08 L359.5,105.79 L361.0,106.59 L362.5,107.46 L364.0,108.42 L365.5,109.45 L367.0,110.56 L368.5,111.75 L370.0,113.02 L371.5,114.37 L373.0,115.79 L374.5,117.29 L376.0,118.86 L377.5,120.50 L379.0,122.21 L380.5,124.00 L382.0,125.85 L383.5,127.78 L385.0,129.76 L386.5,131.81 L388.0,133.93 L389.5,136.10 L391.0,138.34 L392.5,140.63 L394.0,142.97 L395.5,145.36 L397.0,147.81 L398.5,150.31 L400.0,152.85 L401.5,155.43 L403.0,158.05 L404.5,160.72 L406.0,163.42 L407.5,166.15 L409.0,168.92 L410.5,171.71 L412.0,174.54 L413.5,177.39 L415.0,180.26 L416.5,183.15 L418.0,186.06 L419.5,188.99 L421.0,191.94 L422.5,194.89 L424.0,197.86 L425.5,200.84 L427.0,203.82 L428.5,206.81 L430.0,209.80 L431.5,212.80 L433.0,215.79 L434.5,218.79 L436.0,221.78 L437.5,224.77 L439.0,227.76 L440.5,230.74 L442.0,233.71 L443.5,236.67 L445.0,239.63 L446.5,242.58 L448.0,245.51 L449.5,248.44 L451.0,251.35 L452.5,254.25 L454.0,257.14 L455.5,260.01 L457.0,262.87 L458.5,265.71 L460.0,268.54 L461.5,271.35 L463.0,274.15 L464.5,276.93 L466.0,279.69 L467.5,282.44 L469.0,285.17 L470.5,287.88 L472.0,290.58 L473.5,293.26 L475.0,295.91 L476.5,298.56 L478.0,301.18 L479.5,303.78 L481.0,306.37 L482.5,308.94 L484.0,311.49 L485.5,314.02 L487.0,316.53 L488.5,319.02 L490.0,321.50 L491.5,323.95 L493.0,326.39 L494.5,328.80 L496.0,331.20 L497.5,333.58 L499.0,335.94 L500.5,338.27 L502.0,340.59 L503.5,342.89 L505.0,345.17 L506.5,347.43 L508.0,349.67 L509.5,351.89 L511.0,354.09 L512.5,356.26 L514.0,358.42 L515.5,360.56 L517.0,362.68 L518.5,364.77 L520.0,366.85 L521.5,368.90 L523.0,370.93 L524.5,372.94 L526.0,374.93 L527.5,376.90 L529.0,378.85 L530.5,380.78 L532.0,382.68 L533.5,384.56 L535.0,386.43 L536.5,388.27 L538.0,390.08 L539.5,391.88 L541.0,393.66 L542.5,395.41 L544.0,397.14 L545.5,398.85 L547.0,400.54 L548.5,402.21 L550.0,403.85 L551.5,405.48 L553.0,407.08 L554.5,408.67 L556.0,410.23 L557.5,411.77 L559.0,413.29 L560.5,414.78 L562.0,416.26 L563.5,417.72 L565.0,419.16 L566.5,420.57 L568.0,421.97 L569.5,423.35 L571.0,424.70 L572.5,426.04 L574.0,427.36 L575.5,428.66 L577.0,429.94 L578.5,431.20 L580.0,432.45 L581.5,433.67 L583.0,434.88 L584.5,436.07 L586.0,437.24 L587.5,438.40 L589.0,439.54 L590.5,440.66 L592.0,441.76 L593.5,442.85 L595.0,443.93 L596.5,444.98 L598.0,446.02 L599.5,447.05 L601.0,448.06 L602.5,449.06 L604.0,450.04 L605.5,451.01 L607.0,451.96 L608.5,452.90 L610.0,453.83 L611.5,454.74 L613.0,455.64 L614.5,456.53 L616.0,457.40 L617.5,458.26 L619.0,459.11 L620.5,459.95 L622.0,460.77 L623.5,461.59 L625.0,462.39 L626.5,463.18 L628.0,463.96 L629.5,464.73 L631.0,465.49 L632.5,466.24 L634.0,466.98 L635.5,467.70 L637.0,468.42 L638.5,469.13 L640.0,469.83 L641.5,470.52 L643.0,471.20 L644.5,471.87 L646.0,472.53 L647.5,473.18 L649.0,473.82 L650.5,474.46 L652.0,475.08 L653.5,475.70 L655.0,476.31 L656.5,476.91 L658.0,477.50 L659.5,478.09 L661.0,478.66 L662.5,479.23 L664.0,479.79 L665.5,480.35 L667.0,480.89 L668.5,481.43 L670.0,481.96 L671.5,482.48 L673.0,483.00 L674.5,483.51 L676.0,484.01 L677.5,484.51 L679.0,484.99 L680.5,485.47 L682.0,485.95 L683.5,486.41 L685.0,486.87 L686.5,487.33 L688.0,487.77 L689.5,488.21 L691.0,488.65 L692.5,489.07 L694.0,489.49 L695.5,489.91 L697.0,490.32 L698.5,490.72 L700.0,491.11 L701.5,491.50 L703.0,491.88 L704.5,492.26 L706.0,492.63 L707.5,493.00 L709.0,493.36 L710.5,493.71 L712.0,494.06 L713.5,494.40 L715.0,494.73 L716.5,495.06 L718.0,495.39 L719.5,495.70 L721.0,496.02 L722.5,496.33 L724.0,496.63 L725.5,496.92 L727.0,497.22 L728.5,497.50 L730.0,497.78 L731.5,498.06 L733.0,498.33 L734.5,498.59 L736.0,498.85 L737.5,499.11 L739.0,499.36 L740.5,499.60 L742.0,499.84 L743.5,500.08 L745.0,500.31 L746.5,500.54 L748.0,500.76 L749.5,500.98 L751.0,501.19 L752.5,501.40 L754.0,501.60 L755.5,501.80 L757.0,502.00 L758.5,502.19 L760.0,502.37 L761.5,502.56 L763.0,502.74 L764.5,502.91 L766.0,503.08 L767.5,503.25 L769.0,503.41 L770.5,503.57 L772.0,503.73 L773.5,503.88 L775.0,504.03 L776.5,504.17 L778.0,504.31 L779.5,504.45 L781.0,504.59 L782.5,504.72 L784.0,504.85 L785.5,504.97 L787.0,505.09 L788.5,505.21 L790.0,505.33 L791.5,505.44 L793.0,505.55 L794.5,505.66 L796.0,505.76 L797.5,505.86 L799.0,505.96 L800.5,506.06 L802.0,506.15 L803.5,506.24 L805.0,506.33 L806.5,506.42 L808.0,506.50 L809.5,506.58 L811.0,506.66" stroke="#ff5555" stroke-width="1.8"/></g><g stroke="#000" stroke-width="2.2" fill="none"><line x1="127.6" y1="3.3" x2="127.6" y2="512.1"/><line x1="126.5" y1="511.0" x2="812.2" y2="511.0"/><line x1="116.5" y1="511.00" x2="127.6" y2="511.00"/><line x1="122" y1="479.99" x2="127.6" y2="479.99"/><line x1="116.5" y1="448.98" x2="127.6" y2="448.98"/><line x1="122" y1="417.97" x2="127.6" y2="417.97"/><line x1="116.5" y1="386.96" x2="127.6" y2="386.96"/><line x1="122" y1="355.94" x2="127.6" y2="355.94"/><line x1="116.5" y1="324.93" x2="127.6" y2="324.93"/><line x1="122" y1="293.92" x2="127.6" y2="293.92"/><line x1="116.5" y1="262.91" x2="127.6" y2="262.91"/><line x1="122" y1="231.90" x2="127.6" y2="231.90"/><line x1="116.5" y1="200.89" x2="127.6" y2="200.89"/><line x1="122" y1="169.88" x2="127.6" y2="169.88"/><line x1="116.5" y1="138.87" x2="127.6" y2="138.87"/><line x1="122" y1="107.86" x2="127.6" y2="107.86"/><line x1="116.5" y1="76.85" x2="127.6" y2="76.85"/><line x1="122" y1="45.83" x2="127.6" y2="45.83"/><line x1="116.5" y1="14.82" x2="127.6" y2="14.82"/><line x1="145.62" y1="511.0" x2="145.62" y2="517"/><line x1="199.66" y1="511.0" x2="199.66" y2="521.7"/><line x1="253.71" y1="511.0" x2="253.71" y2="517"/><line x1="307.76" y1="511.0" x2="307.76" y2="521.7"/><line x1="361.81" y1="511.0" x2="361.81" y2="517"/><line x1="415.86" y1="511.0" x2="415.86" y2="521.7"/><line x1="469.90" y1="511.0" x2="469.90" y2="517"/><line x1="523.95" y1="511.0" x2="523.95" y2="521.7"/><line x1="578.00" y1="511.0" x2="578.00" y2="517"/><line x1="632.05" y1="511.0" x2="632.05" y2="521.7"/><line x1="686.10" y1="511.0" x2="686.10" y2="517"/><line x1="740.14" y1="511.0" x2="740.14" y2="521.7"/><line x1="794.19" y1="511.0" x2="794.19" y2="517"/></g><g font-family="Liberation Serif, serif" font-size="26" fill="#000"><text transform="translate(110.8,518.3) scale(0.965,1)" text-anchor="end">0</text><text transform="translate(110.8,456.3) scale(0.965,1)" text-anchor="end">600</text><text transform="translate(110.8,394.3) scale(0.965,1)" text-anchor="end">1200</text><text transform="translate(110.8,332.2) scale(0.965,1)" text-anchor="end">1800</text><text transform="translate(110.8,270.2) scale(0.965,1)" text-anchor="end">2400</text><text transform="translate(110.8,208.2) scale(0.965,1)" text-anchor="end">3000</text><text transform="translate(110.8,146.2) scale(0.965,1)" text-anchor="end">3600</text><text transform="translate(110.8,84.1) scale(0.965,1)" text-anchor="end">4200</text><text transform="translate(110.8,22.1) scale(0.965,1)" text-anchor="end">4800</text><text x="199.7" y="547.8" text-anchor="middle">390</text><text x="307.8" y="547.8" text-anchor="middle">420</text><text x="415.9" y="547.8" text-anchor="middle">450</text><text x="524.0" y="547.8" text-anchor="middle">480</text><text x="632.0" y="547.8" text-anchor="middle">510</text><text x="740.1" y="547.8" text-anchor="middle">540</text></g><text font-family="Liberation Serif, serif" font-weight="bold" font-size="28" fill="#000" transform="translate(360.10,586.30) scale(0.9737,1)">Wavelength (nm)</text><text font-family="Liberation Serif, serif" font-weight="bold" font-size="28" fill="#000" transform="translate(39.20,427.10) rotate(-90) scale(0.9606,1)">Fluorescence Intensity (a.u.)</text><text font-family="Liberation Serif, serif" font-size="44" fill="#000" transform="translate(0.90,31.30) scale(0.9870,1)">(a)</text><line x1="242.5" y1="477.8" x2="252.6" y2="444.3" stroke="#000" stroke-width="3.2"/><path d="M256.7,430.9 L256.8,446.6 L248.0,443.9 Z" fill="#000"/><line x1="330.2" y1="477.4" x2="348.8" y2="413.1" stroke="#000" stroke-width="3.2"/><path d="M352.6,400.1 L353.0,415.3 L344.1,412.7 Z" fill="#000"/><line x1="405.2" y1="441.6" x2="433.1" y2="430.7" stroke="#222" stroke-width="1.6"/><path d="M441.5,427.4 L433.6,434.8 L430.7,427.3 Z" fill="#222"/><text font-family="Liberation Serif, serif" font-weight="bold" font-size="20" fill="#000" transform="translate(408.10,156.50) scale(0.9787,1)">H<tspan font-size="12" baseline-shift="-6.2">4</tspan>L+B<tspan font-size="12" baseline-shift="-6.2">4</tspan>O<tspan font-size="12" baseline-shift="-6.2">7</tspan><tspan font-size="12" baseline-shift="10">2-</tspan></text><text font-family="Liberation Serif, serif" font-weight="bold" font-size="18.3" fill="#000" transform="translate(273.60,390.90) scale(1.0330,1)">L, L+Hcy, L+other ions</text><text font-family="Liberation Serif, serif" font-weight="bold" font-size="18.3" fill="#000" transform="translate(227.70,421.20) scale(1.0345,1)">L+HCO<tspan font-size="12" baseline-shift="-6">3</tspan><tspan font-size="17" baseline-shift="11">-</tspan></text><text font-family="Liberation Serif, serif" font-weight="bold" font-size="18.3" fill="#000" transform="translate(455.50,434.80) scale(1.0234,1)">H<tspan font-size="12" baseline-shift="-6.5">2</tspan>O<tspan font-size="12" baseline-shift="-6.5">2</tspan></text><text font-family="Liberation Serif, serif" font-weight="bold" font-size="18.3" fill="#000" transform="translate(517.90,465.40) scale(1.0334,1)">L+CN<tspan font-size="17" baseline-shift="11">-</tspan></text><rect x="959.8" y="95.3" width="30" height="421.2" fill="url(#g0)" stroke="#FF0000" stroke-width="1"/><rect x="1009.5" y="126.8" width="30" height="389.7" fill="url(#g1)" stroke="#00FF00" stroke-width="1"/><rect x="1059.1" y="154.5" width="30" height="362.0" fill="url(#g2)" stroke="#0000FF" stroke-width="1"/><rect x="1108.8" y="84.8" width="30" height="431.7" fill="url(#g3)" stroke="#00FFFF" stroke-width="1"/><rect x="1158.4" y="123.3" width="30" height="393.2" fill="url(#g4)" stroke="#FF00FF" stroke-width="1"/><rect x="1208.0" y="66.4" width="30" height="450.1" fill="url(#g5)" stroke="#FFFF00" stroke-width="1"/><rect x="1257.7" y="75.7" width="30" height="440.8" fill="url(#g6)" stroke="#808000" stroke-width="1"/><rect x="1307.3" y="74.6" width="30" height="441.9" fill="url(#g7)" stroke="#000080" stroke-width="1"/><rect x="1357.0" y="66.4" width="30" height="450.1" fill="url(#g8)" stroke="#800080" stroke-width="1"/><rect x="1406.6" y="69.3" width="30" height="447.2" fill="url(#g9)" stroke="#800000" stroke-width="1"/><rect x="1456.3" y="42.6" width="30" height="473.9" fill="url(#g10)" stroke="#008000" stroke-width="1"/><rect x="1505.9" y="135.1" width="30" height="381.4" fill="url(#g11)" stroke="#008080" stroke-width="1"/><rect x="1555.6" y="68.8" width="30" height="447.7" fill="url(#g12)" stroke="#0000A0" stroke-width="1"/><rect x="1605.2" y="124.5" width="30" height="392.0" fill="url(#g13)" stroke="#FF8000" stroke-width="1"/><g stroke="#000" stroke-width="2.2" fill="none"><line x1="948.9" y1="7" x2="948.9" y2="517.6"/><line x1="947.8" y1="516.5" x2="1645" y2="516.5"/><line x1="938.4" y1="516.50" x2="948.9" y2="516.50"/><line x1="944" y1="481.84" x2="948.9" y2="481.84"/><line x1="938.4" y1="447.18" x2="948.9" y2="447.18"/><line x1="944" y1="412.52" x2="948.9" y2="412.52"/><line x1="938.4" y1="377.86" x2="948.9" y2="377.86"/><line x1="944" y1="343.20" x2="948.9" y2="343.20"/><line x1="938.4" y1="308.54" x2="948.9" y2="308.54"/><line x1="944" y1="273.88" x2="948.9" y2="273.88"/><line x1="938.4" y1="239.22" x2="948.9" y2="239.22"/><line x1="944" y1="204.56" x2="948.9" y2="204.56"/><line x1="938.4" y1="169.90" x2="948.9" y2="169.90"/><line x1="944" y1="135.24" x2="948.9" y2="135.24"/><line x1="938.4" y1="100.58" x2="948.9" y2="100.58"/><line x1="944" y1="65.92" x2="948.9" y2="65.92"/><line x1="938.4" y1="31.26" x2="948.9" y2="31.26"/><line x1="974.80" y1="516.5" x2="974.80" y2="528"/><line x1="1024.45" y1="516.5" x2="1024.45" y2="528"/><line x1="1074.10" y1="516.5" x2="1074.10" y2="528"/><line x1="1123.75" y1="516.5" x2="1123.75" y2="528"/><line x1="1173.40" y1="516.5" x2="1173.40" y2="528"/><line x1="1223.05" y1="516.5" x2="1223.05" y2="528"/><line x1="1272.70" y1="516.5" x2="1272.70" y2="528"/><line x1="1322.35" y1="516.5" x2="1322.35" y2="528"/><line x1="1372.00" y1="516.5" x2="1372.00" y2="528"/><line x1="1421.65" y1="516.5" x2="1421.65" y2="528"/><line x1="1471.30" y1="516.5" x2="1471.30" y2="528"/><line x1="1520.95" y1="516.5" x2="1520.95" y2="528"/><line x1="1570.60" y1="516.5" x2="1570.60" y2="528"/><line x1="1620.25" y1="516.5" x2="1620.25" y2="528"/><line x1="949.97" y1="516.5" x2="949.97" y2="522"/><line x1="999.62" y1="516.5" x2="999.62" y2="522"/><line x1="1049.27" y1="516.5" x2="1049.27" y2="522"/><line x1="1098.92" y1="516.5" x2="1098.92" y2="522"/><line x1="1148.57" y1="516.5" x2="1148.57" y2="522"/><line x1="1198.22" y1="516.5" x2="1198.22" y2="522"/><line x1="1247.87" y1="516.5" x2="1247.87" y2="522"/><line x1="1297.52" y1="516.5" x2="1297.52" y2="522"/><line x1="1347.17" y1="516.5" x2="1347.17" y2="522"/><line x1="1396.82" y1="516.5" x2="1396.82" y2="522"/><line x1="1446.47" y1="516.5" x2="1446.47" y2="522"/><line x1="1496.12" y1="516.5" x2="1496.12" y2="522"/><line x1="1545.77" y1="516.5" x2="1545.77" y2="522"/><line x1="1595.42" y1="516.5" x2="1595.42" y2="522"/><line x1="1645.08" y1="516.5" x2="1645.08" y2="522"/></g><g font-family="Liberation Serif, serif" font-weight="bold" font-size="22" text-anchor="end" fill="#000"><text transform="translate(931.6,523.3) scale(1.045,1)">0</text><text transform="translate(931.6,454.0) scale(1.045,1)">500</text><text transform="translate(931.6,384.7) scale(1.045,1)">1000</text><text transform="translate(931.6,315.3) scale(1.045,1)">1500</text><text transform="translate(931.6,246.0) scale(1.045,1)">2000</text><text transform="translate(931.6,176.7) scale(1.045,1)">2500</text><text transform="translate(931.6,107.4) scale(1.045,1)">3000</text><text transform="translate(931.6,38.1) scale(1.045,1)">3500</text></g><text font-family="Liberation Serif, serif" font-weight="bold" font-size="18" fill="#000" transform="translate(963.50,549.70) scale(0.9331,1)">Br<tspan font-size="10" baseline-shift="7.7">-</tspan></text><text font-family="Liberation Serif, serif" font-weight="bold" font-size="18" fill="#000" transform="translate(1013.20,549.70) scale(0.9526,1)">Cl<tspan font-size="10" baseline-shift="7.7">-</tspan></text><text font-family="Liberation Serif, serif" font-weight="bold" font-size="18" fill="#000" transform="translate(1062.30,550.80) scale(0.8876,1)">CN<tspan font-size="10" baseline-shift="7.7">-</tspan></text><text font-family="Liberation Serif, serif" font-weight="bold" font-size="18" fill="#000" transform="translate(1103.40,550.80) scale(0.9163,1)">CO<tspan font-size="10" baseline-shift="-5.7">3</tspan><tspan font-size="10" baseline-shift="7.7">2-</tspan></text><text font-family="Liberation Serif, serif" font-weight="bold" font-size="18" fill="#000" transform="translate(1150.30,552.20) scale(0.9130,1)">HCO<tspan font-size="10" baseline-shift="-5.7">3</tspan><tspan font-size="10" baseline-shift="7.7">-</tspan></text><text font-family="Liberation Serif, serif" font-weight="bold" font-size="18" fill="#000" transform="translate(1200.30,551.10) scale(0.9351,1)">H<tspan font-size="10" baseline-shift="-5.7">2</tspan>PO<tspan font-size="10" baseline-shift="-5.7">4</tspan><tspan font-size="10" baseline-shift="7.7">-</tspan></text><text font-family="Liberation Serif, serif" font-weight="bold" font-size="18" fill="#000" transform="translate(1254.60,551.50) scale(0.9108,1)">HSO<tspan font-size="10" baseline-shift="-5.7">4</tspan><tspan font-size="10" baseline-shift="7.7">-</tspan></text><text font-family="Liberation Serif, serif" font-weight="bold" font-size="18" fill="#000" transform="translate(1305.10,551.10) scale(0.9328,1)">NO<tspan font-size="10" baseline-shift="-5.7">3</tspan><tspan font-size="10" baseline-shift="7.7">-</tspan></text><text font-family="Liberation Serif, serif" font-weight="bold" font-size="18" fill="#000" transform="translate(1351.00,549.60) scale(0.9077,1)">OAc<tspan font-size="10" baseline-shift="7.7">-</tspan></text><text font-family="Liberation Serif, serif" font-weight="bold" font-size="18" fill="#000" transform="translate(1403.80,549.00) scale(0.8326,1)">S<tspan font-size="10" baseline-shift="-5.7">2</tspan>O<tspan font-size="10" baseline-shift="-5.7">3</tspan><tspan font-size="10" baseline-shift="7.7">2-</tspan></text><text font-family="Liberation Serif, serif" font-weight="bold" font-size="18" fill="#000" transform="translate(1454.90,553.00) scale(0.8645,1)">SCN<tspan font-size="10" baseline-shift="7.7">-</tspan></text><text font-family="Liberation Serif, serif" font-weight="bold" font-size="18" fill="#000" transform="translate(1504.80,551.90) scale(0.9077,1)">SO<tspan font-size="10" baseline-shift="-5.7">4</tspan><tspan font-size="10" baseline-shift="7.7">2-</tspan></text><text font-family="Liberation Serif, serif" font-weight="bold" font-size="18" fill="#000" transform="translate(1554.60,553.60) scale(0.8943,1)">Hcy</text><text font-family="Liberation Serif, serif" font-weight="bold" font-size="18" fill="#000" transform="translate(1603.10,552.50) scale(0.9174,1)">H<tspan font-size="10" baseline-shift="-5.7">2</tspan>O<tspan font-size="10" baseline-shift="-5.7">2</tspan></text><text font-family="Liberation Serif, serif" font-weight="bold" font-size="28" fill="#000" transform="translate(864.50,456.10) rotate(-90) scale(0.9860,1)">Fluorescence Intensity (a. u.)</text><text font-family="Liberation Serif, serif" font-size="32" fill="#000" transform="translate(821.90,35.20) scale(1.0118,1)">(b)</text></svg></body></html>
